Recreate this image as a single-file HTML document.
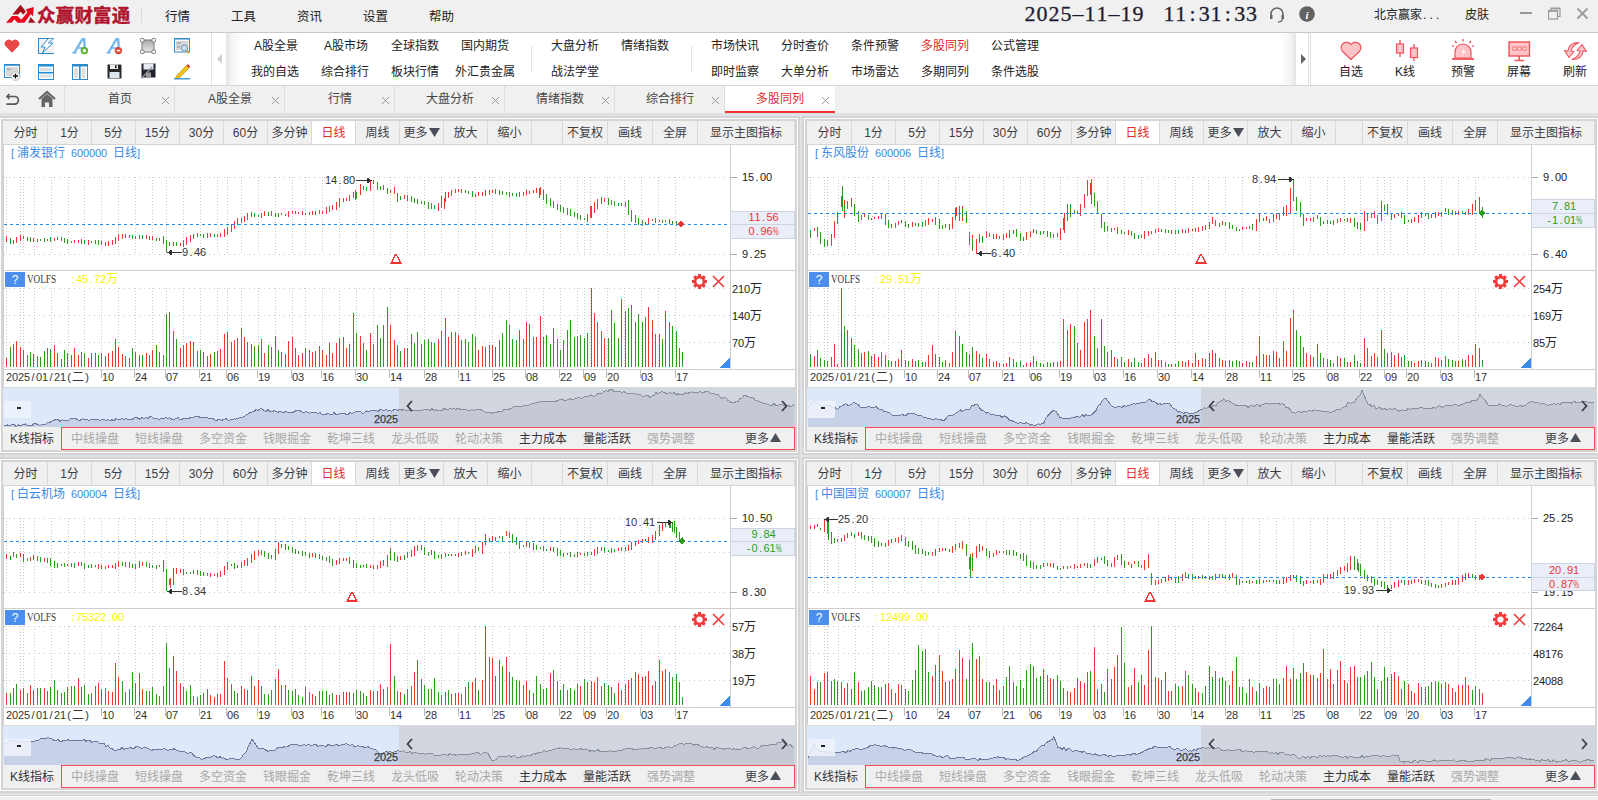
<!DOCTYPE html><html><head><meta charset="utf-8"><style>
*{margin:0;padding:0;box-sizing:border-box}
html,body{width:1598px;height:800px;overflow:hidden;background:#dfe2e7;font-family:"Liberation Sans","Noto Sans CJK SC",sans-serif;font-size:12px;color:#333}
.a{position:absolute;white-space:nowrap}
#title{position:absolute;left:0;top:0;width:1598px;height:33px;background:#f0f0f0;border-bottom:1px solid #c9c9c9}
#tool{position:absolute;left:0;top:33px;width:1598px;height:53px;background:#fff;border-bottom:1px solid #d6d6d6}
#tabs{position:absolute;left:0;top:86px;width:1598px;height:27px;background:#f0f0f0}
.menu{font-size:12.5px;color:#222;top:6px}
.tl{font-size:12px;color:#222}
.tab{position:absolute;top:0;height:27px;width:110px;border-right:1px solid #dcdcdc;font-size:12px;color:#444}
.tab .t{position:absolute;top:3px;left:0;width:110px;text-align:center}
.tab svg{position:absolute;top:10px;left:96px}
.panel{position:absolute;background:#f0f0f0;border:2px solid #d4d4d4;overflow:hidden;box-shadow:0 0 0 1px #fdfdfd,0 0 0 3px #d4d4d4}
.pb{position:absolute;top:0;height:24px;border-right:1px solid #d9d9d9;background:#f0f0f0;text-align:center;line-height:25px;font-size:12px;color:#3a3d45}
</style></head><body>
<div id="title">
<svg class="a" style="left:0;top:0" width="37" height="28" viewBox="0 0 37 28">
<polygon points="12.4,14.6 20.5,4.7 26,11.4 23.4,14.6 20.5,11.8 18,14.6" fill="#a50f1c"/>
<polygon points="6,22.8 12,16 17.5,16 21.3,19.7 27.3,12.6 26,9.2 33.8,7 33,16.3 30.8,13.9 24.4,22.8 17.6,22.8 14.3,19.3 11.6,22.8" fill="#e8071f"/>
<polygon points="30.5,17 35.5,22.8 28.3,22.8" fill="#a50f1c"/>
</svg>
<div class="a" style="left:37px;top:1px;font-size:18.5px;font-weight:700;color:#b0132b;letter-spacing:0.2px;-webkit-text-stroke:0.4px #b0132b;font-family:'Liberation Sans','Noto Sans CJK SC',sans-serif">众赢财富通</div>
<div class="a" style="left:141px;top:8px;width:1px;height:15px;background:#dadada"></div>
<div class="a menu" style="left:165px">行情</div>
<div class="a menu" style="left:231px">工具</div>
<div class="a menu" style="left:297px">资讯</div>
<div class="a menu" style="left:363px">设置</div>
<div class="a menu" style="left:429px">帮助</div>
<div class="a" style="left:1024px;top:1px;font-size:22px;color:#1d1d33;font-family:'Liberation Serif',serif;-webkit-text-stroke:0.3px #1d1d33"><span style="display:inline-block;width:12.0px;text-align:center">2</span><span style="display:inline-block;width:12.0px;text-align:center">0</span><span style="display:inline-block;width:12.0px;text-align:center">2</span><span style="display:inline-block;width:12.0px;text-align:center">5</span><span style="display:inline-block;width:12.0px;text-align:center">–</span><span style="display:inline-block;width:12.0px;text-align:center">1</span><span style="display:inline-block;width:12.0px;text-align:center">1</span><span style="display:inline-block;width:12.0px;text-align:center">–</span><span style="display:inline-block;width:12.0px;text-align:center">1</span><span style="display:inline-block;width:12.0px;text-align:center">9</span></div>
<div class="a" style="left:1163px;top:1px;font-size:22px;color:#1d1d33;font-family:'Liberation Serif',serif;-webkit-text-stroke:0.3px #1d1d33"><span style="display:inline-block;width:11.8px;text-align:center">1</span><span style="display:inline-block;width:11.8px;text-align:center">1</span><span style="display:inline-block;width:11.8px;text-align:center">:</span><span style="display:inline-block;width:11.8px;text-align:center">3</span><span style="display:inline-block;width:11.8px;text-align:center">1</span><span style="display:inline-block;width:11.8px;text-align:center">:</span><span style="display:inline-block;width:11.8px;text-align:center">3</span><span style="display:inline-block;width:11.8px;text-align:center">3</span></div>
<svg class="a" style="left:1268px;top:6px" width="18" height="18" viewBox="0 0 18 18">
<path d="M3,11 V8 A6,6 0 0 1 15,8 V11" fill="none" stroke="#666" stroke-width="1.6"/>
<rect x="2" y="9" width="2.5" height="4" fill="#666"/><rect x="13.5" y="9" width="2.5" height="4" fill="#666"/>
<path d="M14.5,13 Q14,16 10,16" fill="none" stroke="#666" stroke-width="1.3"/></svg>
<svg class="a" style="left:1299px;top:6px" width="17" height="17" viewBox="0 0 17 17">
<circle cx="8" cy="8" r="7.8" fill="#626262"/><text x="8" y="12.5" font-size="11" font-weight="bold" font-style="italic" fill="#fff" text-anchor="middle" font-family="Liberation Serif">i</text></svg>
<div class="a" style="left:1374px;top:5px;font-size:12px;color:#222">北京赢家<span style="letter-spacing:3.2px;margin-left:1px">...</span></div>
<div class="a" style="left:1465px;top:5px;font-size:12px;color:#222">皮肤</div>
<div class="a" style="left:1520px;top:12px;width:12px;height:2px;background:#999"></div>
<svg class="a" style="left:1548px;top:7px" width="14" height="14" viewBox="0 0 14 14"><rect x="0.5" y="3.5" width="9" height="8.5" fill="none" stroke="#999" stroke-width="1.2"/><path d="M0.5,4 H9.5" stroke="#999" stroke-width="1.5"/><path d="M3,3.5 V1 H12 V9.5 H9.5 M3,1.6 H12" fill="none" stroke="#999" stroke-width="1.2"/></svg>
<svg class="a" style="left:1576px;top:7px" width="14" height="14" viewBox="0 0 14 14"><path d="M1.5,1.5 L11.5,11.5 M11.5,1.5 L1.5,11.5" stroke="#999" stroke-width="1.8"/></svg>
</div>
<div id="tool">
<svg class="a" style="left:4px;top:5px" width="16" height="16" viewBox="0 0 16 16"><path d="M8,14.8 L1.6,8.2 A3.9,3.9 0 0 1 8,3.3 A3.9,3.9 0 0 1 14.4,8.2 Z" fill="#e84848"/></svg>
<svg class="a" style="left:38px;top:5px" width="16" height="16" viewBox="0 0 16 16"><rect x="1" y="1" width="15" height="14" fill="#f2f2f2"/><path d="M0.5,0 V15.5 H16 M0.5,0.5 H16" fill="none" stroke="#2d8bcc"/><path d="M10,1 L3,9 H7 L4.5,15 L15,5 H10.5 L15,0.5" fill="#fff" stroke="#2d8bcc" stroke-width="1"/></svg>
<svg class="a" style="left:72px;top:5px" width="17" height="17" viewBox="0 0 17 17"><path d="M0.5,14.8 H4.5" stroke="#5fa6e6" stroke-width="1.4"/><path d="M2.5,14.5 L10.5,1 H12.2 L12.8,14" fill="none" stroke="#74b6f0" stroke-width="2.4" stroke-linejoin="round"/><path d="M5.5,10 H12" stroke="#74b6f0" stroke-width="1.6"/><circle cx="12.4" cy="12.6" r="3.7" fill="#4cae2c"/><path d="M10.6,12.6 H14.2 M12.4,10.8 V14.4" stroke="#fff" stroke-width="1.6"/></svg>
<svg class="a" style="left:106px;top:5px" width="17" height="17" viewBox="0 0 17 17"><path d="M0.5,14.8 H4.5" stroke="#5fa6e6" stroke-width="1.4"/><path d="M2.5,14.5 L10.5,1 H12.2 L12.8,14" fill="none" stroke="#74b6f0" stroke-width="2.4" stroke-linejoin="round"/><path d="M5.5,10 H12" stroke="#74b6f0" stroke-width="1.6"/><circle cx="12.4" cy="12.6" r="3.7" fill="#e2483a"/><path d="M10.6,12.6 H14.2" stroke="#fff" stroke-width="1.6"/></svg>
<svg class="a" style="left:140px;top:5px" width="16" height="16" viewBox="0 0 16 16"><defs><linearGradient id="gg" x1="0" y1="0" x2="0" y2="1"><stop offset="0" stop-color="#a8a8a8"/><stop offset="1" stop-color="#e8e8e8"/></linearGradient></defs><rect x="2" y="2" width="12" height="12" fill="url(#gg)" stroke="#7a7a7a"/><rect x="0.5" y="0.5" width="3.5" height="3.5" rx="0.8" fill="#fff" stroke="#7a7a7a"/><rect x="12" y="0.5" width="3.5" height="3.5" rx="0.8" fill="#fff" stroke="#7a7a7a"/><rect x="0.5" y="12" width="3.5" height="3.5" rx="0.8" fill="#fff" stroke="#7a7a7a"/><rect x="12" y="12" width="3.5" height="3.5" rx="0.8" fill="#fff" stroke="#7a7a7a"/></svg>
<svg class="a" style="left:174px;top:5px" width="16" height="16" viewBox="0 0 16 16"><rect x="0.5" y="0.5" width="15" height="13.5" fill="#fff" stroke="#2d8bcc"/><rect x="0.5" y="0" width="15" height="1.5" fill="#2d8bcc"/><rect x="2" y="3" width="12" height="9" fill="#d6d6d6"/><rect x="3" y="4.5" width="4" height="1.5" fill="#aaa"/><rect x="3" y="8" width="3" height="1.5" fill="#aaa"/><circle cx="10.5" cy="10" r="3.2" fill="#bfe3fa" stroke="#8a8a8a" stroke-width="1"/><path d="M12.8,12.5 L15,15" stroke="#d8a030" stroke-width="2"/></svg>
<svg class="a" style="left:4px;top:31px" width="17" height="17" viewBox="0 0 17 17"><rect x="0.5" y="0.5" width="15" height="13" fill="#fff" stroke="#2d8bcc"/><rect x="0.5" y="0" width="15" height="1.8" fill="#2d8bcc"/><rect x="2" y="3" width="12" height="9" fill="#d8d8d8"/><rect x="3" y="4.5" width="4" height="1.5" fill="#aaa"/><circle cx="11.5" cy="12" r="4.4" fill="#f4f4f4" stroke="#bbb"/><path d="M9,12 H14 M11.5,9.5 V14.5" stroke="#111" stroke-width="1.3"/></svg>
<svg class="a" style="left:38px;top:31px" width="16" height="16" viewBox="0 0 16 16"><rect x="0.5" y="0.5" width="15" height="15" fill="#fff" stroke="#2d8bcc"/><rect x="0.5" y="0" width="15" height="2.5" fill="#2d8bcc"/><rect x="2" y="4" width="12" height="3" fill="#e0e0e0"/><rect x="2" y="10.5" width="12" height="3" fill="#e0e0e0"/><path d="M0.5,8.7 H15.5" stroke="#2d8bcc" stroke-width="1.6"/></svg>
<svg class="a" style="left:72px;top:31px" width="16" height="16" viewBox="0 0 16 16"><rect x="0.5" y="0.5" width="15" height="15" fill="#fff" stroke="#2d8bcc"/><rect x="0.5" y="0" width="15" height="2.5" fill="#2d8bcc"/><rect x="2" y="4" width="4" height="10" fill="#e0e0e0"/><rect x="9.5" y="4" width="4" height="10" fill="#e0e0e0"/><path d="M7.8,1 V15.5" stroke="#2d8bcc" stroke-width="1.6"/></svg>
<svg class="a" style="left:107px;top:31px" width="15" height="15" viewBox="0 0 15 15"><path d="M0.5,1 Q0.5,0.5 1,0.5 H13.5 Q14.5,0.5 14.5,1.5 V14 Q14.5,14.5 14,14.5 H1 Q0.5,14.5 0.5,14 Z" fill="#2a2a2a"/><rect x="3" y="0.5" width="8" height="4.5" fill="#eee"/><rect x="8" y="1.2" width="1.6" height="3" fill="#2a2a2a"/><rect x="2.5" y="8" width="10" height="6" fill="#dde5f0"/></svg>
<svg class="a" style="left:141px;top:30px" width="15" height="16" viewBox="0 0 15 16"><rect x="0.5" y="0.5" width="14" height="14" fill="#1f2430"/><rect x="2.5" y="0.5" width="10" height="6" fill="#e8eaf0"/><rect x="5" y="9.5" width="5" height="5" fill="#999"/><path d="M0.5,15.5 L11,4" stroke="#999" stroke-width="1.3"/></svg>
<svg class="a" style="left:174px;top:30px" width="17" height="17" viewBox="0 0 17 17"><path d="M2.5,13 L12.5,2.5 L15,5 L5,15 L1.5,15.5 Z" fill="#f5c518" stroke="#c09000" stroke-width="0.8"/><path d="M12.5,2.5 L14,1 L16.3,3.4 L15,5 Z" fill="#e04040"/><path d="M0,15.8 H16" stroke="#2d8bcc" stroke-width="1.3"/></svg>
<div class="a" style="left:211px;top:0;width:1px;height:52px;background:#e2e2e2"></div>
<div class="a" style="left:226px;top:0;width:16px;height:52px;background:linear-gradient(90deg,#e4e4e4 0,#f4f4f4 35%,#fff 100%)"></div>
<div class="a" style="left:217px;top:21px;width:0;height:0;border-top:5px solid transparent;border-bottom:5px solid transparent;border-right:5px solid #d0d0d0"></div>
<div class="a" style="left:1280px;top:0;width:16px;height:52px;background:linear-gradient(90deg,#fff 0,#f4f4f4 65%,#e4e4e4 100%)"></div>
<div class="a" style="left:1296px;top:0;width:12px;height:52px;background:#fff"></div>
<div class="a" style="left:1301px;top:21px;width:0;height:0;border-top:5px solid transparent;border-bottom:5px solid transparent;border-left:5px solid #666"></div>
<div class="a" style="left:1308px;top:0;width:1px;height:52px;background:#e0e0e0"></div>
<div class="a" style="left:1310px;top:0;width:1px;height:52px;background:#e0e0e0"></div>
<div class="a tl" style="left:254px;top:3px;color:#222">A股全景</div>
<div class="a tl" style="left:251px;top:29px">我的自选</div>
<div class="a tl" style="left:324px;top:3px;color:#222">A股市场</div>
<div class="a tl" style="left:321px;top:29px">综合排行</div>
<div class="a tl" style="left:391px;top:3px;color:#222">全球指数</div>
<div class="a tl" style="left:391px;top:29px">板块行情</div>
<div class="a tl" style="left:461px;top:3px;color:#222">国内期货</div>
<div class="a tl" style="left:455px;top:29px">外汇贵金属</div>
<div class="a tl" style="left:551px;top:3px;color:#222">大盘分析</div>
<div class="a tl" style="left:551px;top:29px">战法学堂</div>
<div class="a tl" style="left:621px;top:3px;color:#222">情绪指数</div>
<div class="a tl" style="left:711px;top:3px;color:#222">市场快讯</div>
<div class="a tl" style="left:711px;top:29px">即时监察</div>
<div class="a tl" style="left:781px;top:3px;color:#222">分时查价</div>
<div class="a tl" style="left:781px;top:29px">大单分析</div>
<div class="a tl" style="left:851px;top:3px;color:#222">条件预警</div>
<div class="a tl" style="left:851px;top:29px">市场雷达</div>
<div class="a tl" style="left:921px;top:3px;color:#e02b2b">多股同列</div>
<div class="a tl" style="left:921px;top:29px">多期同列</div>
<div class="a tl" style="left:991px;top:3px;color:#222">公式管理</div>
<div class="a tl" style="left:991px;top:29px">条件选股</div>
<div class="a" style="left:531px;top:13px;width:1px;height:27px;background:#e2e2e2"></div>
<div class="a" style="left:691px;top:13px;width:1px;height:27px;background:#e2e2e2"></div>
<svg class="a" style="left:1340px;top:8px" width="22" height="20" viewBox="0 0 22 20"><path d="M11,18.5 L2.2,10 A5,5 0 0 1 11,3.5 A5,5 0 0 1 19.8,10 Z" fill="#ffc4c8" stroke="#f0505a" stroke-width="1.2"/></svg>
<svg class="a" style="left:1395px;top:6px" width="24" height="23" viewBox="0 0 24 23"><path d="M5,1 V18 M19,5 V22" stroke="#f0505a" stroke-width="1.3"/><rect x="1.5" y="5" width="7" height="9" fill="#ffc4c8" stroke="#f0505a" stroke-width="1.2"/><rect x="15.5" y="9" width="7" height="9.5" fill="#ffc4c8" stroke="#f0505a" stroke-width="1.2"/></svg>
<svg class="a" style="left:1451px;top:5px" width="24" height="23" viewBox="0 0 24 23"><path d="M12,1 V3.5 M4,3 L5.5,5 M20,3 L18.5,5 M1,7.5 L3,8.5 M23,7.5 L21,8.5" stroke="#f0505a" stroke-width="1.3"/><path d="M4,20 V14 A8,8 0 0 1 20,14 V20 Z" fill="#ffc4c8" stroke="#f0505a" stroke-width="1.2"/><path d="M1,21 H23" stroke="#f0505a" stroke-width="1.8"/><path d="M13,10 L10.5,14.5 H12.8 L11.5,18 L14.5,13.2 H12.3 Z" fill="#fff"/></svg>
<svg class="a" style="left:1508px;top:8px" width="23" height="21" viewBox="0 0 23 21"><rect x="1" y="1" width="20.5" height="14" fill="#ffc4c8" stroke="#f0505a" stroke-width="1.4"/><rect x="5" y="6" width="3" height="3" fill="#fff" stroke="#f0505a" stroke-width="0.8"/><rect x="10" y="6" width="3" height="3" fill="#fff" stroke="#f0505a" stroke-width="0.8"/><rect x="15" y="6" width="3" height="3" fill="#fff" stroke="#f0505a" stroke-width="0.8"/><path d="M11.2,15 V19 M6.5,19.5 H16" stroke="#f0505a" stroke-width="1.5"/></svg>
<svg class="a" style="left:1563px;top:8px" width="25" height="20" viewBox="0 0 25 20"><path d="M16,1.5 C9.5,1.5 5.5,4.5 5,10 L1.5,9.5 L6,16.5 L11,10.5 L8,10.3 C8.5,6.5 11.5,3.5 16,1.5 Z" fill="#ffc4c8" stroke="#f0505a" stroke-width="1.1" stroke-linejoin="round"/><path d="M9,18.5 C15.5,18.5 19.5,15.5 20,10 L23.5,10.5 L19,3.5 L14,9.5 L17,9.7 C16.5,13.5 13.5,16.5 9,18.5 Z" fill="#ffc4c8" stroke="#f0505a" stroke-width="1.1" stroke-linejoin="round"/></svg>
<div class="a tl" style="left:1339px;top:29px">自选</div>
<div class="a tl" style="left:1395px;top:29px">K线</div>
<div class="a tl" style="left:1451px;top:29px">预警</div>
<div class="a tl" style="left:1507px;top:29px">屏幕</div>
<div class="a tl" style="left:1563px;top:29px">刷新</div>
</div>
<div id="tabs">
<svg class="a" style="left:5px;top:5px" width="16" height="16" viewBox="0 0 16 16"><path d="M4.5,3 L2,5.5 L4.5,8" fill="none" stroke="#555" stroke-width="1.6"/><path d="M2,5.5 H9.5 A3.8,3.8 0 0 1 9.5,13.2 H1.5" fill="none" stroke="#555" stroke-width="1.7"/></svg>
<svg class="a" style="left:38px;top:4px" width="18" height="18" viewBox="0 0 18 18"><path d="M1,9 L9,2 L17,9" fill="none" stroke="#666" stroke-width="2.2"/><path d="M3.5,8.5 L9,4 L14.5,8.5 V17 H11 V12.5 H7 V17 H3.5 Z" fill="#666"/></svg>
<div class="a" style="left:64px;top:0;width:1px;height:27px;background:#dcdcdc"></div>
<div class="tab" style="left:65px"><div class="t">首页</div><svg width="9" height="9" viewBox="0 0 9 9"><path d="M1,1 L8,8 M8,1 L1,8" stroke="#9a9a9a" stroke-width="1"/></svg></div>
<div class="tab" style="left:175px"><div class="t">A股全景</div><svg width="9" height="9" viewBox="0 0 9 9"><path d="M1,1 L8,8 M8,1 L1,8" stroke="#9a9a9a" stroke-width="1"/></svg></div>
<div class="tab" style="left:285px"><div class="t">行情</div><svg width="9" height="9" viewBox="0 0 9 9"><path d="M1,1 L8,8 M8,1 L1,8" stroke="#9a9a9a" stroke-width="1"/></svg></div>
<div class="tab" style="left:395px"><div class="t">大盘分析</div><svg width="9" height="9" viewBox="0 0 9 9"><path d="M1,1 L8,8 M8,1 L1,8" stroke="#9a9a9a" stroke-width="1"/></svg></div>
<div class="tab" style="left:505px"><div class="t">情绪指数</div><svg width="9" height="9" viewBox="0 0 9 9"><path d="M1,1 L8,8 M8,1 L1,8" stroke="#9a9a9a" stroke-width="1"/></svg></div>
<div class="tab" style="left:615px"><div class="t">综合排行</div><svg width="9" height="9" viewBox="0 0 9 9"><path d="M1,1 L8,8 M8,1 L1,8" stroke="#9a9a9a" stroke-width="1"/></svg></div>
<div class="tab" style="left:725px;background:#fff;border-right:none"><div class="t" style="color:#e02b2b;left:0px">多股同列</div><svg width="9" height="9" viewBox="0 0 9 9"><path d="M1,1 L8,8 M8,1 L1,8" stroke="#9a9a9a" stroke-width="1"/></svg><div class="a" style="left:0;top:25px;width:110px;height:2px;background:#fa3039"></div></div>
</div>
<div class="a" style="left:0;top:113px;width:1598px;height:1px;background:#d9e1e2"></div>
<div class="a" style="left:0;top:795px;width:1598px;height:1px;background:#d2d2d2"></div>
<div class="a" style="left:0;top:796px;width:1598px;height:1px;background:#fafafa"></div>
<div class="a" style="left:0;top:797px;width:1598px;height:3px;background:#f0f0f0"></div>
<div class="a" style="left:1271px;top:799px;width:220px;height:1px;background:#b8b8b8"></div>
<div class="panel" style="left:1px;top:119px;width:796px;height:333px"></div>
<div class="pb" style="left:4px;top:121px;width:44px;">分时</div>
<div class="pb" style="left:48px;top:121px;width:44px;">1分</div>
<div class="pb" style="left:92px;top:121px;width:44px;">5分</div>
<div class="pb" style="left:136px;top:121px;width:44px;">15分</div>
<div class="pb" style="left:180px;top:121px;width:44px;">30分</div>
<div class="pb" style="left:224px;top:121px;width:44px;">60分</div>
<div class="pb" style="left:268px;top:121px;width:44px;">多分钟</div>
<div class="pb" style="left:312px;top:121px;width:44px;background:#fff;color:#e02b2b;">日线</div>
<div class="pb" style="left:356px;top:121px;width:44px;">周线</div>
<div class="pb" style="left:400px;top:121px;width:44px;">更多<svg width="11" height="9" style="margin-left:1px;vertical-align:-0px"><path d="M0,0 H11 L5.5,9 Z" fill="#4a4e58"/></svg></div>
<div class="pb" style="left:444px;top:121px;width:44px;">放大</div>
<div class="pb" style="left:488px;top:121px;width:44px;">缩小</div>
<div class="pb" style="left:532px;top:121px;width:31px;"></div>
<div class="pb" style="left:563px;top:121px;width:45px;">不复权</div>
<div class="pb" style="left:608px;top:121px;width:45px;">画线</div>
<div class="pb" style="left:653px;top:121px;width:45px;">全屏</div>
<div class="pb" style="left:698px;top:121px;width:97px;">显示主图指标</div>
<div class="a" style="left:10px;top:429px;font-size:12px;color:#333">K线指标</div>
<div class="a" style="left:61px;top:427px;width:734px;height:23px;border:1px solid #f84a50"></div>
<div class="a" style="left:71px;top:429px;font-size:12px;color:#a8a8a8">中线操盘</div>
<div class="a" style="left:135px;top:429px;font-size:12px;color:#a8a8a8">短线操盘</div>
<div class="a" style="left:199px;top:429px;font-size:12px;color:#a8a8a8">多空资金</div>
<div class="a" style="left:263px;top:429px;font-size:12px;color:#a8a8a8">钱眼掘金</div>
<div class="a" style="left:327px;top:429px;font-size:12px;color:#a8a8a8">乾坤三线</div>
<div class="a" style="left:391px;top:429px;font-size:12px;color:#a8a8a8">龙头低吸</div>
<div class="a" style="left:455px;top:429px;font-size:12px;color:#a8a8a8">轮动决策</div>
<div class="a" style="left:519px;top:429px;font-size:12px;color:#333">主力成本</div>
<div class="a" style="left:583px;top:429px;font-size:12px;color:#333">量能活跃</div>
<div class="a" style="left:647px;top:429px;font-size:12px;color:#a8a8a8">强势调整</div>
<div class="a" style="left:745px;top:429px;font-size:12px;color:#3a3d45">更多<svg width="11" height="9" style="margin-left:1px;vertical-align:1px"><path d="M0,9 H11 L5.5,0 Z" fill="#4a4e58"/></svg></div>
<div class="panel" style="left:805px;top:119px;width:792px;height:333px"></div>
<div class="pb" style="left:808px;top:121px;width:44px;">分时</div>
<div class="pb" style="left:852px;top:121px;width:44px;">1分</div>
<div class="pb" style="left:896px;top:121px;width:44px;">5分</div>
<div class="pb" style="left:940px;top:121px;width:44px;">15分</div>
<div class="pb" style="left:984px;top:121px;width:44px;">30分</div>
<div class="pb" style="left:1028px;top:121px;width:44px;">60分</div>
<div class="pb" style="left:1072px;top:121px;width:44px;">多分钟</div>
<div class="pb" style="left:1116px;top:121px;width:44px;background:#fff;color:#e02b2b;">日线</div>
<div class="pb" style="left:1160px;top:121px;width:44px;">周线</div>
<div class="pb" style="left:1204px;top:121px;width:44px;">更多<svg width="11" height="9" style="margin-left:1px;vertical-align:-0px"><path d="M0,0 H11 L5.5,9 Z" fill="#4a4e58"/></svg></div>
<div class="pb" style="left:1248px;top:121px;width:44px;">放大</div>
<div class="pb" style="left:1292px;top:121px;width:44px;">缩小</div>
<div class="pb" style="left:1336px;top:121px;width:27px;"></div>
<div class="pb" style="left:1363px;top:121px;width:45px;">不复权</div>
<div class="pb" style="left:1408px;top:121px;width:45px;">画线</div>
<div class="pb" style="left:1453px;top:121px;width:45px;">全屏</div>
<div class="pb" style="left:1498px;top:121px;width:97px;">显示主图指标</div>
<div class="a" style="left:814px;top:429px;font-size:12px;color:#333">K线指标</div>
<div class="a" style="left:865px;top:427px;width:730px;height:23px;border:1px solid #f84a50"></div>
<div class="a" style="left:875px;top:429px;font-size:12px;color:#a8a8a8">中线操盘</div>
<div class="a" style="left:939px;top:429px;font-size:12px;color:#a8a8a8">短线操盘</div>
<div class="a" style="left:1003px;top:429px;font-size:12px;color:#a8a8a8">多空资金</div>
<div class="a" style="left:1067px;top:429px;font-size:12px;color:#a8a8a8">钱眼掘金</div>
<div class="a" style="left:1131px;top:429px;font-size:12px;color:#a8a8a8">乾坤三线</div>
<div class="a" style="left:1195px;top:429px;font-size:12px;color:#a8a8a8">龙头低吸</div>
<div class="a" style="left:1259px;top:429px;font-size:12px;color:#a8a8a8">轮动决策</div>
<div class="a" style="left:1323px;top:429px;font-size:12px;color:#333">主力成本</div>
<div class="a" style="left:1387px;top:429px;font-size:12px;color:#333">量能活跃</div>
<div class="a" style="left:1451px;top:429px;font-size:12px;color:#a8a8a8">强势调整</div>
<div class="a" style="left:1545px;top:429px;font-size:12px;color:#3a3d45">更多<svg width="11" height="9" style="margin-left:1px;vertical-align:1px"><path d="M0,9 H11 L5.5,0 Z" fill="#4a4e58"/></svg></div>
<div class="panel" style="left:1px;top:460px;width:796px;height:330px"></div>
<div class="pb" style="left:4px;top:462px;width:44px;">分时</div>
<div class="pb" style="left:48px;top:462px;width:44px;">1分</div>
<div class="pb" style="left:92px;top:462px;width:44px;">5分</div>
<div class="pb" style="left:136px;top:462px;width:44px;">15分</div>
<div class="pb" style="left:180px;top:462px;width:44px;">30分</div>
<div class="pb" style="left:224px;top:462px;width:44px;">60分</div>
<div class="pb" style="left:268px;top:462px;width:44px;">多分钟</div>
<div class="pb" style="left:312px;top:462px;width:44px;background:#fff;color:#e02b2b;">日线</div>
<div class="pb" style="left:356px;top:462px;width:44px;">周线</div>
<div class="pb" style="left:400px;top:462px;width:44px;">更多<svg width="11" height="9" style="margin-left:1px;vertical-align:-0px"><path d="M0,0 H11 L5.5,9 Z" fill="#4a4e58"/></svg></div>
<div class="pb" style="left:444px;top:462px;width:44px;">放大</div>
<div class="pb" style="left:488px;top:462px;width:44px;">缩小</div>
<div class="pb" style="left:532px;top:462px;width:31px;"></div>
<div class="pb" style="left:563px;top:462px;width:45px;">不复权</div>
<div class="pb" style="left:608px;top:462px;width:45px;">画线</div>
<div class="pb" style="left:653px;top:462px;width:45px;">全屏</div>
<div class="pb" style="left:698px;top:462px;width:97px;">显示主图指标</div>
<div class="a" style="left:10px;top:767px;font-size:12px;color:#333">K线指标</div>
<div class="a" style="left:61px;top:765px;width:734px;height:23px;border:1px solid #f84a50"></div>
<div class="a" style="left:71px;top:767px;font-size:12px;color:#a8a8a8">中线操盘</div>
<div class="a" style="left:135px;top:767px;font-size:12px;color:#a8a8a8">短线操盘</div>
<div class="a" style="left:199px;top:767px;font-size:12px;color:#a8a8a8">多空资金</div>
<div class="a" style="left:263px;top:767px;font-size:12px;color:#a8a8a8">钱眼掘金</div>
<div class="a" style="left:327px;top:767px;font-size:12px;color:#a8a8a8">乾坤三线</div>
<div class="a" style="left:391px;top:767px;font-size:12px;color:#a8a8a8">龙头低吸</div>
<div class="a" style="left:455px;top:767px;font-size:12px;color:#a8a8a8">轮动决策</div>
<div class="a" style="left:519px;top:767px;font-size:12px;color:#333">主力成本</div>
<div class="a" style="left:583px;top:767px;font-size:12px;color:#333">量能活跃</div>
<div class="a" style="left:647px;top:767px;font-size:12px;color:#a8a8a8">强势调整</div>
<div class="a" style="left:745px;top:767px;font-size:12px;color:#3a3d45">更多<svg width="11" height="9" style="margin-left:1px;vertical-align:1px"><path d="M0,9 H11 L5.5,0 Z" fill="#4a4e58"/></svg></div>
<div class="panel" style="left:805px;top:460px;width:792px;height:330px"></div>
<div class="pb" style="left:808px;top:462px;width:44px;">分时</div>
<div class="pb" style="left:852px;top:462px;width:44px;">1分</div>
<div class="pb" style="left:896px;top:462px;width:44px;">5分</div>
<div class="pb" style="left:940px;top:462px;width:44px;">15分</div>
<div class="pb" style="left:984px;top:462px;width:44px;">30分</div>
<div class="pb" style="left:1028px;top:462px;width:44px;">60分</div>
<div class="pb" style="left:1072px;top:462px;width:44px;">多分钟</div>
<div class="pb" style="left:1116px;top:462px;width:44px;background:#fff;color:#e02b2b;">日线</div>
<div class="pb" style="left:1160px;top:462px;width:44px;">周线</div>
<div class="pb" style="left:1204px;top:462px;width:44px;">更多<svg width="11" height="9" style="margin-left:1px;vertical-align:-0px"><path d="M0,0 H11 L5.5,9 Z" fill="#4a4e58"/></svg></div>
<div class="pb" style="left:1248px;top:462px;width:44px;">放大</div>
<div class="pb" style="left:1292px;top:462px;width:44px;">缩小</div>
<div class="pb" style="left:1336px;top:462px;width:27px;"></div>
<div class="pb" style="left:1363px;top:462px;width:45px;">不复权</div>
<div class="pb" style="left:1408px;top:462px;width:45px;">画线</div>
<div class="pb" style="left:1453px;top:462px;width:45px;">全屏</div>
<div class="pb" style="left:1498px;top:462px;width:97px;">显示主图指标</div>
<div class="a" style="left:814px;top:767px;font-size:12px;color:#333">K线指标</div>
<div class="a" style="left:865px;top:765px;width:730px;height:23px;border:1px solid #f84a50"></div>
<div class="a" style="left:875px;top:767px;font-size:12px;color:#a8a8a8">中线操盘</div>
<div class="a" style="left:939px;top:767px;font-size:12px;color:#a8a8a8">短线操盘</div>
<div class="a" style="left:1003px;top:767px;font-size:12px;color:#a8a8a8">多空资金</div>
<div class="a" style="left:1067px;top:767px;font-size:12px;color:#a8a8a8">钱眼掘金</div>
<div class="a" style="left:1131px;top:767px;font-size:12px;color:#a8a8a8">乾坤三线</div>
<div class="a" style="left:1195px;top:767px;font-size:12px;color:#a8a8a8">龙头低吸</div>
<div class="a" style="left:1259px;top:767px;font-size:12px;color:#a8a8a8">轮动决策</div>
<div class="a" style="left:1323px;top:767px;font-size:12px;color:#333">主力成本</div>
<div class="a" style="left:1387px;top:767px;font-size:12px;color:#333">量能活跃</div>
<div class="a" style="left:1451px;top:767px;font-size:12px;color:#a8a8a8">强势调整</div>
<div class="a" style="left:1545px;top:767px;font-size:12px;color:#3a3d45">更多<svg width="11" height="9" style="margin-left:1px;vertical-align:1px"><path d="M0,9 H11 L5.5,0 Z" fill="#4a4e58"/></svg></div>
<svg class="a" style="left:0;top:0" width="1598" height="800" viewBox="0 0 1598 800" shape-rendering="crispEdges"><rect x="3" y="145" width="792" height="125" fill="#fff"/>
<rect x="3" y="270" width="792" height="118" fill="#fff"/>
<rect x="3" y="144" width="792" height="1" fill="#d4d4d4"/>
<rect x="3" y="145" width="1" height="242" fill="#cfcfcf"/>
<rect x="730" y="145" width="1" height="225" fill="#cfcfcf"/>
<rect x="4" y="270" width="791" height="1" fill="#cfcfcf"/>
<rect x="4" y="369" width="791" height="1" fill="#cfcfcf"/>
<rect x="3" y="387" width="792" height="1" fill="#d8d8d8"/>
<text x="10.94 70.94 76.94 82.94 88.94 94.94 100.94 136.94" y="157" font-family="Liberation Sans,sans-serif" font-size="11" fill="#3a8ae6" >[600000]</text><text x="17.00 29.00 41.00 53.00 113.00 125.00" y="157" font-family="Liberation Sans,Noto Sans CJK SC,sans-serif" font-size="12" fill="#3a8ae6" >浦发银行日线</text>
<path d="M6.5,177V254M6.5,288V367M20.5,177V254M20.5,288V367M23.5,177V254M23.5,288V367M34.5,177V254M34.5,288V367M51.5,177V254M51.5,288V367M68.5,177V254M68.5,288V367M84.5,177V254M84.5,288V367M101.5,177V254M101.5,288V367M118.5,177V254M118.5,288V367M135.5,177V254M135.5,288V367M152.5,177V254M152.5,288V367M166.5,177V254M166.5,288V367M183.5,177V254M183.5,288V367M200.5,177V254M200.5,288V367M217.5,177V254M217.5,288V367M227.5,177V254M227.5,288V367M241.5,177V254M241.5,288V367M258.5,177V254M258.5,288V367M275.5,177V254M275.5,288V367M292.5,177V254M292.5,288V367M305.5,177V254M305.5,288V367M322.5,177V254M322.5,288V367M339.5,177V254M339.5,288V367M356.5,177V254M356.5,288V367M373.5,177V254M373.5,288V367M390.5,177V254M390.5,288V367M407.5,177V254M407.5,288V367M424.5,177V254M424.5,288V367M441.5,177V254M441.5,288V367M458.5,177V254M458.5,288V367M475.5,177V254M475.5,288V367M492.5,177V254M492.5,288V367M509.5,177V254M509.5,288V367M526.5,177V254M526.5,288V367M543.5,177V254M543.5,288V367M560.5,177V254M560.5,288V367M577.5,177V254M577.5,288V367M584.5,177V254M584.5,288V367M590.5,177V254M590.5,288V367M607.5,177V254M607.5,288V367M624.5,177V254M624.5,288V367M641.5,177V254M641.5,288V367M658.5,177V254M658.5,288V367M675.5,177V254M675.5,288V367" stroke="#c8c8c8" stroke-width="1" stroke-dasharray="1,2" fill="none"/>
<path d="M4,177.5H730M4,254.5H730M4,288.5H730M4,315.5H730M4,342.5H730" stroke="#c8c8c8" stroke-width="1" stroke-dasharray="1,4" fill="none"/>
<path d="M6.5,236.3V242.3M13.5,239.6V243.8M16.5,236.9V243.4M20.5,234.6V240.6M33.5,238.1V242.4M37.5,238.6V241.8M47.5,238.8V240.8M54.5,237.8V240.8M57.5,236.8V240.1M61.5,236.8V240.7M74.5,240.3V242.7M78.5,240.4V242.9M81.5,239.3V243.6M88.5,240.1V244.9M95.5,240.4V244.2M108.5,240.5V245.5M112.5,239.8V244.6M115.5,236.7V244.0M118.5,234.0V241.4M122.5,234.0V239.3M129.5,234.9V237.5M135.5,235.6V238.9M139.5,234.7V238.6M146.5,235.3V239.1M152.5,235.7V240.1M159.5,237.5V241.3M169.5,242.4V246.2M180.5,242.8V246.3M183.5,239.6V247.4M186.5,236.7V244.6M190.5,234.9V241.8M193.5,233.5V238.9M197.5,232.7V237.1M210.5,232.9V236.8M220.5,233.0V236.8M224.5,229.4V237.1M227.5,226.9V234.9M231.5,224.1V231.6M234.5,220.5V229.4M237.5,217.6V224.9M241.5,217.7V222.5M244.5,216.1V221.6M247.5,213.4V220.4M251.5,212.0V217.3M261.5,213.3V217.5M264.5,211.0V216.0M281.5,213.4V215.4M285.5,213.7V215.7M288.5,211.0V216.7M292.5,210.8V214.3M295.5,210.6V214.3M298.5,211.7V214.1M302.5,211.4V215.2M305.5,212.5V215.0M312.5,211.4V214.9M315.5,211.0V214.7M319.5,210.4V213.7M322.5,210.6V213.8M326.5,207.0V214.2M329.5,205.9V211.9M332.5,204.9V209.5M336.5,202.4V210.0M339.5,197.7V207.2M343.5,197.8V202.2M346.5,197.6V201.1M349.5,194.8V200.8M353.5,192.0V197.7M360.5,184.1V194.5M363.5,185.9V190.1M370.5,181.0V191.1M373.5,180.3V184.2M390.5,189.7V193.3M394.5,187.1V194.3M404.5,195.3V199.4M407.5,194.6V200.8M438.5,203.0V211.4M441.5,196.2V208.2M445.5,192.0V202.1M448.5,191.7V198.4M451.5,189.8V196.1M455.5,188.5V193.4M458.5,188.6V192.2M478.5,192.2V196.4M482.5,191.8V195.5M485.5,190.3V195.6M489.5,189.7V194.9M492.5,190.3V193.2M495.5,188.9V193.8M519.5,191.8V197.3M523.5,191.8V195.6M526.5,190.3V195.4M529.5,190.5V193.6M533.5,189.6V193.0M536.5,188.3V192.8M540.5,187.1V195.0M587.5,214.0V222.2M591.5,205.8V217.8M594.5,202.4V213.4M597.5,198.6V209.2M601.5,197.3V203.7M604.5,197.5V201.6M621.5,203.1V205.9M648.5,217.9V224.6M652.5,219.1V221.4M655.5,218.2V223.1M659.5,219.7V222.4M665.5,220.1V222.4M669.5,219.1V224.2M679.5,221.5V226.0M370.5,180V190M355.5,190V200M444.5,197.5V209M590.5,206V218" stroke="#f03535" stroke-width="1.3" fill="none"/>
<path d="M10.5,238.4V244.4M23.5,236.0V238.6M27.5,236.7V240.5M30.5,236.9V242.4M40.5,238.6V241.1M44.5,237.7V241.9M50.5,237.1V241.8M64.5,237.8V242.8M67.5,239.0V243.5M71.5,240.7V243.1M84.5,239.7V244.1M91.5,241.3V243.4M98.5,240.0V245.1M101.5,241.2V245.1M105.5,241.8V245.9M125.5,234.4V238.1M132.5,234.9V238.6M142.5,235.3V238.5M149.5,235.9V239.6M156.5,238.0V240.9M163.5,235.6V243.8M166.5,241.4V248.3M173.5,241.9V246.1M176.5,241.7V246.3M200.5,233.7V236.1M203.5,233.6V238.1M207.5,233.1V238.2M214.5,233.5V237.3M217.5,234.1V237.3M254.5,212.7V216.8M258.5,214.9V217.0M268.5,211.5V215.5M271.5,210.7V216.3M275.5,213.4V217.1M278.5,212.9V217.2M309.5,211.9V215.2M356.5,192.0V199.1M366.5,186.5V190.5M377.5,181.9V190.3M380.5,186.4V190.1M383.5,185.3V190.4M387.5,187.7V194.2M397.5,193.3V202.0M400.5,195.5V200.0M411.5,196.4V202.4M414.5,198.0V202.6M417.5,199.4V203.7M421.5,201.1V204.1M424.5,201.0V205.2M428.5,202.1V208.8M431.5,203.3V209.1M434.5,204.9V209.1M461.5,189.0V193.1M465.5,190.1V193.4M468.5,190.6V194.2M472.5,190.8V196.6M475.5,193.5V196.5M499.5,189.5V194.9M502.5,191.1V195.0M506.5,192.3V195.4M509.5,191.8V196.5M512.5,192.9V196.1M516.5,193.0V196.6M543.5,190.0V200.2M546.5,193.8V203.7M550.5,197.7V205.7M553.5,201.1V208.3M557.5,204.1V209.8M560.5,205.0V211.7M563.5,206.8V212.7M567.5,207.7V214.6M570.5,209.1V216.1M574.5,211.8V216.8M577.5,212.9V219.1M580.5,215.4V219.9M584.5,218.0V220.0M608.5,198.0V204.6M611.5,200.4V204.9M614.5,201.2V205.6M618.5,202.5V205.6M625.5,202.1V206.9M628.5,200.4V212.4M631.5,210.1V222.1M635.5,215.4V222.5M638.5,217.9V225.0M642.5,219.6V225.6M645.5,222.4V225.1M662.5,219.8V222.7M672.5,220.9V224.6M676.5,221.2V226.3M682.5,222.6V224.9M166.5,240V252M539.5,188V197.5M628.5,202.5V215" stroke="#2c9c1c" stroke-width="1.3" fill="none"/>
<path d="M4,224.5H730" stroke="#1f8cf5" stroke-width="1" stroke-dasharray="3,3" fill="none"/>
<circle cx="681" cy="224" r="2.6" fill="#f03535"/>
<text x="324.94 330.94 338.47 342.94 348.94" y="184" font-family="Liberation Sans,sans-serif" font-size="11" fill="#333" >14.80</text>
<path d="M356,180.5H372" stroke="#333" stroke-width="1"/>
<path d="M372,180.5 l-5,-3 v6 z" fill="#333"/>
<text x="181.94 189.47 193.94 199.94" y="256" font-family="Liberation Sans,sans-serif" font-size="11" fill="#333" >9.46</text>
<path d="M167,252.5H182" stroke="#333" stroke-width="1"/>
<path d="M167,252.5 l5,-3 v6 z" fill="#333"/>
<path d="M396,254 L401,263 H391 Z" fill="none" stroke="#f03535" stroke-width="1.2"/>
<path d="M731,177.5H737" stroke="#aaa" stroke-width="1"/>
<text x="741.94 747.94 755.47 759.94 765.94" y="181" font-family="Liberation Sans,sans-serif" font-size="11" fill="#222" >15.00</text>
<path d="M731,254.5H737" stroke="#aaa" stroke-width="1"/>
<text x="741.94 749.47 753.94 759.94" y="258" font-family="Liberation Sans,sans-serif" font-size="11" fill="#222" >9.25</text>
<rect x="730.5" y="211.5" width="64" height="27" fill="#e9eef8" stroke="#cdd5e3"/>
<path d="M730,224.5H795" stroke="#cdd5e3"/>
<text x="748.44 754.44 761.97 766.44 772.44" y="221" font-family="Liberation Sans,sans-serif" font-size="11" fill="#f03535" >11.56</text>
<text x="748.44 755.97 760.44 766.44" y="235" font-family="Liberation Sans,sans-serif" font-size="11" fill="#f03535" >0.96</text><text transform="translate(772.80,235) scale(0.6,1)" font-family="Liberation Sans,sans-serif" font-size="11" fill="#f03535" >%</text>
<path d="M6.5,357.9V367M13.5,344.0V367M16.5,341.0V367M20.5,346.9V367M33.5,354.0V367M37.5,356.0V367M47.5,348.0V367M54.5,345.0V367M57.5,353.0V367M61.5,359.0V367M74.5,348.0V367M78.5,355.0V367M81.5,352.0V367M88.5,358.0V367M95.5,353.0V367M108.5,353.0V367M112.5,351.0V367M115.5,339.0V367M118.5,347.0V367M122.5,354.0V367M129.5,358.0V367M135.5,352.0V367M139.5,355.0V367M146.5,353.0V367M152.5,350.0V367M159.5,352.0V367M169.5,312.0V367M180.5,348.0V367M183.5,345.0V367M186.5,343.0V367M190.5,341.0V367M193.5,342.0V367M197.5,351.0V367M210.5,354.0V367M220.5,349.0V367M224.5,334.0V367M227.5,332.0V367M231.5,342.0V367M234.5,340.0V367M237.5,338.0V367M241.5,328.0V367M244.5,337.0V367M247.5,342.0V367M251.5,344.0V367M261.5,339.0V367M264.5,353.0V367M281.5,352.0V367M285.5,354.0V367M288.5,341.0V367M292.5,337.0V367M295.5,348.0V367M298.5,355.0V367M302.5,353.0V367M305.5,348.0V367M312.5,352.0V367M315.5,351.0V367M319.5,346.0V367M322.5,350.0V367M326.5,355.0V367M329.5,343.0V367M332.5,353.0V367M336.5,343.0V367M339.5,338.0V367M343.5,337.0V367M346.5,348.0V367M349.5,344.0V367M353.5,313.0V367M360.5,336.0V367M363.5,343.0V367M370.5,333.0V367M373.5,344.0V367M390.5,325.0V367M394.5,340.0V367M404.5,347.9V367M407.5,347.9V367M438.5,339.0V367M441.5,331.0V367M445.5,318.1V367M448.5,337.0V367M451.5,332.0V367M455.5,332.0V367M458.5,335.0V367M478.5,350.0V367M482.5,346.0V367M485.5,346.9V367M489.5,345.0V367M492.5,345.0V367M495.5,346.9V367M519.5,330.0V367M523.5,339.0V367M526.5,322.0V367M529.5,324.0V367M533.5,337.0V367M536.5,337.0V367M540.5,316.0V367M587.5,333.0V367M591.5,288.2V367M594.5,313.2V367M597.5,322.0V367M601.5,331.0V367M604.5,337.9V367M621.5,299.0V367M648.5,307.1V367M652.5,320.1V367M655.5,334.0V367M659.5,334.0V367M665.5,311.0V367M669.5,322.0V367M679.5,348.0V367" stroke="#f03535" stroke-width="1.2" fill="none"/>
<path d="M10.5,346.9V367M23.5,350.0V367M27.5,355.0V367M30.5,352.0V367M40.5,357.0V367M44.5,351.0V367M50.5,349.0V367M64.5,350.0V367M67.5,353.0V367M71.5,355.0V367M84.5,353.0V367M91.5,353.0V367M98.5,355.0V367M101.5,353.0V367M105.5,356.0V367M125.5,356.0V367M132.5,348.0V367M142.5,355.0V367M149.5,355.0V367M156.5,345.0V367M163.5,355.0V367M166.5,314.0V367M173.5,331.0V367M176.5,339.0V367M200.5,350.0V367M203.5,352.0V367M207.5,356.0V367M214.5,352.0V367M217.5,351.0V367M254.5,346.0V367M258.5,345.0V367M268.5,345.0V367M271.5,347.0V367M275.5,336.0V367M278.5,350.0V367M309.5,350.0V367M356.5,333.0V367M366.5,350.0V367M377.5,325.0V367M380.5,338.0V367M383.5,325.0V367M387.5,307.0V367M397.5,345.3V367M400.5,350.6V367M411.5,334.0V367M414.5,342.8V367M417.5,332.0V367M421.5,343.8V367M424.5,339.8V367M428.5,339.0V367M431.5,342.0V367M434.5,342.9V367M461.5,340.0V367M465.5,339.0V367M468.5,342.0V367M472.5,334.0V367M475.5,337.0V367M499.5,340.0V367M502.5,333.0V367M506.5,320.0V367M509.5,324.8V367M512.5,339.0V367M516.5,340.0V367M543.5,337.0V367M546.5,335.0V367M550.5,343.8V367M553.5,328.0V367M557.5,339.0V367M560.5,350.0V367M563.5,340.0V367M567.5,330.0V367M570.5,320.0V367M574.5,337.0V367M577.5,336.0V367M580.5,335.0V367M584.5,338.0V367M608.5,337.9V367M611.5,310.1V367M614.5,322.9V367M618.5,337.9V367M625.5,311.0V367M628.5,308.1V367M631.5,305.1V367M635.5,322.0V367M638.5,314.0V367M642.5,322.0V367M645.5,317.0V367M662.5,339.0V367M672.5,326.0V367M676.5,331.0V367M682.5,352.0V367" stroke="#2c9c1c" stroke-width="1.2" fill="none"/>
<rect x="5" y="272" width="20" height="15" fill="#4a8fec"/>
<text x="15" y="284" text-anchor="middle" font-family="Liberation Sans" font-size="12" fill="#fff">?</text>
<text x="27" y="282.5" font-family="Liberation Serif" font-size="12.5" fill="#333" textLength="29" lengthAdjust="spacingAndGlyphs">VOLFS</text>
<text x="71.47 75.94 81.94 89.47 93.94 99.94" y="283" font-family="Liberation Sans,sans-serif" font-size="11" fill="#f5f500" >:45.72</text><text x="106.00" y="283" font-family="Liberation Sans,Noto Sans CJK SC,sans-serif" font-size="12" fill="#f5f500" >万</text>
<path d="M704.85,279.85 L706.95,279.99 L706.95,283.01 L704.85,283.15 L704.45,284.11 L705.83,285.70 L703.70,287.83 L702.11,286.45 L701.15,286.85 L701.01,288.95 L697.99,288.95 L697.85,286.85 L696.89,286.45 L695.30,287.83 L693.17,285.70 L694.55,284.11 L694.15,283.15 L692.05,283.01 L692.05,279.99 L694.15,279.85 L694.55,278.89 L693.17,277.30 L695.30,275.17 L696.89,276.55 L697.85,276.15 L697.99,274.05 L701.01,274.05 L701.15,276.15 L702.11,276.55 L703.70,275.17 L705.83,277.30 L704.45,278.89 Z" fill="#f23a3a" shape-rendering="auto"/><circle cx="699.5" cy="281.5" r="3.1" fill="#fff" shape-rendering="auto"/>
<path d="M713,276l11,11M724,276l-11,11" stroke="#f23a3a" stroke-width="1.6" shape-rendering="auto"/>
<text x="731.94 737.94 743.94" y="293" font-family="Liberation Sans,sans-serif" font-size="11" fill="#222" >210</text><text x="750.00" y="293" font-family="Liberation Sans,Noto Sans CJK SC,sans-serif" font-size="12" fill="#222" >万</text>
<text x="731.94 737.94 743.94" y="320" font-family="Liberation Sans,sans-serif" font-size="11" fill="#222" >140</text><text x="750.00" y="320" font-family="Liberation Sans,Noto Sans CJK SC,sans-serif" font-size="12" fill="#222" >万</text>
<text x="731.94 737.94" y="347" font-family="Liberation Sans,sans-serif" font-size="11" fill="#222" >70</text><text x="744.00" y="347" font-family="Liberation Sans,Noto Sans CJK SC,sans-serif" font-size="12" fill="#222" >万</text>
<path d="M730,358V368H719Z" fill="#3d8af0"/>
<text x="5.94 11.94 17.94 23.94 31.47 35.94 41.94 49.47 53.94 59.94 67.17 85.17" y="381" font-family="Liberation Sans,sans-serif" font-size="11" fill="#333" >2025/01/21()</text><text x="72.00" y="381" font-family="Liberation Sans,Noto Sans CJK SC,sans-serif" font-size="12" fill="#333" >二</text>
<rect x="101" y="370" width="1" height="8" fill="#bbb"/>
<text x="101.94 107.94" y="381" font-family="Liberation Sans,sans-serif" font-size="11" fill="#333" >10</text>
<rect x="134" y="370" width="1" height="8" fill="#bbb"/>
<text x="134.94 140.94" y="381" font-family="Liberation Sans,sans-serif" font-size="11" fill="#333" >24</text>
<rect x="165" y="370" width="1" height="8" fill="#bbb"/>
<text x="165.94 171.94" y="381" font-family="Liberation Sans,sans-serif" font-size="11" fill="#333" >07</text>
<rect x="199" y="370" width="1" height="8" fill="#bbb"/>
<text x="199.94 205.94" y="381" font-family="Liberation Sans,sans-serif" font-size="11" fill="#333" >21</text>
<rect x="226" y="370" width="1" height="8" fill="#bbb"/>
<text x="226.94 232.94" y="381" font-family="Liberation Sans,sans-serif" font-size="11" fill="#333" >06</text>
<rect x="257" y="370" width="1" height="8" fill="#bbb"/>
<text x="257.94 263.94" y="381" font-family="Liberation Sans,sans-serif" font-size="11" fill="#333" >19</text>
<rect x="291" y="370" width="1" height="8" fill="#bbb"/>
<text x="291.94 297.94" y="381" font-family="Liberation Sans,sans-serif" font-size="11" fill="#333" >03</text>
<rect x="321" y="370" width="1" height="8" fill="#bbb"/>
<text x="321.94 327.94" y="381" font-family="Liberation Sans,sans-serif" font-size="11" fill="#333" >16</text>
<rect x="355" y="370" width="1" height="8" fill="#bbb"/>
<text x="355.94 361.94" y="381" font-family="Liberation Sans,sans-serif" font-size="11" fill="#333" >30</text>
<rect x="389" y="370" width="1" height="8" fill="#bbb"/>
<text x="389.94 395.94" y="381" font-family="Liberation Sans,sans-serif" font-size="11" fill="#333" >14</text>
<rect x="424" y="370" width="1" height="8" fill="#bbb"/>
<text x="424.94 430.94" y="381" font-family="Liberation Sans,sans-serif" font-size="11" fill="#333" >28</text>
<rect x="458" y="370" width="1" height="8" fill="#bbb"/>
<text x="458.94 464.94" y="381" font-family="Liberation Sans,sans-serif" font-size="11" fill="#333" >11</text>
<rect x="492" y="370" width="1" height="8" fill="#bbb"/>
<text x="492.94 498.94" y="381" font-family="Liberation Sans,sans-serif" font-size="11" fill="#333" >25</text>
<rect x="525" y="370" width="1" height="8" fill="#bbb"/>
<text x="525.94 531.94" y="381" font-family="Liberation Sans,sans-serif" font-size="11" fill="#333" >08</text>
<rect x="559" y="370" width="1" height="8" fill="#bbb"/>
<text x="559.94 565.94" y="381" font-family="Liberation Sans,sans-serif" font-size="11" fill="#333" >22</text>
<rect x="583" y="370" width="1" height="8" fill="#bbb"/>
<text x="583.94 589.94" y="381" font-family="Liberation Sans,sans-serif" font-size="11" fill="#333" >09</text>
<rect x="606" y="370" width="1" height="8" fill="#bbb"/>
<text x="606.94 612.94" y="381" font-family="Liberation Sans,sans-serif" font-size="11" fill="#333" >20</text>
<rect x="640" y="370" width="1" height="8" fill="#bbb"/>
<text x="640.94 646.94" y="381" font-family="Liberation Sans,sans-serif" font-size="11" fill="#333" >03</text>
<rect x="675" y="370" width="1" height="8" fill="#bbb"/>
<text x="675.94 681.94" y="381" font-family="Liberation Sans,sans-serif" font-size="11" fill="#333" >17</text>
<rect x="3" y="388" width="396" height="39" fill="#dde9fa"/>
<rect x="399" y="388" width="396" height="39" fill="#d2d7df"/>
<clipPath id="cl1"><rect x="3" y="388" width="396" height="39"/></clipPath>
<clipPath id="cr1"><rect x="399" y="388" width="396" height="39"/></clipPath>
<path d="M4.0,425.4 L6.0,425.8 L8.0,424.8 L10.0,426.1 L12.0,424.4 L14.0,424.3 L16.0,426.7 L18.0,424.8 L20.0,425.5 L22.0,425.0 L24.0,424.6 L26.0,423.8 L28.0,425.9 L30.0,426.0 L32.0,425.9 L34.0,423.5 L36.0,423.7 L38.0,424.7 L40.0,425.5 L42.0,424.3 L44.0,424.5 L46.0,424.1 L48.0,422.3 L50.0,422.4 L52.0,421.0 L54.0,420.2 L56.0,419.3 L58.0,419.7 L60.0,421.4 L62.0,419.8 L64.0,420.2 L66.0,420.0 L68.0,420.7 L70.0,419.1 L72.0,418.7 L74.0,418.6 L76.0,418.6 L78.0,420.1 L80.0,420.3 L82.0,418.9 L84.0,419.1 L86.0,419.8 L88.0,420.0 L90.0,420.1 L92.0,419.4 L94.0,418.9 L96.0,419.6 L98.0,419.3 L100.0,420.6 L102.0,419.3 L104.0,419.2 L106.0,420.5 L108.0,419.5 L110.0,420.7 L112.0,419.8 L114.0,420.6 L116.0,418.6 L118.0,419.4 L120.0,420.1 L122.0,418.1 L124.0,420.2 L126.0,418.1 L128.0,419.5 L130.0,420.0 L132.0,419.4 L134.0,418.0 L136.0,417.3 L138.0,418.3 L140.0,419.2 L142.0,417.4 L144.0,418.9 L146.0,416.8 L148.0,418.7 L150.0,416.3 L152.0,417.1 L154.0,418.8 L156.0,418.7 L158.0,419.0 L160.0,419.0 L162.0,418.9 L164.0,418.8 L166.0,417.6 L168.0,418.4 L170.0,417.8 L172.0,419.4 L174.0,419.4 L176.0,418.3 L178.0,417.6 L180.0,419.8 L182.0,419.2 L184.0,418.4 L186.0,418.2 L188.0,418.9 L190.0,417.7 L192.0,417.4 L194.0,417.1 L196.0,416.7 L198.0,415.9 L200.0,417.4 L202.0,417.2 L204.0,418.0 L206.0,417.1 L208.0,418.2 L210.0,418.1 L212.0,418.4 L214.0,419.2 L216.0,420.9 L218.0,419.7 L220.0,419.7 L222.0,420.3 L224.0,419.3 L226.0,418.7 L228.0,420.1 L230.0,420.0 L232.0,419.9 L234.0,418.9 L236.0,419.1 L238.0,418.7 L240.0,417.0 L242.0,417.2 L244.0,416.7 L246.0,415.0 L248.0,413.9 L250.0,412.7 L252.0,412.0 L254.0,411.5 L256.0,409.7 L258.0,410.5 L260.0,408.8 L262.0,409.0 L264.0,410.3 L266.0,411.4 L268.0,409.7 L270.0,411.4 L272.0,411.9 L274.0,410.6 L276.0,411.7 L278.0,412.3 L280.0,411.2 L282.0,412.0 L284.0,412.1 L286.0,411.7 L288.0,412.4 L290.0,412.5 L292.0,412.7 L294.0,411.7 L296.0,410.7 L298.0,410.9 L300.0,410.8 L302.0,411.9 L304.0,412.6 L306.0,410.9 L308.0,412.8 L310.0,413.1 L312.0,412.3 L314.0,412.9 L316.0,412.2 L318.0,413.9 L320.0,412.3 L322.0,415.0 L324.0,414.7 L326.0,414.3 L328.0,413.3 L330.0,414.9 L332.0,414.9 L334.0,412.7 L336.0,414.3 L338.0,414.4 L340.0,413.8 L342.0,413.8 L344.0,413.1 L346.0,414.3 L348.0,414.3 L350.0,412.7 L352.0,413.6 L354.0,412.5 L356.0,411.6 L358.0,411.9 L360.0,411.2 L362.0,413.1 L364.0,413.1 L366.0,410.7 L368.0,411.8 L370.0,411.2 L372.0,410.2 L374.0,410.5 L376.0,410.3 L378.0,411.5 L380.0,409.5 L382.0,409.9 L384.0,410.5 L386.0,409.3 L388.0,410.8 L390.0,410.7 L392.0,411.2 L394.0,409.5 L396.0,409.6 L398.0,410.2 L400.0,409.4 L402.0,410.2 L404.0,409.4 L406.0,410.5 L408.0,410.8 L410.0,410.8 L412.0,411.2 L414.0,410.1 L416.0,410.0 L418.0,410.9 L420.0,410.7 L422.0,410.2 L424.0,409.7 L426.0,409.4 L428.0,408.9 L430.0,410.6 L432.0,408.7 L434.0,410.3 L436.0,409.7 L438.0,410.7 L440.0,410.1 L442.0,410.6 L444.0,408.3 L446.0,409.2 L448.0,409.3 L450.0,408.5 L452.0,409.1 L454.0,408.8 L456.0,409.3 L458.0,408.0 L460.0,409.3 L462.0,409.3 L464.0,409.1 L466.0,409.4 L468.0,410.5 L470.0,410.3 L472.0,409.9 L474.0,410.3 L476.0,409.8 L478.0,409.6 L480.0,409.3 L482.0,410.3 L484.0,411.4 L486.0,412.4 L488.0,412.5 L490.0,411.9 L492.0,413.4 L494.0,412.3 L496.0,413.1 L498.0,411.5 L500.0,411.9 L502.0,412.0 L504.0,409.7 L506.0,408.9 L508.0,409.6 L510.0,408.8 L512.0,407.9 L514.0,406.5 L516.0,407.0 L518.0,406.6 L520.0,406.0 L522.0,406.7 L524.0,405.5 L526.0,405.4 L528.0,405.3 L530.0,404.5 L532.0,403.3 L534.0,403.5 L536.0,402.8 L538.0,402.4 L540.0,401.8 L542.0,401.1 L544.0,401.6 L546.0,401.4 L548.0,402.1 L550.0,401.5 L552.0,401.5 L554.0,401.2 L556.0,401.2 L558.0,400.5 L560.0,399.7 L562.0,399.3 L564.0,400.3 L566.0,400.6 L568.0,399.6 L570.0,398.5 L572.0,400.1 L574.0,399.0 L576.0,398.7 L578.0,397.2 L580.0,398.0 L582.0,398.2 L584.0,397.0 L586.0,396.4 L588.0,396.8 L590.0,394.8 L592.0,395.6 L594.0,396.4 L596.0,395.2 L598.0,393.7 L600.0,393.8 L602.0,392.9 L604.0,391.2 L606.0,390.6 L608.0,391.7 L610.0,389.4 L612.0,389.2 L614.0,391.5 L616.0,391.1 L618.0,391.0 L620.0,391.7 L622.0,392.6 L624.0,391.5 L626.0,393.1 L628.0,393.5 L630.0,394.1 L632.0,393.0 L634.0,394.2 L636.0,393.6 L638.0,394.7 L640.0,394.0 L642.0,396.0 L644.0,396.5 L646.0,395.4 L648.0,395.5 L650.0,397.7 L652.0,396.1 L654.0,395.6 L656.0,392.6 L658.0,393.9 L660.0,392.3 L662.0,391.7 L664.0,392.2 L666.0,393.3 L668.0,393.5 L670.0,392.2 L672.0,393.5 L674.0,392.5 L676.0,394.8 L678.0,393.7 L680.0,395.1 L682.0,394.4 L684.0,393.9 L686.0,392.8 L688.0,393.3 L690.0,392.1 L692.0,391.9 L694.0,393.2 L696.0,392.0 L698.0,392.9 L700.0,391.3 L702.0,392.4 L704.0,392.2 L706.0,391.3 L708.0,391.5 L710.0,392.9 L712.0,393.8 L714.0,393.5 L716.0,394.4 L718.0,394.7 L720.0,396.8 L722.0,398.4 L724.0,397.5 L726.0,397.9 L728.0,400.5 L730.0,401.7 L732.0,402.9 L734.0,402.9 L736.0,401.8 L738.0,401.6 L740.0,398.3 L742.0,398.3 L744.0,395.2 L746.0,395.7 L748.0,396.8 L750.0,397.3 L752.0,397.6 L754.0,398.6 L756.0,401.0 L758.0,400.9 L760.0,402.1 L762.0,402.0 L764.0,404.1 L766.0,403.6 L768.0,404.4 L770.0,405.4 L772.0,405.8 L774.0,403.4 L776.0,405.5 L778.0,405.8 L780.0,404.5 L782.0,404.8 L784.0,405.4 L786.0,406.3 L788.0,405.0 L790.0,406.3 L792.0,406.1 L794.0,404.6 L794.0,427 L4.0,427 Z" fill="#c7d2e8" clip-path="url(#cl1)"/>
<path d="M4.0,425.4 L6.0,425.8 L8.0,424.8 L10.0,426.1 L12.0,424.4 L14.0,424.3 L16.0,426.7 L18.0,424.8 L20.0,425.5 L22.0,425.0 L24.0,424.6 L26.0,423.8 L28.0,425.9 L30.0,426.0 L32.0,425.9 L34.0,423.5 L36.0,423.7 L38.0,424.7 L40.0,425.5 L42.0,424.3 L44.0,424.5 L46.0,424.1 L48.0,422.3 L50.0,422.4 L52.0,421.0 L54.0,420.2 L56.0,419.3 L58.0,419.7 L60.0,421.4 L62.0,419.8 L64.0,420.2 L66.0,420.0 L68.0,420.7 L70.0,419.1 L72.0,418.7 L74.0,418.6 L76.0,418.6 L78.0,420.1 L80.0,420.3 L82.0,418.9 L84.0,419.1 L86.0,419.8 L88.0,420.0 L90.0,420.1 L92.0,419.4 L94.0,418.9 L96.0,419.6 L98.0,419.3 L100.0,420.6 L102.0,419.3 L104.0,419.2 L106.0,420.5 L108.0,419.5 L110.0,420.7 L112.0,419.8 L114.0,420.6 L116.0,418.6 L118.0,419.4 L120.0,420.1 L122.0,418.1 L124.0,420.2 L126.0,418.1 L128.0,419.5 L130.0,420.0 L132.0,419.4 L134.0,418.0 L136.0,417.3 L138.0,418.3 L140.0,419.2 L142.0,417.4 L144.0,418.9 L146.0,416.8 L148.0,418.7 L150.0,416.3 L152.0,417.1 L154.0,418.8 L156.0,418.7 L158.0,419.0 L160.0,419.0 L162.0,418.9 L164.0,418.8 L166.0,417.6 L168.0,418.4 L170.0,417.8 L172.0,419.4 L174.0,419.4 L176.0,418.3 L178.0,417.6 L180.0,419.8 L182.0,419.2 L184.0,418.4 L186.0,418.2 L188.0,418.9 L190.0,417.7 L192.0,417.4 L194.0,417.1 L196.0,416.7 L198.0,415.9 L200.0,417.4 L202.0,417.2 L204.0,418.0 L206.0,417.1 L208.0,418.2 L210.0,418.1 L212.0,418.4 L214.0,419.2 L216.0,420.9 L218.0,419.7 L220.0,419.7 L222.0,420.3 L224.0,419.3 L226.0,418.7 L228.0,420.1 L230.0,420.0 L232.0,419.9 L234.0,418.9 L236.0,419.1 L238.0,418.7 L240.0,417.0 L242.0,417.2 L244.0,416.7 L246.0,415.0 L248.0,413.9 L250.0,412.7 L252.0,412.0 L254.0,411.5 L256.0,409.7 L258.0,410.5 L260.0,408.8 L262.0,409.0 L264.0,410.3 L266.0,411.4 L268.0,409.7 L270.0,411.4 L272.0,411.9 L274.0,410.6 L276.0,411.7 L278.0,412.3 L280.0,411.2 L282.0,412.0 L284.0,412.1 L286.0,411.7 L288.0,412.4 L290.0,412.5 L292.0,412.7 L294.0,411.7 L296.0,410.7 L298.0,410.9 L300.0,410.8 L302.0,411.9 L304.0,412.6 L306.0,410.9 L308.0,412.8 L310.0,413.1 L312.0,412.3 L314.0,412.9 L316.0,412.2 L318.0,413.9 L320.0,412.3 L322.0,415.0 L324.0,414.7 L326.0,414.3 L328.0,413.3 L330.0,414.9 L332.0,414.9 L334.0,412.7 L336.0,414.3 L338.0,414.4 L340.0,413.8 L342.0,413.8 L344.0,413.1 L346.0,414.3 L348.0,414.3 L350.0,412.7 L352.0,413.6 L354.0,412.5 L356.0,411.6 L358.0,411.9 L360.0,411.2 L362.0,413.1 L364.0,413.1 L366.0,410.7 L368.0,411.8 L370.0,411.2 L372.0,410.2 L374.0,410.5 L376.0,410.3 L378.0,411.5 L380.0,409.5 L382.0,409.9 L384.0,410.5 L386.0,409.3 L388.0,410.8 L390.0,410.7 L392.0,411.2 L394.0,409.5 L396.0,409.6 L398.0,410.2 L400.0,409.4 L402.0,410.2 L404.0,409.4 L406.0,410.5 L408.0,410.8 L410.0,410.8 L412.0,411.2 L414.0,410.1 L416.0,410.0 L418.0,410.9 L420.0,410.7 L422.0,410.2 L424.0,409.7 L426.0,409.4 L428.0,408.9 L430.0,410.6 L432.0,408.7 L434.0,410.3 L436.0,409.7 L438.0,410.7 L440.0,410.1 L442.0,410.6 L444.0,408.3 L446.0,409.2 L448.0,409.3 L450.0,408.5 L452.0,409.1 L454.0,408.8 L456.0,409.3 L458.0,408.0 L460.0,409.3 L462.0,409.3 L464.0,409.1 L466.0,409.4 L468.0,410.5 L470.0,410.3 L472.0,409.9 L474.0,410.3 L476.0,409.8 L478.0,409.6 L480.0,409.3 L482.0,410.3 L484.0,411.4 L486.0,412.4 L488.0,412.5 L490.0,411.9 L492.0,413.4 L494.0,412.3 L496.0,413.1 L498.0,411.5 L500.0,411.9 L502.0,412.0 L504.0,409.7 L506.0,408.9 L508.0,409.6 L510.0,408.8 L512.0,407.9 L514.0,406.5 L516.0,407.0 L518.0,406.6 L520.0,406.0 L522.0,406.7 L524.0,405.5 L526.0,405.4 L528.0,405.3 L530.0,404.5 L532.0,403.3 L534.0,403.5 L536.0,402.8 L538.0,402.4 L540.0,401.8 L542.0,401.1 L544.0,401.6 L546.0,401.4 L548.0,402.1 L550.0,401.5 L552.0,401.5 L554.0,401.2 L556.0,401.2 L558.0,400.5 L560.0,399.7 L562.0,399.3 L564.0,400.3 L566.0,400.6 L568.0,399.6 L570.0,398.5 L572.0,400.1 L574.0,399.0 L576.0,398.7 L578.0,397.2 L580.0,398.0 L582.0,398.2 L584.0,397.0 L586.0,396.4 L588.0,396.8 L590.0,394.8 L592.0,395.6 L594.0,396.4 L596.0,395.2 L598.0,393.7 L600.0,393.8 L602.0,392.9 L604.0,391.2 L606.0,390.6 L608.0,391.7 L610.0,389.4 L612.0,389.2 L614.0,391.5 L616.0,391.1 L618.0,391.0 L620.0,391.7 L622.0,392.6 L624.0,391.5 L626.0,393.1 L628.0,393.5 L630.0,394.1 L632.0,393.0 L634.0,394.2 L636.0,393.6 L638.0,394.7 L640.0,394.0 L642.0,396.0 L644.0,396.5 L646.0,395.4 L648.0,395.5 L650.0,397.7 L652.0,396.1 L654.0,395.6 L656.0,392.6 L658.0,393.9 L660.0,392.3 L662.0,391.7 L664.0,392.2 L666.0,393.3 L668.0,393.5 L670.0,392.2 L672.0,393.5 L674.0,392.5 L676.0,394.8 L678.0,393.7 L680.0,395.1 L682.0,394.4 L684.0,393.9 L686.0,392.8 L688.0,393.3 L690.0,392.1 L692.0,391.9 L694.0,393.2 L696.0,392.0 L698.0,392.9 L700.0,391.3 L702.0,392.4 L704.0,392.2 L706.0,391.3 L708.0,391.5 L710.0,392.9 L712.0,393.8 L714.0,393.5 L716.0,394.4 L718.0,394.7 L720.0,396.8 L722.0,398.4 L724.0,397.5 L726.0,397.9 L728.0,400.5 L730.0,401.7 L732.0,402.9 L734.0,402.9 L736.0,401.8 L738.0,401.6 L740.0,398.3 L742.0,398.3 L744.0,395.2 L746.0,395.7 L748.0,396.8 L750.0,397.3 L752.0,397.6 L754.0,398.6 L756.0,401.0 L758.0,400.9 L760.0,402.1 L762.0,402.0 L764.0,404.1 L766.0,403.6 L768.0,404.4 L770.0,405.4 L772.0,405.8 L774.0,403.4 L776.0,405.5 L778.0,405.8 L780.0,404.5 L782.0,404.8 L784.0,405.4 L786.0,406.3 L788.0,405.0 L790.0,406.3 L792.0,406.1 L794.0,404.6 L794.0,427 L4.0,427 Z" fill="#c4c9d4" clip-path="url(#cr1)"/>
<path d="M4.0,425.4 L6.0,425.8 L8.0,424.8 L10.0,426.1 L12.0,424.4 L14.0,424.3 L16.0,426.7 L18.0,424.8 L20.0,425.5 L22.0,425.0 L24.0,424.6 L26.0,423.8 L28.0,425.9 L30.0,426.0 L32.0,425.9 L34.0,423.5 L36.0,423.7 L38.0,424.7 L40.0,425.5 L42.0,424.3 L44.0,424.5 L46.0,424.1 L48.0,422.3 L50.0,422.4 L52.0,421.0 L54.0,420.2 L56.0,419.3 L58.0,419.7 L60.0,421.4 L62.0,419.8 L64.0,420.2 L66.0,420.0 L68.0,420.7 L70.0,419.1 L72.0,418.7 L74.0,418.6 L76.0,418.6 L78.0,420.1 L80.0,420.3 L82.0,418.9 L84.0,419.1 L86.0,419.8 L88.0,420.0 L90.0,420.1 L92.0,419.4 L94.0,418.9 L96.0,419.6 L98.0,419.3 L100.0,420.6 L102.0,419.3 L104.0,419.2 L106.0,420.5 L108.0,419.5 L110.0,420.7 L112.0,419.8 L114.0,420.6 L116.0,418.6 L118.0,419.4 L120.0,420.1 L122.0,418.1 L124.0,420.2 L126.0,418.1 L128.0,419.5 L130.0,420.0 L132.0,419.4 L134.0,418.0 L136.0,417.3 L138.0,418.3 L140.0,419.2 L142.0,417.4 L144.0,418.9 L146.0,416.8 L148.0,418.7 L150.0,416.3 L152.0,417.1 L154.0,418.8 L156.0,418.7 L158.0,419.0 L160.0,419.0 L162.0,418.9 L164.0,418.8 L166.0,417.6 L168.0,418.4 L170.0,417.8 L172.0,419.4 L174.0,419.4 L176.0,418.3 L178.0,417.6 L180.0,419.8 L182.0,419.2 L184.0,418.4 L186.0,418.2 L188.0,418.9 L190.0,417.7 L192.0,417.4 L194.0,417.1 L196.0,416.7 L198.0,415.9 L200.0,417.4 L202.0,417.2 L204.0,418.0 L206.0,417.1 L208.0,418.2 L210.0,418.1 L212.0,418.4 L214.0,419.2 L216.0,420.9 L218.0,419.7 L220.0,419.7 L222.0,420.3 L224.0,419.3 L226.0,418.7 L228.0,420.1 L230.0,420.0 L232.0,419.9 L234.0,418.9 L236.0,419.1 L238.0,418.7 L240.0,417.0 L242.0,417.2 L244.0,416.7 L246.0,415.0 L248.0,413.9 L250.0,412.7 L252.0,412.0 L254.0,411.5 L256.0,409.7 L258.0,410.5 L260.0,408.8 L262.0,409.0 L264.0,410.3 L266.0,411.4 L268.0,409.7 L270.0,411.4 L272.0,411.9 L274.0,410.6 L276.0,411.7 L278.0,412.3 L280.0,411.2 L282.0,412.0 L284.0,412.1 L286.0,411.7 L288.0,412.4 L290.0,412.5 L292.0,412.7 L294.0,411.7 L296.0,410.7 L298.0,410.9 L300.0,410.8 L302.0,411.9 L304.0,412.6 L306.0,410.9 L308.0,412.8 L310.0,413.1 L312.0,412.3 L314.0,412.9 L316.0,412.2 L318.0,413.9 L320.0,412.3 L322.0,415.0 L324.0,414.7 L326.0,414.3 L328.0,413.3 L330.0,414.9 L332.0,414.9 L334.0,412.7 L336.0,414.3 L338.0,414.4 L340.0,413.8 L342.0,413.8 L344.0,413.1 L346.0,414.3 L348.0,414.3 L350.0,412.7 L352.0,413.6 L354.0,412.5 L356.0,411.6 L358.0,411.9 L360.0,411.2 L362.0,413.1 L364.0,413.1 L366.0,410.7 L368.0,411.8 L370.0,411.2 L372.0,410.2 L374.0,410.5 L376.0,410.3 L378.0,411.5 L380.0,409.5 L382.0,409.9 L384.0,410.5 L386.0,409.3 L388.0,410.8 L390.0,410.7 L392.0,411.2 L394.0,409.5 L396.0,409.6 L398.0,410.2 L400.0,409.4 L402.0,410.2 L404.0,409.4 L406.0,410.5 L408.0,410.8 L410.0,410.8 L412.0,411.2 L414.0,410.1 L416.0,410.0 L418.0,410.9 L420.0,410.7 L422.0,410.2 L424.0,409.7 L426.0,409.4 L428.0,408.9 L430.0,410.6 L432.0,408.7 L434.0,410.3 L436.0,409.7 L438.0,410.7 L440.0,410.1 L442.0,410.6 L444.0,408.3 L446.0,409.2 L448.0,409.3 L450.0,408.5 L452.0,409.1 L454.0,408.8 L456.0,409.3 L458.0,408.0 L460.0,409.3 L462.0,409.3 L464.0,409.1 L466.0,409.4 L468.0,410.5 L470.0,410.3 L472.0,409.9 L474.0,410.3 L476.0,409.8 L478.0,409.6 L480.0,409.3 L482.0,410.3 L484.0,411.4 L486.0,412.4 L488.0,412.5 L490.0,411.9 L492.0,413.4 L494.0,412.3 L496.0,413.1 L498.0,411.5 L500.0,411.9 L502.0,412.0 L504.0,409.7 L506.0,408.9 L508.0,409.6 L510.0,408.8 L512.0,407.9 L514.0,406.5 L516.0,407.0 L518.0,406.6 L520.0,406.0 L522.0,406.7 L524.0,405.5 L526.0,405.4 L528.0,405.3 L530.0,404.5 L532.0,403.3 L534.0,403.5 L536.0,402.8 L538.0,402.4 L540.0,401.8 L542.0,401.1 L544.0,401.6 L546.0,401.4 L548.0,402.1 L550.0,401.5 L552.0,401.5 L554.0,401.2 L556.0,401.2 L558.0,400.5 L560.0,399.7 L562.0,399.3 L564.0,400.3 L566.0,400.6 L568.0,399.6 L570.0,398.5 L572.0,400.1 L574.0,399.0 L576.0,398.7 L578.0,397.2 L580.0,398.0 L582.0,398.2 L584.0,397.0 L586.0,396.4 L588.0,396.8 L590.0,394.8 L592.0,395.6 L594.0,396.4 L596.0,395.2 L598.0,393.7 L600.0,393.8 L602.0,392.9 L604.0,391.2 L606.0,390.6 L608.0,391.7 L610.0,389.4 L612.0,389.2 L614.0,391.5 L616.0,391.1 L618.0,391.0 L620.0,391.7 L622.0,392.6 L624.0,391.5 L626.0,393.1 L628.0,393.5 L630.0,394.1 L632.0,393.0 L634.0,394.2 L636.0,393.6 L638.0,394.7 L640.0,394.0 L642.0,396.0 L644.0,396.5 L646.0,395.4 L648.0,395.5 L650.0,397.7 L652.0,396.1 L654.0,395.6 L656.0,392.6 L658.0,393.9 L660.0,392.3 L662.0,391.7 L664.0,392.2 L666.0,393.3 L668.0,393.5 L670.0,392.2 L672.0,393.5 L674.0,392.5 L676.0,394.8 L678.0,393.7 L680.0,395.1 L682.0,394.4 L684.0,393.9 L686.0,392.8 L688.0,393.3 L690.0,392.1 L692.0,391.9 L694.0,393.2 L696.0,392.0 L698.0,392.9 L700.0,391.3 L702.0,392.4 L704.0,392.2 L706.0,391.3 L708.0,391.5 L710.0,392.9 L712.0,393.8 L714.0,393.5 L716.0,394.4 L718.0,394.7 L720.0,396.8 L722.0,398.4 L724.0,397.5 L726.0,397.9 L728.0,400.5 L730.0,401.7 L732.0,402.9 L734.0,402.9 L736.0,401.8 L738.0,401.6 L740.0,398.3 L742.0,398.3 L744.0,395.2 L746.0,395.7 L748.0,396.8 L750.0,397.3 L752.0,397.6 L754.0,398.6 L756.0,401.0 L758.0,400.9 L760.0,402.1 L762.0,402.0 L764.0,404.1 L766.0,403.6 L768.0,404.4 L770.0,405.4 L772.0,405.8 L774.0,403.4 L776.0,405.5 L778.0,405.8 L780.0,404.5 L782.0,404.8 L784.0,405.4 L786.0,406.3 L788.0,405.0 L790.0,406.3 L792.0,406.1 L794.0,404.6" fill="none" stroke="#6d7b9a" stroke-width="1" clip-path="url(#cl1)"/>
<path d="M4.0,425.4 L6.0,425.8 L8.0,424.8 L10.0,426.1 L12.0,424.4 L14.0,424.3 L16.0,426.7 L18.0,424.8 L20.0,425.5 L22.0,425.0 L24.0,424.6 L26.0,423.8 L28.0,425.9 L30.0,426.0 L32.0,425.9 L34.0,423.5 L36.0,423.7 L38.0,424.7 L40.0,425.5 L42.0,424.3 L44.0,424.5 L46.0,424.1 L48.0,422.3 L50.0,422.4 L52.0,421.0 L54.0,420.2 L56.0,419.3 L58.0,419.7 L60.0,421.4 L62.0,419.8 L64.0,420.2 L66.0,420.0 L68.0,420.7 L70.0,419.1 L72.0,418.7 L74.0,418.6 L76.0,418.6 L78.0,420.1 L80.0,420.3 L82.0,418.9 L84.0,419.1 L86.0,419.8 L88.0,420.0 L90.0,420.1 L92.0,419.4 L94.0,418.9 L96.0,419.6 L98.0,419.3 L100.0,420.6 L102.0,419.3 L104.0,419.2 L106.0,420.5 L108.0,419.5 L110.0,420.7 L112.0,419.8 L114.0,420.6 L116.0,418.6 L118.0,419.4 L120.0,420.1 L122.0,418.1 L124.0,420.2 L126.0,418.1 L128.0,419.5 L130.0,420.0 L132.0,419.4 L134.0,418.0 L136.0,417.3 L138.0,418.3 L140.0,419.2 L142.0,417.4 L144.0,418.9 L146.0,416.8 L148.0,418.7 L150.0,416.3 L152.0,417.1 L154.0,418.8 L156.0,418.7 L158.0,419.0 L160.0,419.0 L162.0,418.9 L164.0,418.8 L166.0,417.6 L168.0,418.4 L170.0,417.8 L172.0,419.4 L174.0,419.4 L176.0,418.3 L178.0,417.6 L180.0,419.8 L182.0,419.2 L184.0,418.4 L186.0,418.2 L188.0,418.9 L190.0,417.7 L192.0,417.4 L194.0,417.1 L196.0,416.7 L198.0,415.9 L200.0,417.4 L202.0,417.2 L204.0,418.0 L206.0,417.1 L208.0,418.2 L210.0,418.1 L212.0,418.4 L214.0,419.2 L216.0,420.9 L218.0,419.7 L220.0,419.7 L222.0,420.3 L224.0,419.3 L226.0,418.7 L228.0,420.1 L230.0,420.0 L232.0,419.9 L234.0,418.9 L236.0,419.1 L238.0,418.7 L240.0,417.0 L242.0,417.2 L244.0,416.7 L246.0,415.0 L248.0,413.9 L250.0,412.7 L252.0,412.0 L254.0,411.5 L256.0,409.7 L258.0,410.5 L260.0,408.8 L262.0,409.0 L264.0,410.3 L266.0,411.4 L268.0,409.7 L270.0,411.4 L272.0,411.9 L274.0,410.6 L276.0,411.7 L278.0,412.3 L280.0,411.2 L282.0,412.0 L284.0,412.1 L286.0,411.7 L288.0,412.4 L290.0,412.5 L292.0,412.7 L294.0,411.7 L296.0,410.7 L298.0,410.9 L300.0,410.8 L302.0,411.9 L304.0,412.6 L306.0,410.9 L308.0,412.8 L310.0,413.1 L312.0,412.3 L314.0,412.9 L316.0,412.2 L318.0,413.9 L320.0,412.3 L322.0,415.0 L324.0,414.7 L326.0,414.3 L328.0,413.3 L330.0,414.9 L332.0,414.9 L334.0,412.7 L336.0,414.3 L338.0,414.4 L340.0,413.8 L342.0,413.8 L344.0,413.1 L346.0,414.3 L348.0,414.3 L350.0,412.7 L352.0,413.6 L354.0,412.5 L356.0,411.6 L358.0,411.9 L360.0,411.2 L362.0,413.1 L364.0,413.1 L366.0,410.7 L368.0,411.8 L370.0,411.2 L372.0,410.2 L374.0,410.5 L376.0,410.3 L378.0,411.5 L380.0,409.5 L382.0,409.9 L384.0,410.5 L386.0,409.3 L388.0,410.8 L390.0,410.7 L392.0,411.2 L394.0,409.5 L396.0,409.6 L398.0,410.2 L400.0,409.4 L402.0,410.2 L404.0,409.4 L406.0,410.5 L408.0,410.8 L410.0,410.8 L412.0,411.2 L414.0,410.1 L416.0,410.0 L418.0,410.9 L420.0,410.7 L422.0,410.2 L424.0,409.7 L426.0,409.4 L428.0,408.9 L430.0,410.6 L432.0,408.7 L434.0,410.3 L436.0,409.7 L438.0,410.7 L440.0,410.1 L442.0,410.6 L444.0,408.3 L446.0,409.2 L448.0,409.3 L450.0,408.5 L452.0,409.1 L454.0,408.8 L456.0,409.3 L458.0,408.0 L460.0,409.3 L462.0,409.3 L464.0,409.1 L466.0,409.4 L468.0,410.5 L470.0,410.3 L472.0,409.9 L474.0,410.3 L476.0,409.8 L478.0,409.6 L480.0,409.3 L482.0,410.3 L484.0,411.4 L486.0,412.4 L488.0,412.5 L490.0,411.9 L492.0,413.4 L494.0,412.3 L496.0,413.1 L498.0,411.5 L500.0,411.9 L502.0,412.0 L504.0,409.7 L506.0,408.9 L508.0,409.6 L510.0,408.8 L512.0,407.9 L514.0,406.5 L516.0,407.0 L518.0,406.6 L520.0,406.0 L522.0,406.7 L524.0,405.5 L526.0,405.4 L528.0,405.3 L530.0,404.5 L532.0,403.3 L534.0,403.5 L536.0,402.8 L538.0,402.4 L540.0,401.8 L542.0,401.1 L544.0,401.6 L546.0,401.4 L548.0,402.1 L550.0,401.5 L552.0,401.5 L554.0,401.2 L556.0,401.2 L558.0,400.5 L560.0,399.7 L562.0,399.3 L564.0,400.3 L566.0,400.6 L568.0,399.6 L570.0,398.5 L572.0,400.1 L574.0,399.0 L576.0,398.7 L578.0,397.2 L580.0,398.0 L582.0,398.2 L584.0,397.0 L586.0,396.4 L588.0,396.8 L590.0,394.8 L592.0,395.6 L594.0,396.4 L596.0,395.2 L598.0,393.7 L600.0,393.8 L602.0,392.9 L604.0,391.2 L606.0,390.6 L608.0,391.7 L610.0,389.4 L612.0,389.2 L614.0,391.5 L616.0,391.1 L618.0,391.0 L620.0,391.7 L622.0,392.6 L624.0,391.5 L626.0,393.1 L628.0,393.5 L630.0,394.1 L632.0,393.0 L634.0,394.2 L636.0,393.6 L638.0,394.7 L640.0,394.0 L642.0,396.0 L644.0,396.5 L646.0,395.4 L648.0,395.5 L650.0,397.7 L652.0,396.1 L654.0,395.6 L656.0,392.6 L658.0,393.9 L660.0,392.3 L662.0,391.7 L664.0,392.2 L666.0,393.3 L668.0,393.5 L670.0,392.2 L672.0,393.5 L674.0,392.5 L676.0,394.8 L678.0,393.7 L680.0,395.1 L682.0,394.4 L684.0,393.9 L686.0,392.8 L688.0,393.3 L690.0,392.1 L692.0,391.9 L694.0,393.2 L696.0,392.0 L698.0,392.9 L700.0,391.3 L702.0,392.4 L704.0,392.2 L706.0,391.3 L708.0,391.5 L710.0,392.9 L712.0,393.8 L714.0,393.5 L716.0,394.4 L718.0,394.7 L720.0,396.8 L722.0,398.4 L724.0,397.5 L726.0,397.9 L728.0,400.5 L730.0,401.7 L732.0,402.9 L734.0,402.9 L736.0,401.8 L738.0,401.6 L740.0,398.3 L742.0,398.3 L744.0,395.2 L746.0,395.7 L748.0,396.8 L750.0,397.3 L752.0,397.6 L754.0,398.6 L756.0,401.0 L758.0,400.9 L760.0,402.1 L762.0,402.0 L764.0,404.1 L766.0,403.6 L768.0,404.4 L770.0,405.4 L772.0,405.8 L774.0,403.4 L776.0,405.5 L778.0,405.8 L780.0,404.5 L782.0,404.8 L784.0,405.4 L786.0,406.3 L788.0,405.0 L790.0,406.3 L792.0,406.1 L794.0,404.6" fill="none" stroke="#8890a0" stroke-width="1" clip-path="url(#cr1)"/>
<rect x="4" y="401" width="27" height="17" fill="#eef3fb" opacity="0.85"/>
<rect x="17" y="407" width="4" height="2" fill="#222"/>
<text x="373.94 379.94 385.94 391.94" y="423" font-family="Liberation Sans,sans-serif" font-size="11" fill="#3a3a3a" stroke="#3a3a3a" stroke-width="0.25">2025</text>
<path d="M412,401 l-4.5,5 l4.5,5" stroke="#3a3f4a" stroke-width="1.8" fill="none" shape-rendering="auto"/>
<path d="M782,401 l4.5,5 l-4.5,5" stroke="#3a3f4a" stroke-width="1.8" fill="none" shape-rendering="auto"/>
<rect x="807" y="145" width="788" height="125" fill="#fff"/>
<rect x="807" y="270" width="788" height="118" fill="#fff"/>
<rect x="807" y="144" width="788" height="1" fill="#d4d4d4"/>
<rect x="807" y="145" width="1" height="242" fill="#cfcfcf"/>
<rect x="1531" y="145" width="1" height="225" fill="#cfcfcf"/>
<rect x="808" y="270" width="787" height="1" fill="#cfcfcf"/>
<rect x="808" y="369" width="787" height="1" fill="#cfcfcf"/>
<rect x="807" y="387" width="788" height="1" fill="#d8d8d8"/>
<text x="814.94 874.94 880.94 886.94 892.94 898.94 904.94 940.94" y="157" font-family="Liberation Sans,sans-serif" font-size="11" fill="#3a8ae6" >[600006]</text><text x="821.00 833.00 845.00 857.00 917.00 929.00" y="157" font-family="Liberation Sans,Noto Sans CJK SC,sans-serif" font-size="12" fill="#3a8ae6" >东风股份日线</text>
<path d="M810.5,177V254M810.5,288V367M824.5,177V254M824.5,288V367M827.5,177V254M827.5,288V367M838.5,177V254M838.5,288V367M855.5,177V254M855.5,288V367M872.5,177V254M872.5,288V367M888.5,177V254M888.5,288V367M904.5,177V254M904.5,288V367M921.5,177V254M921.5,288V367M938.5,177V254M938.5,288V367M955.5,177V254M955.5,288V367M969.5,177V254M969.5,288V367M986.5,177V254M986.5,288V367M1003.5,177V254M1003.5,288V367M1020.5,177V254M1020.5,288V367M1030.5,177V254M1030.5,288V367M1044.5,177V254M1044.5,288V367M1060.5,177V254M1060.5,288V367M1077.5,177V254M1077.5,288V367M1094.5,177V254M1094.5,288V367M1107.5,177V254M1107.5,288V367M1124.5,177V254M1124.5,288V367M1141.5,177V254M1141.5,288V367M1158.5,177V254M1158.5,288V367M1175.5,177V254M1175.5,288V367M1192.5,177V254M1192.5,288V367M1208.5,177V254M1208.5,288V367M1225.5,177V254M1225.5,288V367M1242.5,177V254M1242.5,288V367M1259.5,177V254M1259.5,288V367M1276.5,177V254M1276.5,288V367M1293.5,177V254M1293.5,288V367M1310.5,177V254M1310.5,288V367M1327.5,177V254M1327.5,288V367M1344.5,177V254M1344.5,288V367M1360.5,177V254M1360.5,288V367M1377.5,177V254M1377.5,288V367M1384.5,177V254M1384.5,288V367M1390.5,177V254M1390.5,288V367M1407.5,177V254M1407.5,288V367M1424.5,177V254M1424.5,288V367M1441.5,177V254M1441.5,288V367M1458.5,177V254M1458.5,288V367M1475.5,177V254M1475.5,288V367" stroke="#c8c8c8" stroke-width="1" stroke-dasharray="1,2" fill="none"/>
<path d="M808,177.5H1531M808,254.5H1531M808,288.5H1531M808,315.5H1531M808,342.5H1531" stroke="#c8c8c8" stroke-width="1" stroke-dasharray="1,4" fill="none"/>
<path d="M814.5,228.1V231.4M831.5,233.6V245.6M834.5,223.5V235.5M837.5,211.5V223.5M841.5,196.4V206.8M847.5,201.0V208.6M851.5,198.3V207.0M864.5,214.0V217.0M874.5,216.5V219.2M878.5,215.7V219.3M881.5,214.2V219.0M895.5,222.7V227.6M898.5,220.6V225.3M901.5,219.8V223.4M912.5,221.5V227.3M925.5,220.0V226.3M928.5,218.4V224.9M932.5,218.8V221.8M945.5,224.4V228.3M952.5,217.2V229.2M955.5,207.7V219.7M959.5,209.6V214.9M976.5,240.6V249.4M979.5,233.9V243.1M986.5,230.9V238.2M989.5,232.8V236.6M996.5,233.6V238.9M1003.5,233.6V239.6M1006.5,233.0V237.8M1009.5,230.2V237.7M1013.5,229.7V234.1M1026.5,232.4V240.0M1030.5,230.5V237.4M1033.5,229.4V233.2M1057.5,232.8V236.9M1060.5,227.9V239.9M1063.5,217.5V229.5M1067.5,209.4V221.4M1070.5,207.9V212.9M1080.5,204.1V216.1M1084.5,194.1V206.1M1087.5,182.8V194.8M1090.5,182.8V194.8M1114.5,227.9V230.2M1128.5,229.9V234.5M1141.5,234.8V238.4M1144.5,231.4V238.7M1148.5,231.2V235.6M1151.5,230.5V234.2M1155.5,229.0V233.4M1158.5,228.2V232.3M1171.5,229.9V234.1M1182.5,229.1V233.4M1185.5,229.7V232.6M1188.5,228.2V232.7M1192.5,228.9V231.2M1195.5,227.5V232.3M1198.5,227.0V231.7M1202.5,226.1V230.5M1205.5,224.6V230.2M1209.5,221.6V229.4M1212.5,217.4V224.3M1222.5,220.7V224.8M1242.5,226.8V230.2M1246.5,226.5V229.3M1256.5,219.2V231.2M1259.5,214.4V221.9M1266.5,216.3V221.3M1273.5,213.7V221.9M1276.5,213.8V218.8M1279.5,212.7V219.8M1283.5,207.4V215.6M1286.5,205.3V216.0M1290.5,195.4V207.4M1293.5,186.6V190.5M1306.5,218.3V220.8M1310.5,218.4V220.6M1317.5,214.9V219.1M1337.5,219.0V222.7M1340.5,218.2V222.0M1347.5,217.6V222.0M1350.5,217.5V223.0M1364.5,213.9V225.9M1367.5,214.2V220.8M1371.5,213.3V217.5M1374.5,211.1V218.1M1381.5,201.0V213.0M1394.5,213.6V218.2M1398.5,212.8V216.4M1401.5,211.6V218.3M1411.5,218.6V222.5M1414.5,217.4V221.6M1418.5,214.6V223.0M1421.5,212.2V217.8M1431.5,214.2V218.2M1435.5,212.1V218.1M1438.5,212.0V215.5M1441.5,211.6V216.8M1445.5,208.4V211.9M1458.5,211.1V214.9M1465.5,211.5V214.5M1468.5,209.0V215.2M1472.5,203.8V214.8M1475.5,200.1V208.3M1479.5,197.4V208.0M976.5,239V254M972.5,235V251M834.5,220.5V237.5M844.5,200V217.5M956.5,207V216M959.5,206V221M962.5,206V221M1064.5,212.5V232.5M1067.5,204V220M1084.5,196V207.5M1087.5,180V196M1290.5,187.5V212.5M1364.5,211V231M1381.5,202.5V221M1475.5,200V211" stroke="#f03535" stroke-width="1.3" fill="none"/>
<path d="M810.5,229.8V237.7M817.5,227.2V236.7M820.5,232.4V244.4M824.5,239.1V246.8M827.5,240.1V245.5M844.5,205.3V211.0M854.5,204.4V216.4M858.5,211.3V222.1M861.5,215.4V219.6M868.5,215.0V220.3M871.5,217.8V219.8M885.5,214.4V225.4M888.5,219.8V228.3M891.5,223.9V228.1M905.5,221.2V227.1M908.5,224.4V227.7M915.5,223.3V225.9M918.5,223.0V227.0M922.5,221.5V227.4M935.5,217.2V225.1M939.5,219.3V229.0M942.5,225.0V229.0M949.5,224.0V229.7M962.5,208.5V216.5M966.5,210.6V222.6M969.5,231.7V243.7M972.5,239.3V250.1M982.5,236.0V243.2M993.5,233.6V238.6M999.5,236.0V238.6M1016.5,229.3V236.9M1020.5,232.9V241.0M1023.5,236.7V240.8M1036.5,229.8V234.3M1040.5,230.6V235.3M1043.5,231.4V233.7M1047.5,230.5V236.7M1050.5,232.0V238.0M1053.5,233.9V238.3M1074.5,210.3V214.4M1077.5,210.6V214.4M1094.5,193.4V205.4M1097.5,201.0V213.0M1101.5,213.9V225.9M1104.5,221.5V231.8M1107.5,226.1V230.9M1111.5,227.8V231.8M1117.5,226.9V233.9M1121.5,230.3V233.8M1124.5,231.5V233.5M1131.5,230.6V235.8M1134.5,232.9V238.5M1138.5,235.0V239.3M1161.5,229.0V231.5M1165.5,229.0V232.8M1168.5,230.3V232.9M1175.5,229.8V234.2M1178.5,229.5V234.2M1215.5,219.7V225.7M1219.5,223.3V226.7M1225.5,221.5V225.5M1229.5,222.3V228.6M1232.5,224.6V229.4M1236.5,226.8V230.7M1239.5,228.5V230.5M1249.5,225.5V229.4M1252.5,223.8V230.2M1263.5,217.5V221.0M1269.5,219.0V223.3M1296.5,196.7V208.7M1300.5,202.3V214.3M1303.5,214.0V226.0M1313.5,216.9V222.1M1320.5,217.2V225.6M1323.5,221.2V223.8M1327.5,219.8V224.2M1330.5,220.9V224.1M1333.5,220.1V224.9M1344.5,218.5V220.9M1354.5,218.0V226.7M1357.5,221.6V228.7M1360.5,223.1V230.2M1377.5,214.9V223.6M1384.5,204.6V211.1M1387.5,204.0V215.4M1391.5,213.0V220.1M1404.5,215.4V224.2M1408.5,220.0V222.3M1425.5,213.0V216.2M1428.5,213.9V218.6M1448.5,209.3V215.0M1452.5,209.5V214.6M1455.5,210.8V215.2M1462.5,210.7V214.4M1482.5,206.6V218.4M969.5,235V245M842.5,186V211M1070.5,204V217M1091.5,179V204M1094.5,194V206M1097.5,204V212M1101.5,216V227.5M1293.5,179V201M1296.5,198V211M1300.5,205V217M1479.5,200V212" stroke="#2c9c1c" stroke-width="1.3" fill="none"/>
<path d="M808,213.5H1531" stroke="#1f8cf5" stroke-width="1" stroke-dasharray="3,3" fill="none"/>
<circle cx="1482" cy="213" r="2.6" fill="#2c9c1c"/>
<text x="1251.94 1259.47 1263.94 1269.94" y="183" font-family="Liberation Sans,sans-serif" font-size="11" fill="#333" >8.94</text>
<path d="M1278,179.5H1294" stroke="#333" stroke-width="1"/>
<path d="M1294,179.5 l-5,-3 v6 z" fill="#333"/>
<text x="990.94 998.47 1002.94 1008.94" y="257" font-family="Liberation Sans,sans-serif" font-size="11" fill="#333" >6.40</text>
<path d="M977,253.5H991" stroke="#333" stroke-width="1"/>
<path d="M977,253.5 l5,-3 v6 z" fill="#333"/>
<path d="M1201,254 L1206,263 H1196 Z" fill="none" stroke="#f03535" stroke-width="1.2"/>
<path d="M1532,177.5H1538" stroke="#aaa" stroke-width="1"/>
<text x="1542.94 1550.47 1554.94 1560.94" y="181" font-family="Liberation Sans,sans-serif" font-size="11" fill="#222" >9.00</text>
<path d="M1532,254.5H1538" stroke="#aaa" stroke-width="1"/>
<text x="1542.94 1550.47 1554.94 1560.94" y="258" font-family="Liberation Sans,sans-serif" font-size="11" fill="#222" >6.40</text>
<rect x="1531.5" y="199.5" width="63" height="28" fill="#e9eef8" stroke="#cdd5e3"/>
<path d="M1531,213.5H1595" stroke="#cdd5e3"/>
<text x="1551.94 1559.47 1563.94 1569.94" y="210" font-family="Liberation Sans,sans-serif" font-size="11" fill="#2c9c1c" >7.81</text>
<text x="1547.17 1551.94 1559.47 1563.94 1569.94" y="224" font-family="Liberation Sans,sans-serif" font-size="11" fill="#2c9c1c" >-1.01</text><text transform="translate(1576.30,224) scale(0.6,1)" font-family="Liberation Sans,sans-serif" font-size="11" fill="#2c9c1c" >%</text>
<path d="M814.5,356.2V367M831.5,357.0V367M834.5,343.8V367M837.5,363.8V367M841.5,288.0V367M847.5,330.0V367M851.5,338.0V367M864.5,352.0V367M874.5,353.8V367M878.5,357.0V367M881.5,352.0V367M895.5,361.2V367M898.5,358.8V367M901.5,350.0V367M912.5,358.8V367M925.5,362.0V367M928.5,355.0V367M932.5,345.0V367M945.5,360.0V367M952.5,352.0V367M955.5,330.8V367M959.5,336.2V367M976.5,351.2V367M979.5,353.8V367M986.5,353.8V367M989.5,358.8V367M996.5,361.2V367M1003.5,363.8V367M1006.5,363.0V367M1009.5,357.0V367M1013.5,358.8V367M1026.5,363.0V367M1030.5,362.0V367M1033.5,356.2V367M1057.5,362.0V367M1060.5,360.5V367M1063.5,319.2V367M1067.5,330.0V367M1070.5,323.8V367M1080.5,350.0V367M1084.5,322.0V367M1087.5,319.2V367M1090.5,310.0V367M1114.5,357.0V367M1128.5,358.8V367M1141.5,363.0V367M1144.5,358.0V367M1148.5,353.8V367M1151.5,358.0V367M1155.5,352.0V367M1158.5,359.5V367M1171.5,363.8V367M1182.5,361.2V367M1185.5,362.0V367M1188.5,360.0V367M1192.5,363.0V367M1195.5,352.5V367M1198.5,359.5V367M1202.5,357.5V367M1205.5,358.8V367M1209.5,352.5V367M1212.5,350.0V367M1222.5,360.0V367M1242.5,363.0V367M1246.5,360.5V367M1256.5,356.2V367M1259.5,335.8V367M1266.5,355.0V367M1273.5,351.2V367M1276.5,352.0V367M1279.5,357.5V367M1283.5,340.8V367M1286.5,351.2V367M1290.5,317.5V367M1293.5,309.5V367M1306.5,352.5V367M1310.5,354.5V367M1317.5,343.8V367M1337.5,356.2V367M1340.5,358.0V367M1347.5,362.0V367M1350.5,362.0V367M1364.5,337.5V367M1367.5,348.0V367M1371.5,356.2V367M1374.5,353.0V367M1381.5,329.5V367M1394.5,355.0V367M1398.5,353.0V367M1401.5,357.0V367M1411.5,360.5V367M1414.5,363.0V367M1418.5,360.5V367M1421.5,360.0V367M1431.5,363.0V367M1435.5,357.0V367M1438.5,358.0V367M1441.5,360.0V367M1445.5,356.2V367M1458.5,360.5V367M1465.5,360.0V367M1468.5,355.0V367M1472.5,355.0V367M1475.5,343.8V367M1479.5,348.0V367" stroke="#f03535" stroke-width="1.2" fill="none"/>
<path d="M810.5,353.8V367M817.5,350.0V367M820.5,357.5V367M824.5,359.5V367M827.5,360.5V367M844.5,326.2V367M854.5,345.0V367M858.5,348.8V367M861.5,352.5V367M868.5,351.0V367M871.5,356.2V367M885.5,355.0V367M888.5,360.0V367M891.5,361.2V367M905.5,360.0V367M908.5,361.2V367M915.5,361.2V367M918.5,360.0V367M922.5,362.0V367M935.5,353.8V367M939.5,357.0V367M942.5,362.0V367M949.5,362.5V367M962.5,343.8V367M966.5,352.0V367M969.5,353.8V367M972.5,347.0V367M982.5,357.5V367M993.5,362.0V367M999.5,363.0V367M1016.5,362.0V367M1020.5,361.2V367M1023.5,364.5V367M1036.5,361.2V367M1040.5,363.0V367M1043.5,363.8V367M1047.5,362.0V367M1050.5,363.0V367M1053.5,362.0V367M1074.5,326.2V367M1077.5,342.5V367M1094.5,336.2V367M1097.5,348.0V367M1101.5,319.2V367M1104.5,346.2V367M1107.5,352.0V367M1111.5,350.0V367M1117.5,358.8V367M1121.5,357.0V367M1124.5,362.0V367M1131.5,362.0V367M1134.5,358.0V367M1138.5,362.0V367M1161.5,360.0V367M1165.5,362.0V367M1168.5,363.8V367M1175.5,363.8V367M1178.5,361.2V367M1215.5,353.0V367M1219.5,358.0V367M1225.5,360.5V367M1229.5,360.0V367M1232.5,360.5V367M1236.5,360.0V367M1239.5,361.2V367M1249.5,362.0V367M1252.5,362.0V367M1263.5,353.8V367M1269.5,355.0V367M1296.5,330.0V367M1300.5,335.8V367M1303.5,347.0V367M1313.5,357.0V367M1320.5,353.0V367M1323.5,357.5V367M1327.5,358.8V367M1330.5,360.0V367M1333.5,363.0V367M1344.5,357.5V367M1354.5,355.0V367M1357.5,361.2V367M1360.5,363.0V367M1377.5,357.0V367M1384.5,348.8V367M1387.5,353.0V367M1391.5,352.0V367M1404.5,355.0V367M1408.5,361.2V367M1425.5,360.5V367M1428.5,362.0V367M1448.5,358.8V367M1452.5,360.0V367M1455.5,360.5V367M1462.5,358.8V367M1482.5,360.0V367" stroke="#2c9c1c" stroke-width="1.2" fill="none"/>
<rect x="809" y="272" width="20" height="15" fill="#4a8fec"/>
<text x="819" y="284" text-anchor="middle" font-family="Liberation Sans" font-size="12" fill="#fff">?</text>
<text x="831" y="282.5" font-family="Liberation Serif" font-size="12.5" fill="#333" textLength="29" lengthAdjust="spacingAndGlyphs">VOLFS</text>
<text x="875.47 879.94 885.94 893.47 897.94 903.94" y="283" font-family="Liberation Sans,sans-serif" font-size="11" fill="#f5f500" >:29.51</text><text x="910.00" y="283" font-family="Liberation Sans,Noto Sans CJK SC,sans-serif" font-size="12" fill="#f5f500" >万</text>
<path d="M1505.85,279.85 L1507.95,279.99 L1507.95,283.01 L1505.85,283.15 L1505.45,284.11 L1506.83,285.70 L1504.70,287.83 L1503.11,286.45 L1502.15,286.85 L1502.01,288.95 L1498.99,288.95 L1498.85,286.85 L1497.89,286.45 L1496.30,287.83 L1494.17,285.70 L1495.55,284.11 L1495.15,283.15 L1493.05,283.01 L1493.05,279.99 L1495.15,279.85 L1495.55,278.89 L1494.17,277.30 L1496.30,275.17 L1497.89,276.55 L1498.85,276.15 L1498.99,274.05 L1502.01,274.05 L1502.15,276.15 L1503.11,276.55 L1504.70,275.17 L1506.83,277.30 L1505.45,278.89 Z" fill="#f23a3a" shape-rendering="auto"/><circle cx="1500.5" cy="281.5" r="3.1" fill="#fff" shape-rendering="auto"/>
<path d="M1514,276l11,11M1525,276l-11,11" stroke="#f23a3a" stroke-width="1.6" shape-rendering="auto"/>
<text x="1532.94 1538.94 1544.94" y="293" font-family="Liberation Sans,sans-serif" font-size="11" fill="#222" >254</text><text x="1551.00" y="293" font-family="Liberation Sans,Noto Sans CJK SC,sans-serif" font-size="12" fill="#222" >万</text>
<text x="1532.94 1538.94 1544.94" y="320" font-family="Liberation Sans,sans-serif" font-size="11" fill="#222" >169</text><text x="1551.00" y="320" font-family="Liberation Sans,Noto Sans CJK SC,sans-serif" font-size="12" fill="#222" >万</text>
<text x="1532.94 1538.94" y="347" font-family="Liberation Sans,sans-serif" font-size="11" fill="#222" >85</text><text x="1545.00" y="347" font-family="Liberation Sans,Noto Sans CJK SC,sans-serif" font-size="12" fill="#222" >万</text>
<path d="M1531,358V368H1520Z" fill="#3d8af0"/>
<text x="809.94 815.94 821.94 827.94 835.47 839.94 845.94 853.47 857.94 863.94 871.17 889.17" y="381" font-family="Liberation Sans,sans-serif" font-size="11" fill="#333" >2025/01/21()</text><text x="876.00" y="381" font-family="Liberation Sans,Noto Sans CJK SC,sans-serif" font-size="12" fill="#333" >二</text>
<rect x="904" y="370" width="1" height="8" fill="#bbb"/>
<text x="904.94 910.94" y="381" font-family="Liberation Sans,sans-serif" font-size="11" fill="#333" >10</text>
<rect x="937" y="370" width="1" height="8" fill="#bbb"/>
<text x="937.94 943.94" y="381" font-family="Liberation Sans,sans-serif" font-size="11" fill="#333" >24</text>
<rect x="968" y="370" width="1" height="8" fill="#bbb"/>
<text x="968.94 974.94" y="381" font-family="Liberation Sans,sans-serif" font-size="11" fill="#333" >07</text>
<rect x="1002" y="370" width="1" height="8" fill="#bbb"/>
<text x="1002.94 1008.94" y="381" font-family="Liberation Sans,sans-serif" font-size="11" fill="#333" >21</text>
<rect x="1029" y="370" width="1" height="8" fill="#bbb"/>
<text x="1029.94 1035.94" y="381" font-family="Liberation Sans,sans-serif" font-size="11" fill="#333" >06</text>
<rect x="1059" y="370" width="1" height="8" fill="#bbb"/>
<text x="1059.94 1065.94" y="381" font-family="Liberation Sans,sans-serif" font-size="11" fill="#333" >19</text>
<rect x="1093" y="370" width="1" height="8" fill="#bbb"/>
<text x="1093.94 1099.94" y="381" font-family="Liberation Sans,sans-serif" font-size="11" fill="#333" >03</text>
<rect x="1123" y="370" width="1" height="8" fill="#bbb"/>
<text x="1123.94 1129.94" y="381" font-family="Liberation Sans,sans-serif" font-size="11" fill="#333" >16</text>
<rect x="1157" y="370" width="1" height="8" fill="#bbb"/>
<text x="1157.94 1163.94" y="381" font-family="Liberation Sans,sans-serif" font-size="11" fill="#333" >30</text>
<rect x="1191" y="370" width="1" height="8" fill="#bbb"/>
<text x="1191.94 1197.94" y="381" font-family="Liberation Sans,sans-serif" font-size="11" fill="#333" >14</text>
<rect x="1225" y="370" width="1" height="8" fill="#bbb"/>
<text x="1225.94 1231.94" y="381" font-family="Liberation Sans,sans-serif" font-size="11" fill="#333" >28</text>
<rect x="1259" y="370" width="1" height="8" fill="#bbb"/>
<text x="1259.94 1265.94" y="381" font-family="Liberation Sans,sans-serif" font-size="11" fill="#333" >11</text>
<rect x="1292" y="370" width="1" height="8" fill="#bbb"/>
<text x="1292.94 1298.94" y="381" font-family="Liberation Sans,sans-serif" font-size="11" fill="#333" >25</text>
<rect x="1326" y="370" width="1" height="8" fill="#bbb"/>
<text x="1326.94 1332.94" y="381" font-family="Liberation Sans,sans-serif" font-size="11" fill="#333" >08</text>
<rect x="1359" y="370" width="1" height="8" fill="#bbb"/>
<text x="1359.94 1365.94" y="381" font-family="Liberation Sans,sans-serif" font-size="11" fill="#333" >22</text>
<rect x="1384" y="370" width="1" height="8" fill="#bbb"/>
<text x="1384.94 1390.94" y="381" font-family="Liberation Sans,sans-serif" font-size="11" fill="#333" >09</text>
<rect x="1406" y="370" width="1" height="8" fill="#bbb"/>
<text x="1406.94 1412.94" y="381" font-family="Liberation Sans,sans-serif" font-size="11" fill="#333" >20</text>
<rect x="1440" y="370" width="1" height="8" fill="#bbb"/>
<text x="1440.94 1446.94" y="381" font-family="Liberation Sans,sans-serif" font-size="11" fill="#333" >03</text>
<rect x="1474" y="370" width="1" height="8" fill="#bbb"/>
<text x="1474.94 1480.94" y="381" font-family="Liberation Sans,sans-serif" font-size="11" fill="#333" >17</text>
<rect x="807" y="388" width="394" height="39" fill="#dde9fa"/>
<rect x="1201" y="388" width="394" height="39" fill="#d2d7df"/>
<clipPath id="cl2"><rect x="807" y="388" width="394" height="39"/></clipPath>
<clipPath id="cr2"><rect x="1201" y="388" width="394" height="39"/></clipPath>
<path d="M808.0,407.7 L810.0,404.7 L812.0,402.4 L814.0,401.7 L816.0,402.1 L818.0,403.6 L820.0,406.0 L822.0,405.4 L824.0,405.1 L826.0,405.1 L828.0,405.1 L830.0,405.6 L832.0,407.5 L834.0,406.9 L836.0,408.4 L838.0,409.3 L840.0,406.3 L842.0,406.2 L844.0,404.5 L846.0,403.8 L848.0,405.4 L850.0,405.2 L852.0,403.9 L854.0,402.0 L856.0,403.6 L858.0,404.5 L860.0,406.8 L862.0,407.9 L864.0,407.7 L866.0,407.6 L868.0,406.2 L870.0,407.1 L872.0,407.8 L874.0,407.5 L876.0,406.5 L878.0,408.3 L880.0,409.5 L882.0,409.0 L884.0,411.5 L886.0,411.2 L888.0,412.7 L890.0,412.8 L892.0,415.2 L894.0,415.5 L896.0,415.8 L898.0,415.6 L900.0,415.9 L902.0,414.3 L904.0,415.3 L906.0,415.6 L908.0,413.3 L910.0,413.7 L912.0,413.2 L914.0,413.1 L916.0,414.5 L918.0,415.8 L920.0,415.9 L922.0,415.9 L924.0,417.9 L926.0,416.9 L928.0,418.6 L930.0,418.7 L932.0,419.2 L934.0,419.7 L936.0,418.4 L938.0,419.6 L940.0,419.3 L942.0,420.3 L944.0,420.7 L946.0,418.7 L948.0,415.9 L950.0,415.9 L952.0,415.5 L954.0,414.8 L956.0,413.0 L958.0,412.3 L960.0,409.7 L962.0,411.5 L964.0,410.4 L966.0,409.5 L968.0,409.8 L970.0,409.1 L972.0,405.5 L974.0,405.3 L976.0,404.3 L978.0,405.1 L980.0,408.7 L982.0,410.6 L984.0,411.0 L986.0,413.3 L988.0,412.3 L990.0,414.2 L992.0,414.5 L994.0,414.5 L996.0,415.6 L998.0,415.7 L1000.0,415.3 L1002.0,417.6 L1004.0,415.8 L1006.0,416.5 L1008.0,418.6 L1010.0,420.4 L1012.0,420.8 L1014.0,421.9 L1016.0,422.1 L1018.0,423.5 L1020.0,422.8 L1022.0,422.9 L1024.0,423.8 L1026.0,422.8 L1028.0,423.2 L1030.0,425.3 L1032.0,424.0 L1034.0,425.5 L1036.0,425.1 L1038.0,423.8 L1040.0,424.1 L1042.0,423.9 L1044.0,422.6 L1046.0,418.2 L1048.0,415.6 L1050.0,413.6 L1052.0,411.2 L1054.0,410.4 L1056.0,411.4 L1058.0,414.6 L1060.0,417.5 L1062.0,417.8 L1064.0,418.9 L1066.0,418.2 L1068.0,418.0 L1070.0,418.8 L1072.0,417.0 L1074.0,417.6 L1076.0,416.8 L1078.0,416.6 L1080.0,417.2 L1082.0,414.7 L1084.0,416.3 L1086.0,414.7 L1088.0,415.2 L1090.0,415.3 L1092.0,414.6 L1094.0,412.3 L1096.0,410.7 L1098.0,405.9 L1100.0,404.5 L1102.0,401.1 L1104.0,398.7 L1106.0,398.2 L1108.0,401.1 L1110.0,403.7 L1112.0,406.0 L1114.0,407.2 L1116.0,407.4 L1118.0,406.6 L1120.0,406.4 L1122.0,407.8 L1124.0,405.3 L1126.0,406.8 L1128.0,405.4 L1130.0,405.0 L1132.0,404.5 L1134.0,403.6 L1136.0,404.2 L1138.0,403.1 L1140.0,403.0 L1142.0,401.9 L1144.0,402.6 L1146.0,401.9 L1148.0,399.8 L1150.0,399.6 L1152.0,401.3 L1154.0,401.3 L1156.0,402.4 L1158.0,404.3 L1160.0,403.8 L1162.0,404.7 L1164.0,403.5 L1166.0,403.0 L1168.0,403.8 L1170.0,404.0 L1172.0,407.2 L1174.0,408.4 L1176.0,409.5 L1178.0,412.3 L1180.0,411.3 L1182.0,412.9 L1184.0,413.2 L1186.0,412.3 L1188.0,413.0 L1190.0,413.9 L1192.0,413.5 L1194.0,413.1 L1196.0,412.4 L1198.0,411.5 L1200.0,409.9 L1202.0,409.9 L1204.0,407.8 L1206.0,408.2 L1208.0,407.9 L1210.0,406.8 L1212.0,406.4 L1214.0,404.9 L1216.0,405.4 L1218.0,402.4 L1220.0,401.2 L1222.0,400.8 L1224.0,398.7 L1226.0,401.7 L1228.0,400.5 L1230.0,401.3 L1232.0,403.1 L1234.0,403.8 L1236.0,405.6 L1238.0,405.8 L1240.0,405.8 L1242.0,405.3 L1244.0,405.9 L1246.0,405.5 L1248.0,407.4 L1250.0,406.0 L1252.0,405.5 L1254.0,406.3 L1256.0,404.8 L1258.0,405.0 L1260.0,406.4 L1262.0,404.0 L1264.0,404.0 L1266.0,403.9 L1268.0,403.9 L1270.0,404.1 L1272.0,403.5 L1274.0,403.6 L1276.0,403.3 L1278.0,403.3 L1280.0,404.3 L1282.0,403.6 L1284.0,404.6 L1286.0,407.4 L1288.0,407.4 L1290.0,409.4 L1292.0,413.0 L1294.0,412.7 L1296.0,413.3 L1298.0,411.3 L1300.0,412.0 L1302.0,412.5 L1304.0,410.9 L1306.0,411.7 L1308.0,411.0 L1310.0,410.2 L1312.0,411.4 L1314.0,409.8 L1316.0,410.2 L1318.0,410.8 L1320.0,410.2 L1322.0,411.8 L1324.0,411.4 L1326.0,411.5 L1328.0,411.6 L1330.0,412.4 L1332.0,412.1 L1334.0,411.4 L1336.0,410.0 L1338.0,409.6 L1340.0,409.6 L1342.0,408.0 L1344.0,406.8 L1346.0,406.7 L1348.0,402.0 L1350.0,403.7 L1352.0,402.7 L1354.0,402.9 L1356.0,399.6 L1358.0,397.1 L1360.0,395.4 L1362.0,390.2 L1364.0,395.0 L1366.0,400.1 L1368.0,404.2 L1370.0,404.6 L1372.0,406.5 L1374.0,405.5 L1376.0,408.4 L1378.0,408.1 L1380.0,407.0 L1382.0,409.8 L1384.0,408.4 L1386.0,409.2 L1388.0,409.5 L1390.0,408.5 L1392.0,409.6 L1394.0,408.6 L1396.0,409.1 L1398.0,411.1 L1400.0,410.7 L1402.0,409.9 L1404.0,410.2 L1406.0,410.6 L1408.0,408.6 L1410.0,409.4 L1412.0,408.3 L1414.0,408.2 L1416.0,408.1 L1418.0,408.3 L1420.0,407.6 L1422.0,407.9 L1424.0,408.1 L1426.0,408.5 L1428.0,408.9 L1430.0,408.9 L1432.0,408.2 L1434.0,407.4 L1436.0,408.3 L1438.0,406.1 L1440.0,405.8 L1442.0,407.4 L1444.0,406.7 L1446.0,405.4 L1448.0,405.6 L1450.0,405.1 L1452.0,405.2 L1454.0,404.9 L1456.0,404.6 L1458.0,405.4 L1460.0,405.2 L1462.0,404.3 L1464.0,403.6 L1466.0,402.4 L1468.0,403.0 L1470.0,402.9 L1472.0,400.3 L1474.0,400.9 L1476.0,400.2 L1478.0,399.4 L1480.0,394.6 L1482.0,397.1 L1484.0,398.9 L1486.0,401.5 L1488.0,405.2 L1490.0,405.4 L1492.0,405.3 L1494.0,405.6 L1496.0,405.5 L1498.0,404.9 L1500.0,403.8 L1502.0,405.7 L1504.0,405.9 L1506.0,406.2 L1508.0,405.8 L1510.0,404.5 L1512.0,405.1 L1514.0,405.1 L1516.0,406.7 L1518.0,406.6 L1520.0,405.0 L1522.0,406.4 L1524.0,405.7 L1526.0,404.9 L1528.0,403.1 L1530.0,402.0 L1532.0,401.1 L1534.0,402.6 L1536.0,402.7 L1538.0,402.1 L1540.0,404.2 L1542.0,403.8 L1544.0,403.8 L1546.0,404.3 L1548.0,405.6 L1550.0,404.6 L1552.0,404.9 L1554.0,403.2 L1556.0,404.5 L1558.0,403.1 L1560.0,404.5 L1562.0,402.4 L1564.0,402.5 L1566.0,402.8 L1568.0,402.2 L1570.0,402.4 L1572.0,403.2 L1574.0,401.1 L1576.0,402.4 L1578.0,402.0 L1580.0,402.4 L1582.0,401.7 L1584.0,401.9 L1586.0,401.8 L1588.0,402.4 L1590.0,402.0 L1592.0,402.0 L1594.0,402.9 L1594.0,427 L808.0,427 Z" fill="#c7d2e8" clip-path="url(#cl2)"/>
<path d="M808.0,407.7 L810.0,404.7 L812.0,402.4 L814.0,401.7 L816.0,402.1 L818.0,403.6 L820.0,406.0 L822.0,405.4 L824.0,405.1 L826.0,405.1 L828.0,405.1 L830.0,405.6 L832.0,407.5 L834.0,406.9 L836.0,408.4 L838.0,409.3 L840.0,406.3 L842.0,406.2 L844.0,404.5 L846.0,403.8 L848.0,405.4 L850.0,405.2 L852.0,403.9 L854.0,402.0 L856.0,403.6 L858.0,404.5 L860.0,406.8 L862.0,407.9 L864.0,407.7 L866.0,407.6 L868.0,406.2 L870.0,407.1 L872.0,407.8 L874.0,407.5 L876.0,406.5 L878.0,408.3 L880.0,409.5 L882.0,409.0 L884.0,411.5 L886.0,411.2 L888.0,412.7 L890.0,412.8 L892.0,415.2 L894.0,415.5 L896.0,415.8 L898.0,415.6 L900.0,415.9 L902.0,414.3 L904.0,415.3 L906.0,415.6 L908.0,413.3 L910.0,413.7 L912.0,413.2 L914.0,413.1 L916.0,414.5 L918.0,415.8 L920.0,415.9 L922.0,415.9 L924.0,417.9 L926.0,416.9 L928.0,418.6 L930.0,418.7 L932.0,419.2 L934.0,419.7 L936.0,418.4 L938.0,419.6 L940.0,419.3 L942.0,420.3 L944.0,420.7 L946.0,418.7 L948.0,415.9 L950.0,415.9 L952.0,415.5 L954.0,414.8 L956.0,413.0 L958.0,412.3 L960.0,409.7 L962.0,411.5 L964.0,410.4 L966.0,409.5 L968.0,409.8 L970.0,409.1 L972.0,405.5 L974.0,405.3 L976.0,404.3 L978.0,405.1 L980.0,408.7 L982.0,410.6 L984.0,411.0 L986.0,413.3 L988.0,412.3 L990.0,414.2 L992.0,414.5 L994.0,414.5 L996.0,415.6 L998.0,415.7 L1000.0,415.3 L1002.0,417.6 L1004.0,415.8 L1006.0,416.5 L1008.0,418.6 L1010.0,420.4 L1012.0,420.8 L1014.0,421.9 L1016.0,422.1 L1018.0,423.5 L1020.0,422.8 L1022.0,422.9 L1024.0,423.8 L1026.0,422.8 L1028.0,423.2 L1030.0,425.3 L1032.0,424.0 L1034.0,425.5 L1036.0,425.1 L1038.0,423.8 L1040.0,424.1 L1042.0,423.9 L1044.0,422.6 L1046.0,418.2 L1048.0,415.6 L1050.0,413.6 L1052.0,411.2 L1054.0,410.4 L1056.0,411.4 L1058.0,414.6 L1060.0,417.5 L1062.0,417.8 L1064.0,418.9 L1066.0,418.2 L1068.0,418.0 L1070.0,418.8 L1072.0,417.0 L1074.0,417.6 L1076.0,416.8 L1078.0,416.6 L1080.0,417.2 L1082.0,414.7 L1084.0,416.3 L1086.0,414.7 L1088.0,415.2 L1090.0,415.3 L1092.0,414.6 L1094.0,412.3 L1096.0,410.7 L1098.0,405.9 L1100.0,404.5 L1102.0,401.1 L1104.0,398.7 L1106.0,398.2 L1108.0,401.1 L1110.0,403.7 L1112.0,406.0 L1114.0,407.2 L1116.0,407.4 L1118.0,406.6 L1120.0,406.4 L1122.0,407.8 L1124.0,405.3 L1126.0,406.8 L1128.0,405.4 L1130.0,405.0 L1132.0,404.5 L1134.0,403.6 L1136.0,404.2 L1138.0,403.1 L1140.0,403.0 L1142.0,401.9 L1144.0,402.6 L1146.0,401.9 L1148.0,399.8 L1150.0,399.6 L1152.0,401.3 L1154.0,401.3 L1156.0,402.4 L1158.0,404.3 L1160.0,403.8 L1162.0,404.7 L1164.0,403.5 L1166.0,403.0 L1168.0,403.8 L1170.0,404.0 L1172.0,407.2 L1174.0,408.4 L1176.0,409.5 L1178.0,412.3 L1180.0,411.3 L1182.0,412.9 L1184.0,413.2 L1186.0,412.3 L1188.0,413.0 L1190.0,413.9 L1192.0,413.5 L1194.0,413.1 L1196.0,412.4 L1198.0,411.5 L1200.0,409.9 L1202.0,409.9 L1204.0,407.8 L1206.0,408.2 L1208.0,407.9 L1210.0,406.8 L1212.0,406.4 L1214.0,404.9 L1216.0,405.4 L1218.0,402.4 L1220.0,401.2 L1222.0,400.8 L1224.0,398.7 L1226.0,401.7 L1228.0,400.5 L1230.0,401.3 L1232.0,403.1 L1234.0,403.8 L1236.0,405.6 L1238.0,405.8 L1240.0,405.8 L1242.0,405.3 L1244.0,405.9 L1246.0,405.5 L1248.0,407.4 L1250.0,406.0 L1252.0,405.5 L1254.0,406.3 L1256.0,404.8 L1258.0,405.0 L1260.0,406.4 L1262.0,404.0 L1264.0,404.0 L1266.0,403.9 L1268.0,403.9 L1270.0,404.1 L1272.0,403.5 L1274.0,403.6 L1276.0,403.3 L1278.0,403.3 L1280.0,404.3 L1282.0,403.6 L1284.0,404.6 L1286.0,407.4 L1288.0,407.4 L1290.0,409.4 L1292.0,413.0 L1294.0,412.7 L1296.0,413.3 L1298.0,411.3 L1300.0,412.0 L1302.0,412.5 L1304.0,410.9 L1306.0,411.7 L1308.0,411.0 L1310.0,410.2 L1312.0,411.4 L1314.0,409.8 L1316.0,410.2 L1318.0,410.8 L1320.0,410.2 L1322.0,411.8 L1324.0,411.4 L1326.0,411.5 L1328.0,411.6 L1330.0,412.4 L1332.0,412.1 L1334.0,411.4 L1336.0,410.0 L1338.0,409.6 L1340.0,409.6 L1342.0,408.0 L1344.0,406.8 L1346.0,406.7 L1348.0,402.0 L1350.0,403.7 L1352.0,402.7 L1354.0,402.9 L1356.0,399.6 L1358.0,397.1 L1360.0,395.4 L1362.0,390.2 L1364.0,395.0 L1366.0,400.1 L1368.0,404.2 L1370.0,404.6 L1372.0,406.5 L1374.0,405.5 L1376.0,408.4 L1378.0,408.1 L1380.0,407.0 L1382.0,409.8 L1384.0,408.4 L1386.0,409.2 L1388.0,409.5 L1390.0,408.5 L1392.0,409.6 L1394.0,408.6 L1396.0,409.1 L1398.0,411.1 L1400.0,410.7 L1402.0,409.9 L1404.0,410.2 L1406.0,410.6 L1408.0,408.6 L1410.0,409.4 L1412.0,408.3 L1414.0,408.2 L1416.0,408.1 L1418.0,408.3 L1420.0,407.6 L1422.0,407.9 L1424.0,408.1 L1426.0,408.5 L1428.0,408.9 L1430.0,408.9 L1432.0,408.2 L1434.0,407.4 L1436.0,408.3 L1438.0,406.1 L1440.0,405.8 L1442.0,407.4 L1444.0,406.7 L1446.0,405.4 L1448.0,405.6 L1450.0,405.1 L1452.0,405.2 L1454.0,404.9 L1456.0,404.6 L1458.0,405.4 L1460.0,405.2 L1462.0,404.3 L1464.0,403.6 L1466.0,402.4 L1468.0,403.0 L1470.0,402.9 L1472.0,400.3 L1474.0,400.9 L1476.0,400.2 L1478.0,399.4 L1480.0,394.6 L1482.0,397.1 L1484.0,398.9 L1486.0,401.5 L1488.0,405.2 L1490.0,405.4 L1492.0,405.3 L1494.0,405.6 L1496.0,405.5 L1498.0,404.9 L1500.0,403.8 L1502.0,405.7 L1504.0,405.9 L1506.0,406.2 L1508.0,405.8 L1510.0,404.5 L1512.0,405.1 L1514.0,405.1 L1516.0,406.7 L1518.0,406.6 L1520.0,405.0 L1522.0,406.4 L1524.0,405.7 L1526.0,404.9 L1528.0,403.1 L1530.0,402.0 L1532.0,401.1 L1534.0,402.6 L1536.0,402.7 L1538.0,402.1 L1540.0,404.2 L1542.0,403.8 L1544.0,403.8 L1546.0,404.3 L1548.0,405.6 L1550.0,404.6 L1552.0,404.9 L1554.0,403.2 L1556.0,404.5 L1558.0,403.1 L1560.0,404.5 L1562.0,402.4 L1564.0,402.5 L1566.0,402.8 L1568.0,402.2 L1570.0,402.4 L1572.0,403.2 L1574.0,401.1 L1576.0,402.4 L1578.0,402.0 L1580.0,402.4 L1582.0,401.7 L1584.0,401.9 L1586.0,401.8 L1588.0,402.4 L1590.0,402.0 L1592.0,402.0 L1594.0,402.9 L1594.0,427 L808.0,427 Z" fill="#c4c9d4" clip-path="url(#cr2)"/>
<path d="M808.0,407.7 L810.0,404.7 L812.0,402.4 L814.0,401.7 L816.0,402.1 L818.0,403.6 L820.0,406.0 L822.0,405.4 L824.0,405.1 L826.0,405.1 L828.0,405.1 L830.0,405.6 L832.0,407.5 L834.0,406.9 L836.0,408.4 L838.0,409.3 L840.0,406.3 L842.0,406.2 L844.0,404.5 L846.0,403.8 L848.0,405.4 L850.0,405.2 L852.0,403.9 L854.0,402.0 L856.0,403.6 L858.0,404.5 L860.0,406.8 L862.0,407.9 L864.0,407.7 L866.0,407.6 L868.0,406.2 L870.0,407.1 L872.0,407.8 L874.0,407.5 L876.0,406.5 L878.0,408.3 L880.0,409.5 L882.0,409.0 L884.0,411.5 L886.0,411.2 L888.0,412.7 L890.0,412.8 L892.0,415.2 L894.0,415.5 L896.0,415.8 L898.0,415.6 L900.0,415.9 L902.0,414.3 L904.0,415.3 L906.0,415.6 L908.0,413.3 L910.0,413.7 L912.0,413.2 L914.0,413.1 L916.0,414.5 L918.0,415.8 L920.0,415.9 L922.0,415.9 L924.0,417.9 L926.0,416.9 L928.0,418.6 L930.0,418.7 L932.0,419.2 L934.0,419.7 L936.0,418.4 L938.0,419.6 L940.0,419.3 L942.0,420.3 L944.0,420.7 L946.0,418.7 L948.0,415.9 L950.0,415.9 L952.0,415.5 L954.0,414.8 L956.0,413.0 L958.0,412.3 L960.0,409.7 L962.0,411.5 L964.0,410.4 L966.0,409.5 L968.0,409.8 L970.0,409.1 L972.0,405.5 L974.0,405.3 L976.0,404.3 L978.0,405.1 L980.0,408.7 L982.0,410.6 L984.0,411.0 L986.0,413.3 L988.0,412.3 L990.0,414.2 L992.0,414.5 L994.0,414.5 L996.0,415.6 L998.0,415.7 L1000.0,415.3 L1002.0,417.6 L1004.0,415.8 L1006.0,416.5 L1008.0,418.6 L1010.0,420.4 L1012.0,420.8 L1014.0,421.9 L1016.0,422.1 L1018.0,423.5 L1020.0,422.8 L1022.0,422.9 L1024.0,423.8 L1026.0,422.8 L1028.0,423.2 L1030.0,425.3 L1032.0,424.0 L1034.0,425.5 L1036.0,425.1 L1038.0,423.8 L1040.0,424.1 L1042.0,423.9 L1044.0,422.6 L1046.0,418.2 L1048.0,415.6 L1050.0,413.6 L1052.0,411.2 L1054.0,410.4 L1056.0,411.4 L1058.0,414.6 L1060.0,417.5 L1062.0,417.8 L1064.0,418.9 L1066.0,418.2 L1068.0,418.0 L1070.0,418.8 L1072.0,417.0 L1074.0,417.6 L1076.0,416.8 L1078.0,416.6 L1080.0,417.2 L1082.0,414.7 L1084.0,416.3 L1086.0,414.7 L1088.0,415.2 L1090.0,415.3 L1092.0,414.6 L1094.0,412.3 L1096.0,410.7 L1098.0,405.9 L1100.0,404.5 L1102.0,401.1 L1104.0,398.7 L1106.0,398.2 L1108.0,401.1 L1110.0,403.7 L1112.0,406.0 L1114.0,407.2 L1116.0,407.4 L1118.0,406.6 L1120.0,406.4 L1122.0,407.8 L1124.0,405.3 L1126.0,406.8 L1128.0,405.4 L1130.0,405.0 L1132.0,404.5 L1134.0,403.6 L1136.0,404.2 L1138.0,403.1 L1140.0,403.0 L1142.0,401.9 L1144.0,402.6 L1146.0,401.9 L1148.0,399.8 L1150.0,399.6 L1152.0,401.3 L1154.0,401.3 L1156.0,402.4 L1158.0,404.3 L1160.0,403.8 L1162.0,404.7 L1164.0,403.5 L1166.0,403.0 L1168.0,403.8 L1170.0,404.0 L1172.0,407.2 L1174.0,408.4 L1176.0,409.5 L1178.0,412.3 L1180.0,411.3 L1182.0,412.9 L1184.0,413.2 L1186.0,412.3 L1188.0,413.0 L1190.0,413.9 L1192.0,413.5 L1194.0,413.1 L1196.0,412.4 L1198.0,411.5 L1200.0,409.9 L1202.0,409.9 L1204.0,407.8 L1206.0,408.2 L1208.0,407.9 L1210.0,406.8 L1212.0,406.4 L1214.0,404.9 L1216.0,405.4 L1218.0,402.4 L1220.0,401.2 L1222.0,400.8 L1224.0,398.7 L1226.0,401.7 L1228.0,400.5 L1230.0,401.3 L1232.0,403.1 L1234.0,403.8 L1236.0,405.6 L1238.0,405.8 L1240.0,405.8 L1242.0,405.3 L1244.0,405.9 L1246.0,405.5 L1248.0,407.4 L1250.0,406.0 L1252.0,405.5 L1254.0,406.3 L1256.0,404.8 L1258.0,405.0 L1260.0,406.4 L1262.0,404.0 L1264.0,404.0 L1266.0,403.9 L1268.0,403.9 L1270.0,404.1 L1272.0,403.5 L1274.0,403.6 L1276.0,403.3 L1278.0,403.3 L1280.0,404.3 L1282.0,403.6 L1284.0,404.6 L1286.0,407.4 L1288.0,407.4 L1290.0,409.4 L1292.0,413.0 L1294.0,412.7 L1296.0,413.3 L1298.0,411.3 L1300.0,412.0 L1302.0,412.5 L1304.0,410.9 L1306.0,411.7 L1308.0,411.0 L1310.0,410.2 L1312.0,411.4 L1314.0,409.8 L1316.0,410.2 L1318.0,410.8 L1320.0,410.2 L1322.0,411.8 L1324.0,411.4 L1326.0,411.5 L1328.0,411.6 L1330.0,412.4 L1332.0,412.1 L1334.0,411.4 L1336.0,410.0 L1338.0,409.6 L1340.0,409.6 L1342.0,408.0 L1344.0,406.8 L1346.0,406.7 L1348.0,402.0 L1350.0,403.7 L1352.0,402.7 L1354.0,402.9 L1356.0,399.6 L1358.0,397.1 L1360.0,395.4 L1362.0,390.2 L1364.0,395.0 L1366.0,400.1 L1368.0,404.2 L1370.0,404.6 L1372.0,406.5 L1374.0,405.5 L1376.0,408.4 L1378.0,408.1 L1380.0,407.0 L1382.0,409.8 L1384.0,408.4 L1386.0,409.2 L1388.0,409.5 L1390.0,408.5 L1392.0,409.6 L1394.0,408.6 L1396.0,409.1 L1398.0,411.1 L1400.0,410.7 L1402.0,409.9 L1404.0,410.2 L1406.0,410.6 L1408.0,408.6 L1410.0,409.4 L1412.0,408.3 L1414.0,408.2 L1416.0,408.1 L1418.0,408.3 L1420.0,407.6 L1422.0,407.9 L1424.0,408.1 L1426.0,408.5 L1428.0,408.9 L1430.0,408.9 L1432.0,408.2 L1434.0,407.4 L1436.0,408.3 L1438.0,406.1 L1440.0,405.8 L1442.0,407.4 L1444.0,406.7 L1446.0,405.4 L1448.0,405.6 L1450.0,405.1 L1452.0,405.2 L1454.0,404.9 L1456.0,404.6 L1458.0,405.4 L1460.0,405.2 L1462.0,404.3 L1464.0,403.6 L1466.0,402.4 L1468.0,403.0 L1470.0,402.9 L1472.0,400.3 L1474.0,400.9 L1476.0,400.2 L1478.0,399.4 L1480.0,394.6 L1482.0,397.1 L1484.0,398.9 L1486.0,401.5 L1488.0,405.2 L1490.0,405.4 L1492.0,405.3 L1494.0,405.6 L1496.0,405.5 L1498.0,404.9 L1500.0,403.8 L1502.0,405.7 L1504.0,405.9 L1506.0,406.2 L1508.0,405.8 L1510.0,404.5 L1512.0,405.1 L1514.0,405.1 L1516.0,406.7 L1518.0,406.6 L1520.0,405.0 L1522.0,406.4 L1524.0,405.7 L1526.0,404.9 L1528.0,403.1 L1530.0,402.0 L1532.0,401.1 L1534.0,402.6 L1536.0,402.7 L1538.0,402.1 L1540.0,404.2 L1542.0,403.8 L1544.0,403.8 L1546.0,404.3 L1548.0,405.6 L1550.0,404.6 L1552.0,404.9 L1554.0,403.2 L1556.0,404.5 L1558.0,403.1 L1560.0,404.5 L1562.0,402.4 L1564.0,402.5 L1566.0,402.8 L1568.0,402.2 L1570.0,402.4 L1572.0,403.2 L1574.0,401.1 L1576.0,402.4 L1578.0,402.0 L1580.0,402.4 L1582.0,401.7 L1584.0,401.9 L1586.0,401.8 L1588.0,402.4 L1590.0,402.0 L1592.0,402.0 L1594.0,402.9" fill="none" stroke="#6d7b9a" stroke-width="1" clip-path="url(#cl2)"/>
<path d="M808.0,407.7 L810.0,404.7 L812.0,402.4 L814.0,401.7 L816.0,402.1 L818.0,403.6 L820.0,406.0 L822.0,405.4 L824.0,405.1 L826.0,405.1 L828.0,405.1 L830.0,405.6 L832.0,407.5 L834.0,406.9 L836.0,408.4 L838.0,409.3 L840.0,406.3 L842.0,406.2 L844.0,404.5 L846.0,403.8 L848.0,405.4 L850.0,405.2 L852.0,403.9 L854.0,402.0 L856.0,403.6 L858.0,404.5 L860.0,406.8 L862.0,407.9 L864.0,407.7 L866.0,407.6 L868.0,406.2 L870.0,407.1 L872.0,407.8 L874.0,407.5 L876.0,406.5 L878.0,408.3 L880.0,409.5 L882.0,409.0 L884.0,411.5 L886.0,411.2 L888.0,412.7 L890.0,412.8 L892.0,415.2 L894.0,415.5 L896.0,415.8 L898.0,415.6 L900.0,415.9 L902.0,414.3 L904.0,415.3 L906.0,415.6 L908.0,413.3 L910.0,413.7 L912.0,413.2 L914.0,413.1 L916.0,414.5 L918.0,415.8 L920.0,415.9 L922.0,415.9 L924.0,417.9 L926.0,416.9 L928.0,418.6 L930.0,418.7 L932.0,419.2 L934.0,419.7 L936.0,418.4 L938.0,419.6 L940.0,419.3 L942.0,420.3 L944.0,420.7 L946.0,418.7 L948.0,415.9 L950.0,415.9 L952.0,415.5 L954.0,414.8 L956.0,413.0 L958.0,412.3 L960.0,409.7 L962.0,411.5 L964.0,410.4 L966.0,409.5 L968.0,409.8 L970.0,409.1 L972.0,405.5 L974.0,405.3 L976.0,404.3 L978.0,405.1 L980.0,408.7 L982.0,410.6 L984.0,411.0 L986.0,413.3 L988.0,412.3 L990.0,414.2 L992.0,414.5 L994.0,414.5 L996.0,415.6 L998.0,415.7 L1000.0,415.3 L1002.0,417.6 L1004.0,415.8 L1006.0,416.5 L1008.0,418.6 L1010.0,420.4 L1012.0,420.8 L1014.0,421.9 L1016.0,422.1 L1018.0,423.5 L1020.0,422.8 L1022.0,422.9 L1024.0,423.8 L1026.0,422.8 L1028.0,423.2 L1030.0,425.3 L1032.0,424.0 L1034.0,425.5 L1036.0,425.1 L1038.0,423.8 L1040.0,424.1 L1042.0,423.9 L1044.0,422.6 L1046.0,418.2 L1048.0,415.6 L1050.0,413.6 L1052.0,411.2 L1054.0,410.4 L1056.0,411.4 L1058.0,414.6 L1060.0,417.5 L1062.0,417.8 L1064.0,418.9 L1066.0,418.2 L1068.0,418.0 L1070.0,418.8 L1072.0,417.0 L1074.0,417.6 L1076.0,416.8 L1078.0,416.6 L1080.0,417.2 L1082.0,414.7 L1084.0,416.3 L1086.0,414.7 L1088.0,415.2 L1090.0,415.3 L1092.0,414.6 L1094.0,412.3 L1096.0,410.7 L1098.0,405.9 L1100.0,404.5 L1102.0,401.1 L1104.0,398.7 L1106.0,398.2 L1108.0,401.1 L1110.0,403.7 L1112.0,406.0 L1114.0,407.2 L1116.0,407.4 L1118.0,406.6 L1120.0,406.4 L1122.0,407.8 L1124.0,405.3 L1126.0,406.8 L1128.0,405.4 L1130.0,405.0 L1132.0,404.5 L1134.0,403.6 L1136.0,404.2 L1138.0,403.1 L1140.0,403.0 L1142.0,401.9 L1144.0,402.6 L1146.0,401.9 L1148.0,399.8 L1150.0,399.6 L1152.0,401.3 L1154.0,401.3 L1156.0,402.4 L1158.0,404.3 L1160.0,403.8 L1162.0,404.7 L1164.0,403.5 L1166.0,403.0 L1168.0,403.8 L1170.0,404.0 L1172.0,407.2 L1174.0,408.4 L1176.0,409.5 L1178.0,412.3 L1180.0,411.3 L1182.0,412.9 L1184.0,413.2 L1186.0,412.3 L1188.0,413.0 L1190.0,413.9 L1192.0,413.5 L1194.0,413.1 L1196.0,412.4 L1198.0,411.5 L1200.0,409.9 L1202.0,409.9 L1204.0,407.8 L1206.0,408.2 L1208.0,407.9 L1210.0,406.8 L1212.0,406.4 L1214.0,404.9 L1216.0,405.4 L1218.0,402.4 L1220.0,401.2 L1222.0,400.8 L1224.0,398.7 L1226.0,401.7 L1228.0,400.5 L1230.0,401.3 L1232.0,403.1 L1234.0,403.8 L1236.0,405.6 L1238.0,405.8 L1240.0,405.8 L1242.0,405.3 L1244.0,405.9 L1246.0,405.5 L1248.0,407.4 L1250.0,406.0 L1252.0,405.5 L1254.0,406.3 L1256.0,404.8 L1258.0,405.0 L1260.0,406.4 L1262.0,404.0 L1264.0,404.0 L1266.0,403.9 L1268.0,403.9 L1270.0,404.1 L1272.0,403.5 L1274.0,403.6 L1276.0,403.3 L1278.0,403.3 L1280.0,404.3 L1282.0,403.6 L1284.0,404.6 L1286.0,407.4 L1288.0,407.4 L1290.0,409.4 L1292.0,413.0 L1294.0,412.7 L1296.0,413.3 L1298.0,411.3 L1300.0,412.0 L1302.0,412.5 L1304.0,410.9 L1306.0,411.7 L1308.0,411.0 L1310.0,410.2 L1312.0,411.4 L1314.0,409.8 L1316.0,410.2 L1318.0,410.8 L1320.0,410.2 L1322.0,411.8 L1324.0,411.4 L1326.0,411.5 L1328.0,411.6 L1330.0,412.4 L1332.0,412.1 L1334.0,411.4 L1336.0,410.0 L1338.0,409.6 L1340.0,409.6 L1342.0,408.0 L1344.0,406.8 L1346.0,406.7 L1348.0,402.0 L1350.0,403.7 L1352.0,402.7 L1354.0,402.9 L1356.0,399.6 L1358.0,397.1 L1360.0,395.4 L1362.0,390.2 L1364.0,395.0 L1366.0,400.1 L1368.0,404.2 L1370.0,404.6 L1372.0,406.5 L1374.0,405.5 L1376.0,408.4 L1378.0,408.1 L1380.0,407.0 L1382.0,409.8 L1384.0,408.4 L1386.0,409.2 L1388.0,409.5 L1390.0,408.5 L1392.0,409.6 L1394.0,408.6 L1396.0,409.1 L1398.0,411.1 L1400.0,410.7 L1402.0,409.9 L1404.0,410.2 L1406.0,410.6 L1408.0,408.6 L1410.0,409.4 L1412.0,408.3 L1414.0,408.2 L1416.0,408.1 L1418.0,408.3 L1420.0,407.6 L1422.0,407.9 L1424.0,408.1 L1426.0,408.5 L1428.0,408.9 L1430.0,408.9 L1432.0,408.2 L1434.0,407.4 L1436.0,408.3 L1438.0,406.1 L1440.0,405.8 L1442.0,407.4 L1444.0,406.7 L1446.0,405.4 L1448.0,405.6 L1450.0,405.1 L1452.0,405.2 L1454.0,404.9 L1456.0,404.6 L1458.0,405.4 L1460.0,405.2 L1462.0,404.3 L1464.0,403.6 L1466.0,402.4 L1468.0,403.0 L1470.0,402.9 L1472.0,400.3 L1474.0,400.9 L1476.0,400.2 L1478.0,399.4 L1480.0,394.6 L1482.0,397.1 L1484.0,398.9 L1486.0,401.5 L1488.0,405.2 L1490.0,405.4 L1492.0,405.3 L1494.0,405.6 L1496.0,405.5 L1498.0,404.9 L1500.0,403.8 L1502.0,405.7 L1504.0,405.9 L1506.0,406.2 L1508.0,405.8 L1510.0,404.5 L1512.0,405.1 L1514.0,405.1 L1516.0,406.7 L1518.0,406.6 L1520.0,405.0 L1522.0,406.4 L1524.0,405.7 L1526.0,404.9 L1528.0,403.1 L1530.0,402.0 L1532.0,401.1 L1534.0,402.6 L1536.0,402.7 L1538.0,402.1 L1540.0,404.2 L1542.0,403.8 L1544.0,403.8 L1546.0,404.3 L1548.0,405.6 L1550.0,404.6 L1552.0,404.9 L1554.0,403.2 L1556.0,404.5 L1558.0,403.1 L1560.0,404.5 L1562.0,402.4 L1564.0,402.5 L1566.0,402.8 L1568.0,402.2 L1570.0,402.4 L1572.0,403.2 L1574.0,401.1 L1576.0,402.4 L1578.0,402.0 L1580.0,402.4 L1582.0,401.7 L1584.0,401.9 L1586.0,401.8 L1588.0,402.4 L1590.0,402.0 L1592.0,402.0 L1594.0,402.9" fill="none" stroke="#8890a0" stroke-width="1" clip-path="url(#cr2)"/>
<rect x="808" y="401" width="27" height="17" fill="#eef3fb" opacity="0.85"/>
<rect x="821" y="407" width="4" height="2" fill="#222"/>
<text x="1175.94 1181.94 1187.94 1193.94" y="423" font-family="Liberation Sans,sans-serif" font-size="11" fill="#3a3a3a" stroke="#3a3a3a" stroke-width="0.25">2025</text>
<path d="M1214,401 l-4.5,5 l4.5,5" stroke="#3a3f4a" stroke-width="1.8" fill="none" shape-rendering="auto"/>
<path d="M1582,401 l4.5,5 l-4.5,5" stroke="#3a3f4a" stroke-width="1.8" fill="none" shape-rendering="auto"/>
<rect x="3" y="486" width="792" height="122" fill="#fff"/>
<rect x="3" y="608" width="792" height="118" fill="#fff"/>
<rect x="3" y="485" width="792" height="1" fill="#d4d4d4"/>
<rect x="3" y="486" width="1" height="239" fill="#cfcfcf"/>
<rect x="730" y="486" width="1" height="222" fill="#cfcfcf"/>
<rect x="4" y="608" width="791" height="1" fill="#cfcfcf"/>
<rect x="4" y="707" width="791" height="1" fill="#cfcfcf"/>
<rect x="3" y="725" width="792" height="1" fill="#d8d8d8"/>
<text x="10.94 70.94 76.94 82.94 88.94 94.94 100.94 136.94" y="498" font-family="Liberation Sans,sans-serif" font-size="11" fill="#3a8ae6" >[600004]</text><text x="17.00 29.00 41.00 53.00 113.00 125.00" y="498" font-family="Liberation Sans,Noto Sans CJK SC,sans-serif" font-size="12" fill="#3a8ae6" >白云机场日线</text>
<path d="M6.5,518V592M6.5,626V705M20.5,518V592M20.5,626V705M23.5,518V592M23.5,626V705M34.5,518V592M34.5,626V705M51.5,518V592M51.5,626V705M68.5,518V592M68.5,626V705M84.5,518V592M84.5,626V705M101.5,518V592M101.5,626V705M118.5,518V592M118.5,626V705M135.5,518V592M135.5,626V705M152.5,518V592M152.5,626V705M166.5,518V592M166.5,626V705M183.5,518V592M183.5,626V705M200.5,518V592M200.5,626V705M217.5,518V592M217.5,626V705M227.5,518V592M227.5,626V705M241.5,518V592M241.5,626V705M258.5,518V592M258.5,626V705M275.5,518V592M275.5,626V705M292.5,518V592M292.5,626V705M305.5,518V592M305.5,626V705M322.5,518V592M322.5,626V705M339.5,518V592M339.5,626V705M356.5,518V592M356.5,626V705M373.5,518V592M373.5,626V705M390.5,518V592M390.5,626V705M407.5,518V592M407.5,626V705M424.5,518V592M424.5,626V705M441.5,518V592M441.5,626V705M458.5,518V592M458.5,626V705M475.5,518V592M475.5,626V705M492.5,518V592M492.5,626V705M509.5,518V592M509.5,626V705M526.5,518V592M526.5,626V705M543.5,518V592M543.5,626V705M560.5,518V592M560.5,626V705M577.5,518V592M577.5,626V705M584.5,518V592M584.5,626V705M590.5,518V592M590.5,626V705M607.5,518V592M607.5,626V705M624.5,518V592M624.5,626V705M641.5,518V592M641.5,626V705M658.5,518V592M658.5,626V705M675.5,518V592M675.5,626V705" stroke="#c8c8c8" stroke-width="1" stroke-dasharray="1,2" fill="none"/>
<path d="M4,518.5H730M4,552.5H730M4,592.5H730M4,626.5H730M4,653.5H730M4,680.5H730" stroke="#c8c8c8" stroke-width="1" stroke-dasharray="1,4" fill="none"/>
<path d="M6.5,554.0V558.6M13.5,551.8V557.2M20.5,553.3V557.2M30.5,556.6V560.6M33.5,555.4V560.0M44.5,558.0V562.0M47.5,557.8V562.7M67.5,563.7V565.7M78.5,561.5V566.4M95.5,565.2V567.2M98.5,563.8V568.7M108.5,564.6V568.2M112.5,565.2V568.4M115.5,562.8V568.7M118.5,561.4V566.5M135.5,563.7V568.8M139.5,561.4V568.1M142.5,561.5V566.0M159.5,565.1V567.4M173.5,569.6V581.6M176.5,568.4V574.3M180.5,569.1V573.4M193.5,570.2V574.1M197.5,570.1V575.4M210.5,573.3V576.7M214.5,573.5V575.9M217.5,572.8V576.7M220.5,571.0V577.1M224.5,565.6V574.5M227.5,561.7V570.3M231.5,563.8V566.4M241.5,562.4V568.0M244.5,560.2V566.4M247.5,558.0V565.5M251.5,554.4V563.2M254.5,551.3V559.9M258.5,549.7V556.0M275.5,548.8V559.5M278.5,542.0V554.0M281.5,543.7V547.5M312.5,553.2V557.0M315.5,553.2V558.2M336.5,560.3V564.5M339.5,558.1V564.0M343.5,557.6V561.4M346.5,557.8V561.2M370.5,564.7V568.0M377.5,565.1V569.4M380.5,561.3V567.8M383.5,559.9V566.4M387.5,555.4V567.4M390.5,547.8V555.1M400.5,556.0V559.9M407.5,552.3V558.2M411.5,550.1V557.3M414.5,546.3V555.9M417.5,544.6V550.7M421.5,545.1V549.9M431.5,550.1V555.1M441.5,553.8V558.7M445.5,552.7V557.3M451.5,553.8V556.2M458.5,552.7V556.5M461.5,551.8V555.9M465.5,551.4V554.9M472.5,548.8V556.5M475.5,545.5V553.1M482.5,541.7V553.7M485.5,533.8V545.0M489.5,537.6V542.4M492.5,535.7V540.8M499.5,535.7V538.4M506.5,531.3V536.3M526.5,542.1V547.1M550.5,547.1V551.2M567.5,552.5V555.1M577.5,551.9V557.1M580.5,552.5V555.1M587.5,551.9V555.7M594.5,548.9V555.8M597.5,546.6V554.0M601.5,546.8V550.9M611.5,548.4V552.6M618.5,547.9V551.1M621.5,547.4V551.3M625.5,546.5V550.7M628.5,544.9V550.5M631.5,541.7V549.5M635.5,541.0V545.7M638.5,540.1V544.1M642.5,539.0V542.7M645.5,538.6V541.4M648.5,537.0V542.6M652.5,534.8V542.7M655.5,531.0V540.0M659.5,525.3V536.0M662.5,523.0V530.9M665.5,522.4V526.7M669.5,522.3V527.7M170.5,578V588M173.5,568V585" stroke="#f03535" stroke-width="1.3" fill="none"/>
<path d="M10.5,555.8V560.0M16.5,553.5V557.6M23.5,554.2V562.2M27.5,558.4V561.1M37.5,556.1V560.9M40.5,557.0V562.4M50.5,557.7V565.6M54.5,561.2V567.7M57.5,563.2V567.5M61.5,564.1V566.1M64.5,563.2V566.8M71.5,563.4V566.8M74.5,562.6V567.8M81.5,561.8V565.9M84.5,562.5V568.6M88.5,564.5V568.0M91.5,564.2V568.3M101.5,564.9V568.8M105.5,566.1V568.9M122.5,561.8V565.7M125.5,561.6V566.9M129.5,562.2V568.1M132.5,563.6V568.2M146.5,562.0V566.7M149.5,562.7V568.3M152.5,564.8V568.2M156.5,565.1V568.6M163.5,560.2V572.2M166.5,572.8V584.8M169.5,578.7V585.4M183.5,569.1V574.8M186.5,571.7V574.3M190.5,571.8V574.2M200.5,570.6V576.4M203.5,572.1V576.3M207.5,573.3V576.4M234.5,563.2V568.6M237.5,564.6V567.9M261.5,550.2V554.5M264.5,551.3V557.3M268.5,552.8V559.1M271.5,555.3V559.1M285.5,544.4V549.8M288.5,546.2V550.1M292.5,546.8V552.6M295.5,548.5V554.3M298.5,551.0V554.1M302.5,550.7V555.5M305.5,552.3V556.0M309.5,553.3V557.5M319.5,553.8V559.4M322.5,556.0V559.6M326.5,557.2V560.6M329.5,556.3V563.1M332.5,559.1V565.9M349.5,557.3V563.6M353.5,559.7V567.5M356.5,563.1V567.9M360.5,564.6V567.9M363.5,565.2V567.3M366.5,563.9V567.6M373.5,564.7V569.4M394.5,551.5V560.5M397.5,555.7V561.5M404.5,555.3V559.7M424.5,546.5V555.2M428.5,551.9V555.6M434.5,551.3V558.5M438.5,554.5V557.8M448.5,553.7V556.3M455.5,553.7V556.3M468.5,551.8V554.2M478.5,546.6V550.9M495.5,536.7V540.8M502.5,535.7V541.1M509.5,532.4V538.2M512.5,534.0V542.6M516.5,537.1V545.4M519.5,540.9V549.0M523.5,544.9V546.9M529.5,542.0V548.1M533.5,543.4V549.8M536.5,544.8V550.2M540.5,546.7V549.3M543.5,546.1V551.3M546.5,548.5V550.9M553.5,546.6V551.5M557.5,547.7V555.5M560.5,549.7V556.0M563.5,553.2V556.6M570.5,551.8V557.3M574.5,553.9V556.8M584.5,553.4V555.6M591.5,552.1V555.4M604.5,547.1V553.2M608.5,550.2V552.2M614.5,549.0V551.6M672.5,521.5V531.9M676.5,527.4V538.4M679.5,531.9V540.3M682.5,537.0V543.0M166.5,569V591M390.5,549V560M670.5,521V528M674.5,521V533" stroke="#2c9c1c" stroke-width="1.3" fill="none"/>
<path d="M4,541.5H730" stroke="#1f8cf5" stroke-width="1" stroke-dasharray="3,3" fill="none"/>
<circle cx="682" cy="541" r="2.6" fill="#2c9c1c"/>
<text x="624.94 630.94 638.47 642.94 648.94" y="526" font-family="Liberation Sans,sans-serif" font-size="11" fill="#333" >10.41</text>
<path d="M657,522.5H673" stroke="#333" stroke-width="1"/>
<path d="M673,522.5 l-5,-3 v6 z" fill="#333"/>
<text x="181.94 189.47 193.94 199.94" y="595" font-family="Liberation Sans,sans-serif" font-size="11" fill="#333" >8.34</text>
<path d="M167,591.5H182" stroke="#333" stroke-width="1"/>
<path d="M167,591.5 l5,-3 v6 z" fill="#333"/>
<path d="M352,592 L357,601 H347 Z" fill="none" stroke="#f03535" stroke-width="1.2"/>
<path d="M731,518.5H737" stroke="#aaa" stroke-width="1"/>
<text x="741.94 747.94 755.47 759.94 765.94" y="522" font-family="Liberation Sans,sans-serif" font-size="11" fill="#222" >10.50</text>
<path d="M731,592.5H737" stroke="#aaa" stroke-width="1"/>
<text x="741.94 749.47 753.94 759.94" y="596" font-family="Liberation Sans,sans-serif" font-size="11" fill="#222" >8.30</text>
<rect x="730.5" y="528.5" width="64" height="27" fill="#e9eef8" stroke="#cdd5e3"/>
<path d="M730,541.5H795" stroke="#cdd5e3"/>
<text x="751.44 758.97 763.44 769.44" y="538" font-family="Liberation Sans,sans-serif" font-size="11" fill="#2c9c1c" >9.84</text>
<text x="746.67 751.44 758.97 763.44 769.44" y="552" font-family="Liberation Sans,sans-serif" font-size="11" fill="#2c9c1c" >-0.61</text><text transform="translate(775.80,552) scale(0.6,1)" font-family="Liberation Sans,sans-serif" font-size="11" fill="#2c9c1c" >%</text>
<path d="M6.5,692.5V705M13.5,688.0V705M20.5,690.0V705M30.5,685.0V705M33.5,690.0V705M44.5,688.0V705M47.5,691.2V705M67.5,687.0V705M78.5,678.0V705M95.5,686.2V705M98.5,683.0V705M108.5,691.2V705M112.5,692.0V705M115.5,663.0V705M118.5,677.0V705M135.5,683.0V705M139.5,673.0V705M142.5,688.8V705M159.5,695.5V705M173.5,656.2V705M176.5,671.2V705M180.5,683.0V705M193.5,696.2V705M197.5,697.0V705M210.5,695.0V705M214.5,697.0V705M217.5,693.8V705M220.5,693.8V705M224.5,661.2V705M227.5,678.0V705M231.5,683.8V705M241.5,686.2V705M244.5,688.8V705M247.5,690.0V705M251.5,675.8V705M254.5,686.2V705M258.5,680.0V705M275.5,678.8V705M278.5,668.8V705M281.5,685.0V705M312.5,693.8V705M315.5,696.2V705M336.5,695.0V705M339.5,695.0V705M343.5,692.0V705M346.5,692.0V705M370.5,690.0V705M377.5,691.2V705M380.5,683.8V705M383.5,688.8V705M387.5,687.0V705M390.5,643.8V705M400.5,692.0V705M407.5,688.8V705M411.5,685.5V705M414.5,672.0V705M417.5,660.0V705M421.5,678.8V705M431.5,688.8V705M441.5,694.5V705M445.5,692.0V705M451.5,693.8V705M458.5,693.0V705M461.5,693.8V705M465.5,687.0V705M472.5,682.0V705M475.5,677.5V705M482.5,680.0V705M485.5,626.2V705M489.5,657.0V705M492.5,658.0V705M499.5,660.0V705M506.5,657.0V705M526.5,680.5V705M550.5,673.0V705M567.5,690.0V705M577.5,683.8V705M580.5,685.8V705M587.5,682.0V705M594.5,682.0V705M597.5,677.0V705M601.5,685.8V705M611.5,687.0V705M618.5,683.0V705M621.5,690.0V705M625.5,683.8V705M628.5,680.0V705M631.5,678.0V705M635.5,672.0V705M638.5,673.8V705M642.5,677.0V705M645.5,675.8V705M648.5,670.8V705M652.5,685.0V705M655.5,680.8V705M659.5,660.0V705M662.5,671.2V705M665.5,669.0V705M669.5,672.0V705" stroke="#f03535" stroke-width="1.2" fill="none"/>
<path d="M10.5,693.0V705M16.5,683.8V705M23.5,688.0V705M27.5,693.0V705M37.5,688.0V705M40.5,688.0V705M50.5,687.0V705M54.5,680.0V705M57.5,690.0V705M61.5,693.0V705M64.5,692.0V705M71.5,686.2V705M74.5,686.2V705M81.5,687.0V705M84.5,685.0V705M88.5,693.8V705M91.5,693.0V705M101.5,688.8V705M105.5,688.0V705M122.5,680.8V705M125.5,692.0V705M129.5,688.8V705M132.5,672.0V705M146.5,691.2V705M149.5,691.2V705M152.5,687.0V705M156.5,693.8V705M163.5,686.2V705M166.5,643.0V705M169.5,668.0V705M183.5,687.0V705M186.5,691.2V705M190.5,685.0V705M200.5,695.0V705M203.5,693.0V705M207.5,688.8V705M234.5,691.2V705M237.5,692.5V705M261.5,685.8V705M264.5,693.8V705M268.5,693.8V705M271.5,690.0V705M285.5,685.0V705M288.5,690.0V705M292.5,691.2V705M295.5,688.8V705M298.5,694.5V705M302.5,697.0V705M305.5,687.0V705M309.5,692.0V705M319.5,691.2V705M322.5,691.2V705M326.5,691.2V705M329.5,695.0V705M332.5,692.5V705M349.5,692.0V705M353.5,693.0V705M356.5,690.0V705M360.5,691.2V705M363.5,693.0V705M366.5,696.2V705M373.5,691.2V705M394.5,675.8V705M397.5,691.2V705M404.5,693.8V705M424.5,685.0V705M428.5,688.8V705M434.5,678.0V705M438.5,692.0V705M448.5,690.0V705M455.5,693.0V705M468.5,682.0V705M478.5,690.0V705M495.5,675.8V705M502.5,665.8V705M509.5,672.0V705M512.5,677.0V705M516.5,680.0V705M519.5,680.5V705M523.5,685.0V705M529.5,690.0V705M533.5,693.0V705M536.5,675.8V705M540.5,684.0V705M543.5,688.8V705M546.5,688.0V705M553.5,670.0V705M557.5,680.8V705M560.5,690.0V705M563.5,684.0V705M570.5,688.0V705M574.5,690.0V705M584.5,679.0V705M591.5,680.8V705M604.5,683.0V705M608.5,685.0V705M614.5,693.0V705M672.5,677.0V705M676.5,673.8V705M679.5,682.0V705M682.5,697.0V705" stroke="#2c9c1c" stroke-width="1.2" fill="none"/>
<rect x="5" y="610" width="20" height="15" fill="#4a8fec"/>
<text x="15" y="622" text-anchor="middle" font-family="Liberation Sans" font-size="12" fill="#fff">?</text>
<text x="27" y="620.5" font-family="Liberation Serif" font-size="12.5" fill="#333" textLength="29" lengthAdjust="spacingAndGlyphs">VOLFS</text>
<text x="71.47 75.94 81.94 87.94 93.94 99.94 107.47 111.94 117.94" y="621" font-family="Liberation Sans,sans-serif" font-size="11" fill="#f5f500" >:75322.00</text>
<path d="M704.85,617.85 L706.95,617.99 L706.95,621.01 L704.85,621.15 L704.45,622.11 L705.83,623.70 L703.70,625.83 L702.11,624.45 L701.15,624.85 L701.01,626.95 L697.99,626.95 L697.85,624.85 L696.89,624.45 L695.30,625.83 L693.17,623.70 L694.55,622.11 L694.15,621.15 L692.05,621.01 L692.05,617.99 L694.15,617.85 L694.55,616.89 L693.17,615.30 L695.30,613.17 L696.89,614.55 L697.85,614.15 L697.99,612.05 L701.01,612.05 L701.15,614.15 L702.11,614.55 L703.70,613.17 L705.83,615.30 L704.45,616.89 Z" fill="#f23a3a" shape-rendering="auto"/><circle cx="699.5" cy="619.5" r="3.1" fill="#fff" shape-rendering="auto"/>
<path d="M713,614l11,11M724,614l-11,11" stroke="#f23a3a" stroke-width="1.6" shape-rendering="auto"/>
<text x="731.94 737.94" y="631" font-family="Liberation Sans,sans-serif" font-size="11" fill="#222" >57</text><text x="744.00" y="631" font-family="Liberation Sans,Noto Sans CJK SC,sans-serif" font-size="12" fill="#222" >万</text>
<text x="731.94 737.94" y="658" font-family="Liberation Sans,sans-serif" font-size="11" fill="#222" >38</text><text x="744.00" y="658" font-family="Liberation Sans,Noto Sans CJK SC,sans-serif" font-size="12" fill="#222" >万</text>
<text x="731.94 737.94" y="685" font-family="Liberation Sans,sans-serif" font-size="11" fill="#222" >19</text><text x="744.00" y="685" font-family="Liberation Sans,Noto Sans CJK SC,sans-serif" font-size="12" fill="#222" >万</text>
<path d="M730,696V706H719Z" fill="#3d8af0"/>
<text x="5.94 11.94 17.94 23.94 31.47 35.94 41.94 49.47 53.94 59.94 67.17 85.17" y="719" font-family="Liberation Sans,sans-serif" font-size="11" fill="#333" >2025/01/21()</text><text x="72.00" y="719" font-family="Liberation Sans,Noto Sans CJK SC,sans-serif" font-size="12" fill="#333" >二</text>
<rect x="101" y="708" width="1" height="8" fill="#bbb"/>
<text x="101.94 107.94" y="719" font-family="Liberation Sans,sans-serif" font-size="11" fill="#333" >10</text>
<rect x="134" y="708" width="1" height="8" fill="#bbb"/>
<text x="134.94 140.94" y="719" font-family="Liberation Sans,sans-serif" font-size="11" fill="#333" >24</text>
<rect x="165" y="708" width="1" height="8" fill="#bbb"/>
<text x="165.94 171.94" y="719" font-family="Liberation Sans,sans-serif" font-size="11" fill="#333" >07</text>
<rect x="199" y="708" width="1" height="8" fill="#bbb"/>
<text x="199.94 205.94" y="719" font-family="Liberation Sans,sans-serif" font-size="11" fill="#333" >21</text>
<rect x="226" y="708" width="1" height="8" fill="#bbb"/>
<text x="226.94 232.94" y="719" font-family="Liberation Sans,sans-serif" font-size="11" fill="#333" >06</text>
<rect x="257" y="708" width="1" height="8" fill="#bbb"/>
<text x="257.94 263.94" y="719" font-family="Liberation Sans,sans-serif" font-size="11" fill="#333" >19</text>
<rect x="291" y="708" width="1" height="8" fill="#bbb"/>
<text x="291.94 297.94" y="719" font-family="Liberation Sans,sans-serif" font-size="11" fill="#333" >03</text>
<rect x="321" y="708" width="1" height="8" fill="#bbb"/>
<text x="321.94 327.94" y="719" font-family="Liberation Sans,sans-serif" font-size="11" fill="#333" >16</text>
<rect x="355" y="708" width="1" height="8" fill="#bbb"/>
<text x="355.94 361.94" y="719" font-family="Liberation Sans,sans-serif" font-size="11" fill="#333" >30</text>
<rect x="389" y="708" width="1" height="8" fill="#bbb"/>
<text x="389.94 395.94" y="719" font-family="Liberation Sans,sans-serif" font-size="11" fill="#333" >14</text>
<rect x="424" y="708" width="1" height="8" fill="#bbb"/>
<text x="424.94 430.94" y="719" font-family="Liberation Sans,sans-serif" font-size="11" fill="#333" >28</text>
<rect x="458" y="708" width="1" height="8" fill="#bbb"/>
<text x="458.94 464.94" y="719" font-family="Liberation Sans,sans-serif" font-size="11" fill="#333" >11</text>
<rect x="492" y="708" width="1" height="8" fill="#bbb"/>
<text x="492.94 498.94" y="719" font-family="Liberation Sans,sans-serif" font-size="11" fill="#333" >25</text>
<rect x="525" y="708" width="1" height="8" fill="#bbb"/>
<text x="525.94 531.94" y="719" font-family="Liberation Sans,sans-serif" font-size="11" fill="#333" >08</text>
<rect x="559" y="708" width="1" height="8" fill="#bbb"/>
<text x="559.94 565.94" y="719" font-family="Liberation Sans,sans-serif" font-size="11" fill="#333" >22</text>
<rect x="583" y="708" width="1" height="8" fill="#bbb"/>
<text x="583.94 589.94" y="719" font-family="Liberation Sans,sans-serif" font-size="11" fill="#333" >09</text>
<rect x="606" y="708" width="1" height="8" fill="#bbb"/>
<text x="606.94 612.94" y="719" font-family="Liberation Sans,sans-serif" font-size="11" fill="#333" >20</text>
<rect x="640" y="708" width="1" height="8" fill="#bbb"/>
<text x="640.94 646.94" y="719" font-family="Liberation Sans,sans-serif" font-size="11" fill="#333" >03</text>
<rect x="675" y="708" width="1" height="8" fill="#bbb"/>
<text x="675.94 681.94" y="719" font-family="Liberation Sans,sans-serif" font-size="11" fill="#333" >17</text>
<rect x="3" y="726" width="396" height="39" fill="#dde9fa"/>
<rect x="399" y="726" width="396" height="39" fill="#d2d7df"/>
<clipPath id="cl3"><rect x="3" y="726" width="396" height="39"/></clipPath>
<clipPath id="cr3"><rect x="399" y="726" width="396" height="39"/></clipPath>
<path d="M4.0,743.5 L6.0,743.5 L8.0,742.7 L10.0,740.7 L12.0,739.9 L14.0,740.2 L16.0,740.7 L18.0,741.3 L20.0,741.7 L22.0,740.9 L24.0,742.2 L26.0,741.9 L28.0,741.6 L30.0,741.7 L32.0,741.5 L34.0,741.5 L36.0,740.2 L38.0,740.4 L40.0,739.2 L42.0,738.1 L44.0,738.4 L46.0,738.7 L48.0,737.3 L50.0,738.6 L52.0,738.9 L54.0,740.3 L56.0,740.8 L58.0,739.6 L60.0,741.3 L62.0,741.3 L64.0,740.2 L66.0,740.8 L68.0,739.6 L70.0,741.1 L72.0,740.4 L74.0,740.7 L76.0,740.4 L78.0,740.4 L80.0,740.8 L82.0,740.6 L84.0,739.7 L86.0,741.3 L88.0,740.0 L90.0,740.7 L92.0,742.6 L94.0,741.0 L96.0,741.4 L98.0,741.7 L100.0,744.0 L102.0,743.0 L104.0,743.5 L106.0,746.5 L108.0,745.5 L110.0,748.2 L112.0,748.7 L114.0,749.9 L116.0,750.6 L118.0,749.4 L120.0,749.8 L122.0,747.6 L124.0,749.3 L126.0,748.4 L128.0,748.8 L130.0,747.0 L132.0,748.4 L134.0,748.7 L136.0,746.3 L138.0,746.7 L140.0,747.2 L142.0,748.4 L144.0,747.3 L146.0,747.7 L148.0,748.3 L150.0,749.8 L152.0,750.2 L154.0,749.2 L156.0,749.2 L158.0,749.2 L160.0,749.1 L162.0,749.3 L164.0,748.4 L166.0,749.5 L168.0,750.7 L170.0,749.3 L172.0,750.1 L174.0,748.6 L176.0,750.2 L178.0,750.9 L180.0,751.1 L182.0,751.2 L184.0,751.6 L186.0,752.4 L188.0,753.6 L190.0,752.1 L192.0,753.0 L194.0,755.7 L196.0,757.2 L198.0,757.2 L200.0,758.1 L202.0,759.8 L204.0,758.3 L206.0,757.9 L208.0,757.2 L210.0,757.6 L212.0,756.4 L214.0,755.6 L216.0,756.7 L218.0,757.9 L220.0,756.6 L222.0,758.2 L224.0,757.9 L226.0,759.5 L228.0,759.3 L230.0,758.9 L232.0,758.9 L234.0,758.5 L236.0,759.7 L238.0,759.6 L240.0,759.1 L242.0,756.8 L244.0,753.9 L246.0,752.3 L248.0,747.1 L250.0,743.6 L252.0,738.7 L254.0,742.0 L256.0,744.7 L258.0,748.0 L260.0,748.6 L262.0,748.6 L264.0,749.0 L266.0,750.3 L268.0,751.3 L270.0,750.7 L272.0,750.9 L274.0,750.9 L276.0,748.9 L278.0,747.6 L280.0,747.0 L282.0,747.6 L284.0,746.8 L286.0,747.1 L288.0,746.6 L290.0,744.8 L292.0,744.5 L294.0,744.5 L296.0,744.1 L298.0,745.2 L300.0,745.4 L302.0,745.7 L304.0,744.1 L306.0,745.8 L308.0,744.5 L310.0,744.9 L312.0,745.8 L314.0,744.3 L316.0,744.4 L318.0,746.4 L320.0,745.2 L322.0,745.4 L324.0,746.1 L326.0,746.4 L328.0,744.5 L330.0,745.2 L332.0,745.3 L334.0,745.3 L336.0,744.4 L338.0,745.2 L340.0,746.1 L342.0,744.4 L344.0,744.7 L346.0,743.6 L348.0,744.2 L350.0,745.4 L352.0,744.2 L354.0,746.4 L356.0,746.7 L358.0,744.8 L360.0,747.1 L362.0,746.0 L364.0,747.3 L366.0,747.6 L368.0,746.7 L370.0,748.1 L372.0,748.3 L374.0,749.8 L376.0,749.7 L378.0,752.3 L380.0,754.2 L382.0,753.2 L384.0,752.7 L386.0,751.4 L388.0,752.2 L390.0,751.6 L392.0,752.4 L394.0,752.1 L396.0,751.6 L398.0,750.4 L400.0,751.4 L402.0,751.6 L404.0,750.7 L406.0,752.8 L408.0,752.5 L410.0,751.4 L412.0,753.7 L414.0,751.9 L416.0,752.6 L418.0,753.8 L420.0,753.7 L422.0,753.7 L424.0,754.1 L426.0,753.8 L428.0,753.6 L430.0,753.4 L432.0,753.2 L434.0,755.1 L436.0,755.3 L438.0,755.0 L440.0,755.6 L442.0,754.6 L444.0,754.3 L446.0,754.6 L448.0,755.8 L450.0,753.6 L452.0,754.8 L454.0,754.1 L456.0,755.4 L458.0,754.3 L460.0,754.2 L462.0,754.3 L464.0,754.6 L466.0,755.1 L468.0,753.9 L470.0,755.1 L472.0,753.0 L474.0,753.3 L476.0,752.7 L478.0,752.6 L480.0,754.2 L482.0,754.0 L484.0,752.4 L486.0,752.3 L488.0,753.6 L490.0,757.6 L492.0,761.0 L494.0,760.8 L496.0,759.4 L498.0,757.1 L500.0,756.7 L502.0,756.1 L504.0,756.9 L506.0,756.9 L508.0,755.9 L510.0,756.0 L512.0,757.3 L514.0,755.2 L516.0,757.1 L518.0,757.3 L520.0,757.4 L522.0,755.8 L524.0,756.2 L526.0,756.0 L528.0,755.6 L530.0,756.0 L532.0,754.7 L534.0,753.2 L536.0,754.2 L538.0,752.7 L540.0,752.5 L542.0,752.3 L544.0,750.0 L546.0,751.6 L548.0,751.0 L550.0,750.2 L552.0,750.0 L554.0,749.5 L556.0,748.6 L558.0,749.1 L560.0,747.5 L562.0,748.5 L564.0,748.5 L566.0,748.0 L568.0,748.5 L570.0,749.7 L572.0,749.7 L574.0,748.0 L576.0,749.9 L578.0,749.6 L580.0,748.3 L582.0,749.3 L584.0,749.2 L586.0,748.9 L588.0,750.2 L590.0,751.3 L592.0,749.8 L594.0,751.3 L596.0,750.9 L598.0,749.6 L600.0,751.5 L602.0,750.9 L604.0,751.9 L606.0,751.4 L608.0,751.5 L610.0,750.6 L612.0,751.7 L614.0,751.9 L616.0,751.6 L618.0,750.4 L620.0,751.1 L622.0,750.2 L624.0,749.1 L626.0,748.9 L628.0,748.8 L630.0,749.0 L632.0,748.8 L634.0,749.6 L636.0,749.9 L638.0,749.3 L640.0,748.8 L642.0,749.2 L644.0,748.1 L646.0,748.3 L648.0,748.9 L650.0,747.7 L652.0,747.2 L654.0,749.0 L656.0,748.6 L658.0,747.7 L660.0,747.7 L662.0,748.1 L664.0,748.3 L666.0,747.3 L668.0,746.7 L670.0,747.2 L672.0,748.0 L674.0,745.7 L676.0,745.8 L678.0,744.4 L680.0,743.7 L682.0,743.6 L684.0,744.2 L686.0,743.6 L688.0,743.3 L690.0,743.5 L692.0,744.0 L694.0,745.2 L696.0,744.4 L698.0,744.7 L700.0,746.1 L702.0,746.4 L704.0,747.5 L706.0,746.1 L708.0,747.4 L710.0,747.7 L712.0,746.9 L714.0,749.5 L716.0,747.7 L718.0,747.5 L720.0,748.7 L722.0,748.0 L724.0,749.4 L726.0,748.8 L728.0,748.4 L730.0,748.3 L732.0,749.9 L734.0,748.6 L736.0,749.8 L738.0,748.8 L740.0,749.9 L742.0,748.1 L744.0,747.8 L746.0,747.7 L748.0,749.0 L750.0,748.3 L752.0,747.4 L754.0,746.5 L756.0,747.9 L758.0,748.4 L760.0,747.2 L762.0,745.5 L764.0,745.4 L766.0,745.3 L768.0,745.3 L770.0,744.8 L772.0,744.0 L774.0,744.8 L776.0,744.6 L778.0,742.0 L780.0,743.2 L782.0,741.1 L784.0,742.7 L786.0,744.2 L788.0,745.5 L790.0,744.4 L792.0,746.3 L794.0,748.3 L794.0,765 L4.0,765 Z" fill="#c7d2e8" clip-path="url(#cl3)"/>
<path d="M4.0,743.5 L6.0,743.5 L8.0,742.7 L10.0,740.7 L12.0,739.9 L14.0,740.2 L16.0,740.7 L18.0,741.3 L20.0,741.7 L22.0,740.9 L24.0,742.2 L26.0,741.9 L28.0,741.6 L30.0,741.7 L32.0,741.5 L34.0,741.5 L36.0,740.2 L38.0,740.4 L40.0,739.2 L42.0,738.1 L44.0,738.4 L46.0,738.7 L48.0,737.3 L50.0,738.6 L52.0,738.9 L54.0,740.3 L56.0,740.8 L58.0,739.6 L60.0,741.3 L62.0,741.3 L64.0,740.2 L66.0,740.8 L68.0,739.6 L70.0,741.1 L72.0,740.4 L74.0,740.7 L76.0,740.4 L78.0,740.4 L80.0,740.8 L82.0,740.6 L84.0,739.7 L86.0,741.3 L88.0,740.0 L90.0,740.7 L92.0,742.6 L94.0,741.0 L96.0,741.4 L98.0,741.7 L100.0,744.0 L102.0,743.0 L104.0,743.5 L106.0,746.5 L108.0,745.5 L110.0,748.2 L112.0,748.7 L114.0,749.9 L116.0,750.6 L118.0,749.4 L120.0,749.8 L122.0,747.6 L124.0,749.3 L126.0,748.4 L128.0,748.8 L130.0,747.0 L132.0,748.4 L134.0,748.7 L136.0,746.3 L138.0,746.7 L140.0,747.2 L142.0,748.4 L144.0,747.3 L146.0,747.7 L148.0,748.3 L150.0,749.8 L152.0,750.2 L154.0,749.2 L156.0,749.2 L158.0,749.2 L160.0,749.1 L162.0,749.3 L164.0,748.4 L166.0,749.5 L168.0,750.7 L170.0,749.3 L172.0,750.1 L174.0,748.6 L176.0,750.2 L178.0,750.9 L180.0,751.1 L182.0,751.2 L184.0,751.6 L186.0,752.4 L188.0,753.6 L190.0,752.1 L192.0,753.0 L194.0,755.7 L196.0,757.2 L198.0,757.2 L200.0,758.1 L202.0,759.8 L204.0,758.3 L206.0,757.9 L208.0,757.2 L210.0,757.6 L212.0,756.4 L214.0,755.6 L216.0,756.7 L218.0,757.9 L220.0,756.6 L222.0,758.2 L224.0,757.9 L226.0,759.5 L228.0,759.3 L230.0,758.9 L232.0,758.9 L234.0,758.5 L236.0,759.7 L238.0,759.6 L240.0,759.1 L242.0,756.8 L244.0,753.9 L246.0,752.3 L248.0,747.1 L250.0,743.6 L252.0,738.7 L254.0,742.0 L256.0,744.7 L258.0,748.0 L260.0,748.6 L262.0,748.6 L264.0,749.0 L266.0,750.3 L268.0,751.3 L270.0,750.7 L272.0,750.9 L274.0,750.9 L276.0,748.9 L278.0,747.6 L280.0,747.0 L282.0,747.6 L284.0,746.8 L286.0,747.1 L288.0,746.6 L290.0,744.8 L292.0,744.5 L294.0,744.5 L296.0,744.1 L298.0,745.2 L300.0,745.4 L302.0,745.7 L304.0,744.1 L306.0,745.8 L308.0,744.5 L310.0,744.9 L312.0,745.8 L314.0,744.3 L316.0,744.4 L318.0,746.4 L320.0,745.2 L322.0,745.4 L324.0,746.1 L326.0,746.4 L328.0,744.5 L330.0,745.2 L332.0,745.3 L334.0,745.3 L336.0,744.4 L338.0,745.2 L340.0,746.1 L342.0,744.4 L344.0,744.7 L346.0,743.6 L348.0,744.2 L350.0,745.4 L352.0,744.2 L354.0,746.4 L356.0,746.7 L358.0,744.8 L360.0,747.1 L362.0,746.0 L364.0,747.3 L366.0,747.6 L368.0,746.7 L370.0,748.1 L372.0,748.3 L374.0,749.8 L376.0,749.7 L378.0,752.3 L380.0,754.2 L382.0,753.2 L384.0,752.7 L386.0,751.4 L388.0,752.2 L390.0,751.6 L392.0,752.4 L394.0,752.1 L396.0,751.6 L398.0,750.4 L400.0,751.4 L402.0,751.6 L404.0,750.7 L406.0,752.8 L408.0,752.5 L410.0,751.4 L412.0,753.7 L414.0,751.9 L416.0,752.6 L418.0,753.8 L420.0,753.7 L422.0,753.7 L424.0,754.1 L426.0,753.8 L428.0,753.6 L430.0,753.4 L432.0,753.2 L434.0,755.1 L436.0,755.3 L438.0,755.0 L440.0,755.6 L442.0,754.6 L444.0,754.3 L446.0,754.6 L448.0,755.8 L450.0,753.6 L452.0,754.8 L454.0,754.1 L456.0,755.4 L458.0,754.3 L460.0,754.2 L462.0,754.3 L464.0,754.6 L466.0,755.1 L468.0,753.9 L470.0,755.1 L472.0,753.0 L474.0,753.3 L476.0,752.7 L478.0,752.6 L480.0,754.2 L482.0,754.0 L484.0,752.4 L486.0,752.3 L488.0,753.6 L490.0,757.6 L492.0,761.0 L494.0,760.8 L496.0,759.4 L498.0,757.1 L500.0,756.7 L502.0,756.1 L504.0,756.9 L506.0,756.9 L508.0,755.9 L510.0,756.0 L512.0,757.3 L514.0,755.2 L516.0,757.1 L518.0,757.3 L520.0,757.4 L522.0,755.8 L524.0,756.2 L526.0,756.0 L528.0,755.6 L530.0,756.0 L532.0,754.7 L534.0,753.2 L536.0,754.2 L538.0,752.7 L540.0,752.5 L542.0,752.3 L544.0,750.0 L546.0,751.6 L548.0,751.0 L550.0,750.2 L552.0,750.0 L554.0,749.5 L556.0,748.6 L558.0,749.1 L560.0,747.5 L562.0,748.5 L564.0,748.5 L566.0,748.0 L568.0,748.5 L570.0,749.7 L572.0,749.7 L574.0,748.0 L576.0,749.9 L578.0,749.6 L580.0,748.3 L582.0,749.3 L584.0,749.2 L586.0,748.9 L588.0,750.2 L590.0,751.3 L592.0,749.8 L594.0,751.3 L596.0,750.9 L598.0,749.6 L600.0,751.5 L602.0,750.9 L604.0,751.9 L606.0,751.4 L608.0,751.5 L610.0,750.6 L612.0,751.7 L614.0,751.9 L616.0,751.6 L618.0,750.4 L620.0,751.1 L622.0,750.2 L624.0,749.1 L626.0,748.9 L628.0,748.8 L630.0,749.0 L632.0,748.8 L634.0,749.6 L636.0,749.9 L638.0,749.3 L640.0,748.8 L642.0,749.2 L644.0,748.1 L646.0,748.3 L648.0,748.9 L650.0,747.7 L652.0,747.2 L654.0,749.0 L656.0,748.6 L658.0,747.7 L660.0,747.7 L662.0,748.1 L664.0,748.3 L666.0,747.3 L668.0,746.7 L670.0,747.2 L672.0,748.0 L674.0,745.7 L676.0,745.8 L678.0,744.4 L680.0,743.7 L682.0,743.6 L684.0,744.2 L686.0,743.6 L688.0,743.3 L690.0,743.5 L692.0,744.0 L694.0,745.2 L696.0,744.4 L698.0,744.7 L700.0,746.1 L702.0,746.4 L704.0,747.5 L706.0,746.1 L708.0,747.4 L710.0,747.7 L712.0,746.9 L714.0,749.5 L716.0,747.7 L718.0,747.5 L720.0,748.7 L722.0,748.0 L724.0,749.4 L726.0,748.8 L728.0,748.4 L730.0,748.3 L732.0,749.9 L734.0,748.6 L736.0,749.8 L738.0,748.8 L740.0,749.9 L742.0,748.1 L744.0,747.8 L746.0,747.7 L748.0,749.0 L750.0,748.3 L752.0,747.4 L754.0,746.5 L756.0,747.9 L758.0,748.4 L760.0,747.2 L762.0,745.5 L764.0,745.4 L766.0,745.3 L768.0,745.3 L770.0,744.8 L772.0,744.0 L774.0,744.8 L776.0,744.6 L778.0,742.0 L780.0,743.2 L782.0,741.1 L784.0,742.7 L786.0,744.2 L788.0,745.5 L790.0,744.4 L792.0,746.3 L794.0,748.3 L794.0,765 L4.0,765 Z" fill="#c4c9d4" clip-path="url(#cr3)"/>
<path d="M4.0,743.5 L6.0,743.5 L8.0,742.7 L10.0,740.7 L12.0,739.9 L14.0,740.2 L16.0,740.7 L18.0,741.3 L20.0,741.7 L22.0,740.9 L24.0,742.2 L26.0,741.9 L28.0,741.6 L30.0,741.7 L32.0,741.5 L34.0,741.5 L36.0,740.2 L38.0,740.4 L40.0,739.2 L42.0,738.1 L44.0,738.4 L46.0,738.7 L48.0,737.3 L50.0,738.6 L52.0,738.9 L54.0,740.3 L56.0,740.8 L58.0,739.6 L60.0,741.3 L62.0,741.3 L64.0,740.2 L66.0,740.8 L68.0,739.6 L70.0,741.1 L72.0,740.4 L74.0,740.7 L76.0,740.4 L78.0,740.4 L80.0,740.8 L82.0,740.6 L84.0,739.7 L86.0,741.3 L88.0,740.0 L90.0,740.7 L92.0,742.6 L94.0,741.0 L96.0,741.4 L98.0,741.7 L100.0,744.0 L102.0,743.0 L104.0,743.5 L106.0,746.5 L108.0,745.5 L110.0,748.2 L112.0,748.7 L114.0,749.9 L116.0,750.6 L118.0,749.4 L120.0,749.8 L122.0,747.6 L124.0,749.3 L126.0,748.4 L128.0,748.8 L130.0,747.0 L132.0,748.4 L134.0,748.7 L136.0,746.3 L138.0,746.7 L140.0,747.2 L142.0,748.4 L144.0,747.3 L146.0,747.7 L148.0,748.3 L150.0,749.8 L152.0,750.2 L154.0,749.2 L156.0,749.2 L158.0,749.2 L160.0,749.1 L162.0,749.3 L164.0,748.4 L166.0,749.5 L168.0,750.7 L170.0,749.3 L172.0,750.1 L174.0,748.6 L176.0,750.2 L178.0,750.9 L180.0,751.1 L182.0,751.2 L184.0,751.6 L186.0,752.4 L188.0,753.6 L190.0,752.1 L192.0,753.0 L194.0,755.7 L196.0,757.2 L198.0,757.2 L200.0,758.1 L202.0,759.8 L204.0,758.3 L206.0,757.9 L208.0,757.2 L210.0,757.6 L212.0,756.4 L214.0,755.6 L216.0,756.7 L218.0,757.9 L220.0,756.6 L222.0,758.2 L224.0,757.9 L226.0,759.5 L228.0,759.3 L230.0,758.9 L232.0,758.9 L234.0,758.5 L236.0,759.7 L238.0,759.6 L240.0,759.1 L242.0,756.8 L244.0,753.9 L246.0,752.3 L248.0,747.1 L250.0,743.6 L252.0,738.7 L254.0,742.0 L256.0,744.7 L258.0,748.0 L260.0,748.6 L262.0,748.6 L264.0,749.0 L266.0,750.3 L268.0,751.3 L270.0,750.7 L272.0,750.9 L274.0,750.9 L276.0,748.9 L278.0,747.6 L280.0,747.0 L282.0,747.6 L284.0,746.8 L286.0,747.1 L288.0,746.6 L290.0,744.8 L292.0,744.5 L294.0,744.5 L296.0,744.1 L298.0,745.2 L300.0,745.4 L302.0,745.7 L304.0,744.1 L306.0,745.8 L308.0,744.5 L310.0,744.9 L312.0,745.8 L314.0,744.3 L316.0,744.4 L318.0,746.4 L320.0,745.2 L322.0,745.4 L324.0,746.1 L326.0,746.4 L328.0,744.5 L330.0,745.2 L332.0,745.3 L334.0,745.3 L336.0,744.4 L338.0,745.2 L340.0,746.1 L342.0,744.4 L344.0,744.7 L346.0,743.6 L348.0,744.2 L350.0,745.4 L352.0,744.2 L354.0,746.4 L356.0,746.7 L358.0,744.8 L360.0,747.1 L362.0,746.0 L364.0,747.3 L366.0,747.6 L368.0,746.7 L370.0,748.1 L372.0,748.3 L374.0,749.8 L376.0,749.7 L378.0,752.3 L380.0,754.2 L382.0,753.2 L384.0,752.7 L386.0,751.4 L388.0,752.2 L390.0,751.6 L392.0,752.4 L394.0,752.1 L396.0,751.6 L398.0,750.4 L400.0,751.4 L402.0,751.6 L404.0,750.7 L406.0,752.8 L408.0,752.5 L410.0,751.4 L412.0,753.7 L414.0,751.9 L416.0,752.6 L418.0,753.8 L420.0,753.7 L422.0,753.7 L424.0,754.1 L426.0,753.8 L428.0,753.6 L430.0,753.4 L432.0,753.2 L434.0,755.1 L436.0,755.3 L438.0,755.0 L440.0,755.6 L442.0,754.6 L444.0,754.3 L446.0,754.6 L448.0,755.8 L450.0,753.6 L452.0,754.8 L454.0,754.1 L456.0,755.4 L458.0,754.3 L460.0,754.2 L462.0,754.3 L464.0,754.6 L466.0,755.1 L468.0,753.9 L470.0,755.1 L472.0,753.0 L474.0,753.3 L476.0,752.7 L478.0,752.6 L480.0,754.2 L482.0,754.0 L484.0,752.4 L486.0,752.3 L488.0,753.6 L490.0,757.6 L492.0,761.0 L494.0,760.8 L496.0,759.4 L498.0,757.1 L500.0,756.7 L502.0,756.1 L504.0,756.9 L506.0,756.9 L508.0,755.9 L510.0,756.0 L512.0,757.3 L514.0,755.2 L516.0,757.1 L518.0,757.3 L520.0,757.4 L522.0,755.8 L524.0,756.2 L526.0,756.0 L528.0,755.6 L530.0,756.0 L532.0,754.7 L534.0,753.2 L536.0,754.2 L538.0,752.7 L540.0,752.5 L542.0,752.3 L544.0,750.0 L546.0,751.6 L548.0,751.0 L550.0,750.2 L552.0,750.0 L554.0,749.5 L556.0,748.6 L558.0,749.1 L560.0,747.5 L562.0,748.5 L564.0,748.5 L566.0,748.0 L568.0,748.5 L570.0,749.7 L572.0,749.7 L574.0,748.0 L576.0,749.9 L578.0,749.6 L580.0,748.3 L582.0,749.3 L584.0,749.2 L586.0,748.9 L588.0,750.2 L590.0,751.3 L592.0,749.8 L594.0,751.3 L596.0,750.9 L598.0,749.6 L600.0,751.5 L602.0,750.9 L604.0,751.9 L606.0,751.4 L608.0,751.5 L610.0,750.6 L612.0,751.7 L614.0,751.9 L616.0,751.6 L618.0,750.4 L620.0,751.1 L622.0,750.2 L624.0,749.1 L626.0,748.9 L628.0,748.8 L630.0,749.0 L632.0,748.8 L634.0,749.6 L636.0,749.9 L638.0,749.3 L640.0,748.8 L642.0,749.2 L644.0,748.1 L646.0,748.3 L648.0,748.9 L650.0,747.7 L652.0,747.2 L654.0,749.0 L656.0,748.6 L658.0,747.7 L660.0,747.7 L662.0,748.1 L664.0,748.3 L666.0,747.3 L668.0,746.7 L670.0,747.2 L672.0,748.0 L674.0,745.7 L676.0,745.8 L678.0,744.4 L680.0,743.7 L682.0,743.6 L684.0,744.2 L686.0,743.6 L688.0,743.3 L690.0,743.5 L692.0,744.0 L694.0,745.2 L696.0,744.4 L698.0,744.7 L700.0,746.1 L702.0,746.4 L704.0,747.5 L706.0,746.1 L708.0,747.4 L710.0,747.7 L712.0,746.9 L714.0,749.5 L716.0,747.7 L718.0,747.5 L720.0,748.7 L722.0,748.0 L724.0,749.4 L726.0,748.8 L728.0,748.4 L730.0,748.3 L732.0,749.9 L734.0,748.6 L736.0,749.8 L738.0,748.8 L740.0,749.9 L742.0,748.1 L744.0,747.8 L746.0,747.7 L748.0,749.0 L750.0,748.3 L752.0,747.4 L754.0,746.5 L756.0,747.9 L758.0,748.4 L760.0,747.2 L762.0,745.5 L764.0,745.4 L766.0,745.3 L768.0,745.3 L770.0,744.8 L772.0,744.0 L774.0,744.8 L776.0,744.6 L778.0,742.0 L780.0,743.2 L782.0,741.1 L784.0,742.7 L786.0,744.2 L788.0,745.5 L790.0,744.4 L792.0,746.3 L794.0,748.3" fill="none" stroke="#6d7b9a" stroke-width="1" clip-path="url(#cl3)"/>
<path d="M4.0,743.5 L6.0,743.5 L8.0,742.7 L10.0,740.7 L12.0,739.9 L14.0,740.2 L16.0,740.7 L18.0,741.3 L20.0,741.7 L22.0,740.9 L24.0,742.2 L26.0,741.9 L28.0,741.6 L30.0,741.7 L32.0,741.5 L34.0,741.5 L36.0,740.2 L38.0,740.4 L40.0,739.2 L42.0,738.1 L44.0,738.4 L46.0,738.7 L48.0,737.3 L50.0,738.6 L52.0,738.9 L54.0,740.3 L56.0,740.8 L58.0,739.6 L60.0,741.3 L62.0,741.3 L64.0,740.2 L66.0,740.8 L68.0,739.6 L70.0,741.1 L72.0,740.4 L74.0,740.7 L76.0,740.4 L78.0,740.4 L80.0,740.8 L82.0,740.6 L84.0,739.7 L86.0,741.3 L88.0,740.0 L90.0,740.7 L92.0,742.6 L94.0,741.0 L96.0,741.4 L98.0,741.7 L100.0,744.0 L102.0,743.0 L104.0,743.5 L106.0,746.5 L108.0,745.5 L110.0,748.2 L112.0,748.7 L114.0,749.9 L116.0,750.6 L118.0,749.4 L120.0,749.8 L122.0,747.6 L124.0,749.3 L126.0,748.4 L128.0,748.8 L130.0,747.0 L132.0,748.4 L134.0,748.7 L136.0,746.3 L138.0,746.7 L140.0,747.2 L142.0,748.4 L144.0,747.3 L146.0,747.7 L148.0,748.3 L150.0,749.8 L152.0,750.2 L154.0,749.2 L156.0,749.2 L158.0,749.2 L160.0,749.1 L162.0,749.3 L164.0,748.4 L166.0,749.5 L168.0,750.7 L170.0,749.3 L172.0,750.1 L174.0,748.6 L176.0,750.2 L178.0,750.9 L180.0,751.1 L182.0,751.2 L184.0,751.6 L186.0,752.4 L188.0,753.6 L190.0,752.1 L192.0,753.0 L194.0,755.7 L196.0,757.2 L198.0,757.2 L200.0,758.1 L202.0,759.8 L204.0,758.3 L206.0,757.9 L208.0,757.2 L210.0,757.6 L212.0,756.4 L214.0,755.6 L216.0,756.7 L218.0,757.9 L220.0,756.6 L222.0,758.2 L224.0,757.9 L226.0,759.5 L228.0,759.3 L230.0,758.9 L232.0,758.9 L234.0,758.5 L236.0,759.7 L238.0,759.6 L240.0,759.1 L242.0,756.8 L244.0,753.9 L246.0,752.3 L248.0,747.1 L250.0,743.6 L252.0,738.7 L254.0,742.0 L256.0,744.7 L258.0,748.0 L260.0,748.6 L262.0,748.6 L264.0,749.0 L266.0,750.3 L268.0,751.3 L270.0,750.7 L272.0,750.9 L274.0,750.9 L276.0,748.9 L278.0,747.6 L280.0,747.0 L282.0,747.6 L284.0,746.8 L286.0,747.1 L288.0,746.6 L290.0,744.8 L292.0,744.5 L294.0,744.5 L296.0,744.1 L298.0,745.2 L300.0,745.4 L302.0,745.7 L304.0,744.1 L306.0,745.8 L308.0,744.5 L310.0,744.9 L312.0,745.8 L314.0,744.3 L316.0,744.4 L318.0,746.4 L320.0,745.2 L322.0,745.4 L324.0,746.1 L326.0,746.4 L328.0,744.5 L330.0,745.2 L332.0,745.3 L334.0,745.3 L336.0,744.4 L338.0,745.2 L340.0,746.1 L342.0,744.4 L344.0,744.7 L346.0,743.6 L348.0,744.2 L350.0,745.4 L352.0,744.2 L354.0,746.4 L356.0,746.7 L358.0,744.8 L360.0,747.1 L362.0,746.0 L364.0,747.3 L366.0,747.6 L368.0,746.7 L370.0,748.1 L372.0,748.3 L374.0,749.8 L376.0,749.7 L378.0,752.3 L380.0,754.2 L382.0,753.2 L384.0,752.7 L386.0,751.4 L388.0,752.2 L390.0,751.6 L392.0,752.4 L394.0,752.1 L396.0,751.6 L398.0,750.4 L400.0,751.4 L402.0,751.6 L404.0,750.7 L406.0,752.8 L408.0,752.5 L410.0,751.4 L412.0,753.7 L414.0,751.9 L416.0,752.6 L418.0,753.8 L420.0,753.7 L422.0,753.7 L424.0,754.1 L426.0,753.8 L428.0,753.6 L430.0,753.4 L432.0,753.2 L434.0,755.1 L436.0,755.3 L438.0,755.0 L440.0,755.6 L442.0,754.6 L444.0,754.3 L446.0,754.6 L448.0,755.8 L450.0,753.6 L452.0,754.8 L454.0,754.1 L456.0,755.4 L458.0,754.3 L460.0,754.2 L462.0,754.3 L464.0,754.6 L466.0,755.1 L468.0,753.9 L470.0,755.1 L472.0,753.0 L474.0,753.3 L476.0,752.7 L478.0,752.6 L480.0,754.2 L482.0,754.0 L484.0,752.4 L486.0,752.3 L488.0,753.6 L490.0,757.6 L492.0,761.0 L494.0,760.8 L496.0,759.4 L498.0,757.1 L500.0,756.7 L502.0,756.1 L504.0,756.9 L506.0,756.9 L508.0,755.9 L510.0,756.0 L512.0,757.3 L514.0,755.2 L516.0,757.1 L518.0,757.3 L520.0,757.4 L522.0,755.8 L524.0,756.2 L526.0,756.0 L528.0,755.6 L530.0,756.0 L532.0,754.7 L534.0,753.2 L536.0,754.2 L538.0,752.7 L540.0,752.5 L542.0,752.3 L544.0,750.0 L546.0,751.6 L548.0,751.0 L550.0,750.2 L552.0,750.0 L554.0,749.5 L556.0,748.6 L558.0,749.1 L560.0,747.5 L562.0,748.5 L564.0,748.5 L566.0,748.0 L568.0,748.5 L570.0,749.7 L572.0,749.7 L574.0,748.0 L576.0,749.9 L578.0,749.6 L580.0,748.3 L582.0,749.3 L584.0,749.2 L586.0,748.9 L588.0,750.2 L590.0,751.3 L592.0,749.8 L594.0,751.3 L596.0,750.9 L598.0,749.6 L600.0,751.5 L602.0,750.9 L604.0,751.9 L606.0,751.4 L608.0,751.5 L610.0,750.6 L612.0,751.7 L614.0,751.9 L616.0,751.6 L618.0,750.4 L620.0,751.1 L622.0,750.2 L624.0,749.1 L626.0,748.9 L628.0,748.8 L630.0,749.0 L632.0,748.8 L634.0,749.6 L636.0,749.9 L638.0,749.3 L640.0,748.8 L642.0,749.2 L644.0,748.1 L646.0,748.3 L648.0,748.9 L650.0,747.7 L652.0,747.2 L654.0,749.0 L656.0,748.6 L658.0,747.7 L660.0,747.7 L662.0,748.1 L664.0,748.3 L666.0,747.3 L668.0,746.7 L670.0,747.2 L672.0,748.0 L674.0,745.7 L676.0,745.8 L678.0,744.4 L680.0,743.7 L682.0,743.6 L684.0,744.2 L686.0,743.6 L688.0,743.3 L690.0,743.5 L692.0,744.0 L694.0,745.2 L696.0,744.4 L698.0,744.7 L700.0,746.1 L702.0,746.4 L704.0,747.5 L706.0,746.1 L708.0,747.4 L710.0,747.7 L712.0,746.9 L714.0,749.5 L716.0,747.7 L718.0,747.5 L720.0,748.7 L722.0,748.0 L724.0,749.4 L726.0,748.8 L728.0,748.4 L730.0,748.3 L732.0,749.9 L734.0,748.6 L736.0,749.8 L738.0,748.8 L740.0,749.9 L742.0,748.1 L744.0,747.8 L746.0,747.7 L748.0,749.0 L750.0,748.3 L752.0,747.4 L754.0,746.5 L756.0,747.9 L758.0,748.4 L760.0,747.2 L762.0,745.5 L764.0,745.4 L766.0,745.3 L768.0,745.3 L770.0,744.8 L772.0,744.0 L774.0,744.8 L776.0,744.6 L778.0,742.0 L780.0,743.2 L782.0,741.1 L784.0,742.7 L786.0,744.2 L788.0,745.5 L790.0,744.4 L792.0,746.3 L794.0,748.3" fill="none" stroke="#8890a0" stroke-width="1" clip-path="url(#cr3)"/>
<rect x="4" y="739" width="27" height="17" fill="#eef3fb" opacity="0.85"/>
<rect x="17" y="745" width="4" height="2" fill="#222"/>
<text x="373.94 379.94 385.94 391.94" y="761" font-family="Liberation Sans,sans-serif" font-size="11" fill="#3a3a3a" stroke="#3a3a3a" stroke-width="0.25">2025</text>
<path d="M412,739 l-4.5,5 l4.5,5" stroke="#3a3f4a" stroke-width="1.8" fill="none" shape-rendering="auto"/>
<path d="M782,739 l4.5,5 l-4.5,5" stroke="#3a3f4a" stroke-width="1.8" fill="none" shape-rendering="auto"/>
<rect x="807" y="486" width="788" height="122" fill="#fff"/>
<rect x="807" y="608" width="788" height="118" fill="#fff"/>
<rect x="807" y="485" width="788" height="1" fill="#d4d4d4"/>
<rect x="807" y="486" width="1" height="239" fill="#cfcfcf"/>
<rect x="1531" y="486" width="1" height="222" fill="#cfcfcf"/>
<rect x="808" y="608" width="787" height="1" fill="#cfcfcf"/>
<rect x="808" y="707" width="787" height="1" fill="#cfcfcf"/>
<rect x="807" y="725" width="788" height="1" fill="#d8d8d8"/>
<text x="814.94 874.94 880.94 886.94 892.94 898.94 904.94 940.94" y="498" font-family="Liberation Sans,sans-serif" font-size="11" fill="#3a8ae6" >[600007]</text><text x="821.00 833.00 845.00 857.00 917.00 929.00" y="498" font-family="Liberation Sans,Noto Sans CJK SC,sans-serif" font-size="12" fill="#3a8ae6" >中国国贸日线</text>
<path d="M810.5,518V592M810.5,626V705M824.5,518V592M824.5,626V705M827.5,518V592M827.5,626V705M838.5,518V592M838.5,626V705M855.5,518V592M855.5,626V705M872.5,518V592M872.5,626V705M888.5,518V592M888.5,626V705M904.5,518V592M904.5,626V705M921.5,518V592M921.5,626V705M938.5,518V592M938.5,626V705M955.5,518V592M955.5,626V705M969.5,518V592M969.5,626V705M986.5,518V592M986.5,626V705M1003.5,518V592M1003.5,626V705M1020.5,518V592M1020.5,626V705M1030.5,518V592M1030.5,626V705M1044.5,518V592M1044.5,626V705M1060.5,518V592M1060.5,626V705M1077.5,518V592M1077.5,626V705M1094.5,518V592M1094.5,626V705M1107.5,518V592M1107.5,626V705M1124.5,518V592M1124.5,626V705M1141.5,518V592M1141.5,626V705M1158.5,518V592M1158.5,626V705M1175.5,518V592M1175.5,626V705M1192.5,518V592M1192.5,626V705M1208.5,518V592M1208.5,626V705M1225.5,518V592M1225.5,626V705M1242.5,518V592M1242.5,626V705M1259.5,518V592M1259.5,626V705M1276.5,518V592M1276.5,626V705M1293.5,518V592M1293.5,626V705M1310.5,518V592M1310.5,626V705M1327.5,518V592M1327.5,626V705M1344.5,518V592M1344.5,626V705M1360.5,518V592M1360.5,626V705M1377.5,518V592M1377.5,626V705M1384.5,518V592M1384.5,626V705M1390.5,518V592M1390.5,626V705M1407.5,518V592M1407.5,626V705M1424.5,518V592M1424.5,626V705M1441.5,518V592M1441.5,626V705M1458.5,518V592M1458.5,626V705M1475.5,518V592M1475.5,626V705" stroke="#c8c8c8" stroke-width="1" stroke-dasharray="1,2" fill="none"/>
<path d="M808,518.5H1531M808,592.5H1531M808,626.5H1531M808,653.5H1531M808,680.5H1531" stroke="#c8c8c8" stroke-width="1" stroke-dasharray="1,4" fill="none"/>
<path d="M810.5,526.4V528.6M814.5,525.1V529.1M817.5,523.6V527.0M824.5,522.7V527.5M841.5,537.5V541.8M844.5,535.2V540.8M847.5,532.6V538.4M851.5,531.5V536.3M858.5,531.8V536.3M888.5,539.8V546.4M891.5,538.6V543.3M895.5,538.1V542.2M898.5,536.6V542.6M901.5,535.3V541.2M932.5,551.9V555.6M935.5,548.8V556.0M939.5,548.0V552.2M942.5,548.4V550.6M952.5,545.9V553.0M955.5,544.1V549.9M959.5,543.1V547.6M962.5,541.2V548.8M976.5,546.3V558.3M979.5,544.3V551.8M982.5,545.9V551.2M996.5,550.2V555.3M999.5,550.9V553.3M1003.5,551.4V553.4M1043.5,563.3V567.1M1047.5,563.0V566.1M1050.5,563.2V566.6M1063.5,565.9V569.3M1070.5,565.7V568.3M1074.5,564.0V568.6M1080.5,564.4V568.2M1084.5,563.1V565.9M1087.5,562.5V567.6M1094.5,558.8V566.1M1097.5,556.8V563.1M1101.5,557.5V560.0M1114.5,556.9V567.2M1117.5,555.0V560.1M1128.5,562.3V565.3M1134.5,561.3V564.2M1144.5,560.4V570.0M1148.5,554.2V566.2M1158.5,580.3V583.7M1161.5,579.1V583.3M1165.5,577.1V582.2M1168.5,575.4V580.6M1171.5,576.7V580.0M1182.5,574.4V581.0M1185.5,572.2V577.9M1198.5,576.3V578.7M1215.5,574.1V579.9M1219.5,574.0V578.1M1232.5,572.8V577.5M1252.5,581.0V583.0M1263.5,579.5V582.9M1266.5,579.6V581.6M1283.5,578.3V584.4M1286.5,577.1V582.5M1290.5,574.7V580.8M1293.5,575.2V578.4M1306.5,579.8V584.0M1310.5,580.8V582.8M1320.5,579.3V584.5M1323.5,574.1V582.8M1327.5,573.9V578.9M1330.5,573.7V578.8M1333.5,571.6V578.6M1337.5,569.9V576.0M1340.5,566.8V573.6M1344.5,566.3V571.3M1347.5,563.4V571.6M1350.5,560.0V567.8M1354.5,560.2V563.0M1394.5,581.8V587.8M1398.5,579.7V586.8M1401.5,579.5V583.4M1408.5,580.3V584.6M1411.5,580.2V583.5M1414.5,579.3V582.6M1418.5,578.5V582.2M1445.5,582.6V586.5M1448.5,581.6V585.4M1452.5,580.3V585.4M1455.5,579.6V585.0M1458.5,577.1V584.9M1462.5,574.7V582.4M1465.5,572.7V579.6M1468.5,573.0V576.6M1479.5,574.9V579.5M1482.5,574.8V579.2M972.5,552.5V571M824.5,519V532M1148.5,555.5V567.5M1350.5,556V569.5" stroke="#f03535" stroke-width="1.3" fill="none"/>
<path d="M820.5,527.5V530.3M827.5,522.2V534.2M831.5,531.9V543.9M834.5,538.2V542.7M837.5,539.0V542.0M854.5,533.9V538.1M861.5,532.0V538.7M864.5,534.7V539.5M868.5,536.2V540.6M871.5,535.8V542.8M874.5,538.4V546.6M878.5,541.3V547.2M881.5,543.4V545.6M885.5,542.5V547.2M905.5,537.4V545.8M908.5,541.3V547.0M912.5,540.9V549.8M915.5,545.1V553.5M918.5,548.1V554.0M922.5,548.5V554.0M925.5,551.3V556.2M928.5,552.4V555.1M945.5,548.1V550.9M949.5,548.5V551.5M966.5,544.1V556.1M969.5,556.6V568.6M972.5,556.7V568.6M986.5,548.2V555.8M989.5,551.2V557.7M993.5,553.1V556.9M1006.5,550.3V554.7M1009.5,550.2V554.8M1013.5,550.4V556.4M1016.5,552.4V556.3M1020.5,553.5V558.5M1023.5,553.0V561.4M1026.5,555.4V565.5M1030.5,560.7V567.5M1033.5,561.5V568.5M1036.5,564.7V569.4M1040.5,564.5V568.5M1053.5,562.9V568.0M1057.5,565.6V570.0M1060.5,567.7V569.7M1067.5,565.5V568.7M1077.5,565.5V568.3M1090.5,564.1V568.4M1104.5,555.7V563.7M1107.5,559.5V566.0M1111.5,563.0V566.7M1121.5,553.9V564.9M1124.5,561.4V568.3M1131.5,563.9V567.6M1138.5,561.3V567.2M1141.5,564.7V567.8M1151.5,572.5V584.5M1155.5,580.1V584.8M1175.5,577.3V582.5M1178.5,576.2V582.6M1188.5,573.5V578.7M1192.5,574.4V579.5M1195.5,575.8V579.2M1202.5,574.9V579.3M1205.5,575.6V579.1M1209.5,576.2V580.3M1212.5,575.8V580.4M1222.5,573.6V578.1M1225.5,575.3V578.7M1229.5,573.9V580.0M1236.5,575.0V585.4M1239.5,578.6V585.0M1242.5,581.3V583.3M1246.5,581.2V583.3M1249.5,580.1V583.9M1256.5,580.4V583.6M1259.5,579.4V584.4M1269.5,580.0V582.2M1273.5,580.1V582.4M1276.5,579.5V584.0M1279.5,580.3V583.7M1296.5,575.1V582.0M1300.5,575.9V583.9M1303.5,580.7V585.5M1313.5,580.3V583.7M1317.5,579.7V583.1M1357.5,559.3V569.8M1360.5,564.0V576.0M1364.5,570.3V578.9M1367.5,574.5V580.8M1371.5,575.9V583.3M1374.5,578.7V585.5M1377.5,580.3V584.7M1381.5,580.6V587.1M1384.5,581.9V588.5M1387.5,585.2V588.8M1391.5,585.2V589.2M1404.5,579.7V584.5M1421.5,579.5V584.0M1425.5,580.3V584.7M1428.5,580.3V585.9M1431.5,582.5V586.8M1435.5,584.3V588.2M1438.5,584.6V587.9M1441.5,583.6V588.1M1472.5,573.5V578.3M1475.5,574.7V580.1M970.5,554V577.5M828.5,519V540M1151.5,572.5V584.5M1354.5,555.5V569.5M1358.5,563V572" stroke="#2c9c1c" stroke-width="1.3" fill="none"/>
<path d="M808,577.5H1531" stroke="#1f8cf5" stroke-width="1" stroke-dasharray="3,3" fill="none"/>
<circle cx="1482" cy="577" r="2.6" fill="#f03535"/>
<text x="837.94 843.94 851.47 855.94 861.94" y="523" font-family="Liberation Sans,sans-serif" font-size="11" fill="#333" >25.20</text>
<path d="M824,519.5H838" stroke="#333" stroke-width="1"/>
<path d="M824,519.5 l5,-3 v6 z" fill="#333"/>
<text x="1343.94 1349.94 1357.47 1361.94 1367.94" y="594" font-family="Liberation Sans,sans-serif" font-size="11" fill="#333" >19.93</text>
<path d="M1376,590.5H1392" stroke="#333" stroke-width="1"/>
<path d="M1392,590.5 l-5,-3 v6 z" fill="#333"/>
<path d="M1150,592 L1155,601 H1145 Z" fill="none" stroke="#f03535" stroke-width="1.2"/>
<path d="M1532,518.5H1538" stroke="#aaa" stroke-width="1"/>
<text x="1542.94 1548.94 1556.47 1560.94 1566.94" y="522" font-family="Liberation Sans,sans-serif" font-size="11" fill="#222" >25.25</text>
<path d="M1532,592.5H1538" stroke="#aaa" stroke-width="1"/>
<text x="1542.94 1548.94 1556.47 1560.94 1566.94" y="596" font-family="Liberation Sans,sans-serif" font-size="11" fill="#222" >19.15</text>
<rect x="1531.5" y="563.5" width="63" height="27" fill="#e9eef8" stroke="#cdd5e3"/>
<path d="M1531,577.5H1595" stroke="#cdd5e3"/>
<text x="1548.94 1554.94 1562.47 1566.94 1572.94" y="574" font-family="Liberation Sans,sans-serif" font-size="11" fill="#f03535" >20.91</text>
<text x="1548.94 1556.47 1560.94 1566.94" y="588" font-family="Liberation Sans,sans-serif" font-size="11" fill="#f03535" >0.87</text><text transform="translate(1573.30,588) scale(0.6,1)" font-family="Liberation Sans,sans-serif" font-size="11" fill="#f03535" >%</text>
<path d="M810.5,676.2V705M814.5,688.8V705M817.5,682.0V705M824.5,673.0V705M841.5,682.0V705M844.5,688.0V705M847.5,683.0V705M851.5,689.0V705M858.5,682.0V705M888.5,683.0V705M891.5,689.0V705M895.5,693.0V705M898.5,684.0V705M901.5,685.0V705M932.5,676.2V705M935.5,665.0V705M939.5,655.0V705M942.5,671.0V705M952.5,679.0V705M955.5,669.0V705M959.5,650.0V705M962.5,658.0V705M976.5,659.0V705M979.5,656.0V705M982.5,679.0V705M996.5,679.0V705M999.5,690.0V705M1003.5,685.8V705M1043.5,669.0V705M1047.5,675.0V705M1050.5,678.0V705M1063.5,688.0V705M1070.5,692.0V705M1074.5,688.0V705M1080.5,680.8V705M1084.5,683.0V705M1087.5,672.0V705M1094.5,647.0V705M1097.5,689.0V705M1101.5,684.0V705M1114.5,667.0V705M1117.5,655.0V705M1128.5,687.0V705M1134.5,668.0V705M1144.5,685.0V705M1148.5,650.0V705M1158.5,678.0V705M1161.5,680.0V705M1165.5,672.0V705M1168.5,691.2V705M1171.5,691.2V705M1182.5,685.8V705M1185.5,671.0V705M1198.5,692.0V705M1215.5,670.8V705M1219.5,678.0V705M1232.5,670.8V705M1252.5,687.0V705M1263.5,688.0V705M1266.5,685.8V705M1283.5,678.0V705M1286.5,665.8V705M1290.5,679.0V705M1293.5,668.0V705M1306.5,672.0V705M1310.5,675.0V705M1320.5,673.0V705M1323.5,649.0V705M1327.5,679.0V705M1330.5,669.0V705M1333.5,684.0V705M1337.5,670.0V705M1340.5,661.0V705M1344.5,680.0V705M1347.5,683.0V705M1350.5,667.0V705M1354.5,665.8V705M1394.5,672.0V705M1398.5,676.0V705M1401.5,688.8V705M1408.5,684.0V705M1411.5,691.0V705M1414.5,693.0V705M1418.5,683.0V705M1445.5,682.0V705M1448.5,684.0V705M1452.5,688.0V705M1455.5,692.0V705M1458.5,685.0V705M1462.5,685.0V705M1465.5,677.0V705M1468.5,685.0V705M1479.5,689.0V705M1482.5,693.0V705" stroke="#f03535" stroke-width="1.2" fill="none"/>
<path d="M820.5,682.0V705M827.5,672.0V705M831.5,680.8V705M834.5,679.0V705M837.5,680.8V705M854.5,672.0V705M861.5,691.2V705M864.5,690.0V705M868.5,687.0V705M871.5,680.8V705M874.5,685.0V705M878.5,687.0V705M881.5,687.0V705M885.5,684.0V705M905.5,689.0V705M908.5,691.2V705M912.5,680.0V705M915.5,670.0V705M918.5,645.0V705M922.5,650.8V705M925.5,649.0V705M928.5,672.0V705M945.5,682.0V705M949.5,681.2V705M966.5,679.0V705M969.5,660.0V705M972.5,643.0V705M986.5,682.0V705M989.5,682.0V705M993.5,685.0V705M1006.5,677.0V705M1009.5,666.0V705M1013.5,682.0V705M1016.5,685.8V705M1020.5,680.0V705M1023.5,688.0V705M1026.5,670.0V705M1030.5,664.0V705M1033.5,666.0V705M1036.5,678.0V705M1040.5,676.2V705M1053.5,679.0V705M1057.5,675.0V705M1060.5,680.8V705M1067.5,691.2V705M1077.5,678.0V705M1090.5,671.2V705M1104.5,692.0V705M1107.5,669.0V705M1111.5,679.0V705M1121.5,627.0V705M1124.5,663.0V705M1131.5,685.0V705M1138.5,682.0V705M1141.5,675.0V705M1151.5,626.2V705M1155.5,677.0V705M1175.5,684.0V705M1178.5,685.8V705M1188.5,675.0V705M1192.5,684.0V705M1195.5,688.0V705M1202.5,693.0V705M1205.5,686.2V705M1209.5,665.8V705M1212.5,677.0V705M1222.5,677.0V705M1225.5,680.8V705M1229.5,685.0V705M1236.5,657.0V705M1239.5,687.0V705M1242.5,687.0V705M1246.5,693.0V705M1249.5,679.0V705M1256.5,690.8V705M1259.5,683.0V705M1269.5,687.0V705M1273.5,679.0V705M1276.5,679.0V705M1279.5,684.0V705M1296.5,679.0V705M1300.5,673.0V705M1303.5,663.0V705M1313.5,675.0V705M1317.5,678.0V705M1357.5,677.0V705M1360.5,677.0V705M1364.5,675.0V705M1367.5,671.0V705M1371.5,662.0V705M1374.5,677.0V705M1377.5,688.8V705M1381.5,680.8V705M1384.5,667.0V705M1387.5,677.0V705M1391.5,674.0V705M1404.5,681.0V705M1421.5,687.0V705M1425.5,686.5V705M1428.5,685.8V705M1431.5,682.0V705M1435.5,680.8V705M1438.5,682.0V705M1441.5,684.0V705M1472.5,690.0V705M1475.5,685.8V705" stroke="#2c9c1c" stroke-width="1.2" fill="none"/>
<rect x="809" y="610" width="20" height="15" fill="#4a8fec"/>
<text x="819" y="622" text-anchor="middle" font-family="Liberation Sans" font-size="12" fill="#fff">?</text>
<text x="831" y="620.5" font-family="Liberation Serif" font-size="12.5" fill="#333" textLength="29" lengthAdjust="spacingAndGlyphs">VOLFS</text>
<text x="875.47 879.94 885.94 891.94 897.94 903.94 911.47 915.94 921.94" y="621" font-family="Liberation Sans,sans-serif" font-size="11" fill="#f5f500" >:12499.00</text>
<path d="M1505.85,617.85 L1507.95,617.99 L1507.95,621.01 L1505.85,621.15 L1505.45,622.11 L1506.83,623.70 L1504.70,625.83 L1503.11,624.45 L1502.15,624.85 L1502.01,626.95 L1498.99,626.95 L1498.85,624.85 L1497.89,624.45 L1496.30,625.83 L1494.17,623.70 L1495.55,622.11 L1495.15,621.15 L1493.05,621.01 L1493.05,617.99 L1495.15,617.85 L1495.55,616.89 L1494.17,615.30 L1496.30,613.17 L1497.89,614.55 L1498.85,614.15 L1498.99,612.05 L1502.01,612.05 L1502.15,614.15 L1503.11,614.55 L1504.70,613.17 L1506.83,615.30 L1505.45,616.89 Z" fill="#f23a3a" shape-rendering="auto"/><circle cx="1500.5" cy="619.5" r="3.1" fill="#fff" shape-rendering="auto"/>
<path d="M1514,614l11,11M1525,614l-11,11" stroke="#f23a3a" stroke-width="1.6" shape-rendering="auto"/>
<text x="1532.94 1538.94 1544.94 1550.94 1556.94" y="631" font-family="Liberation Sans,sans-serif" font-size="11" fill="#222" >72264</text>
<text x="1532.94 1538.94 1544.94 1550.94 1556.94" y="658" font-family="Liberation Sans,sans-serif" font-size="11" fill="#222" >48176</text>
<text x="1532.94 1538.94 1544.94 1550.94 1556.94" y="685" font-family="Liberation Sans,sans-serif" font-size="11" fill="#222" >24088</text>
<path d="M1531,696V706H1520Z" fill="#3d8af0"/>
<text x="809.94 815.94 821.94 827.94 835.47 839.94 845.94 853.47 857.94 863.94 871.17 889.17" y="719" font-family="Liberation Sans,sans-serif" font-size="11" fill="#333" >2025/01/21()</text><text x="876.00" y="719" font-family="Liberation Sans,Noto Sans CJK SC,sans-serif" font-size="12" fill="#333" >二</text>
<rect x="904" y="708" width="1" height="8" fill="#bbb"/>
<text x="904.94 910.94" y="719" font-family="Liberation Sans,sans-serif" font-size="11" fill="#333" >10</text>
<rect x="937" y="708" width="1" height="8" fill="#bbb"/>
<text x="937.94 943.94" y="719" font-family="Liberation Sans,sans-serif" font-size="11" fill="#333" >24</text>
<rect x="968" y="708" width="1" height="8" fill="#bbb"/>
<text x="968.94 974.94" y="719" font-family="Liberation Sans,sans-serif" font-size="11" fill="#333" >07</text>
<rect x="1002" y="708" width="1" height="8" fill="#bbb"/>
<text x="1002.94 1008.94" y="719" font-family="Liberation Sans,sans-serif" font-size="11" fill="#333" >21</text>
<rect x="1029" y="708" width="1" height="8" fill="#bbb"/>
<text x="1029.94 1035.94" y="719" font-family="Liberation Sans,sans-serif" font-size="11" fill="#333" >06</text>
<rect x="1059" y="708" width="1" height="8" fill="#bbb"/>
<text x="1059.94 1065.94" y="719" font-family="Liberation Sans,sans-serif" font-size="11" fill="#333" >19</text>
<rect x="1093" y="708" width="1" height="8" fill="#bbb"/>
<text x="1093.94 1099.94" y="719" font-family="Liberation Sans,sans-serif" font-size="11" fill="#333" >03</text>
<rect x="1123" y="708" width="1" height="8" fill="#bbb"/>
<text x="1123.94 1129.94" y="719" font-family="Liberation Sans,sans-serif" font-size="11" fill="#333" >16</text>
<rect x="1157" y="708" width="1" height="8" fill="#bbb"/>
<text x="1157.94 1163.94" y="719" font-family="Liberation Sans,sans-serif" font-size="11" fill="#333" >30</text>
<rect x="1191" y="708" width="1" height="8" fill="#bbb"/>
<text x="1191.94 1197.94" y="719" font-family="Liberation Sans,sans-serif" font-size="11" fill="#333" >14</text>
<rect x="1225" y="708" width="1" height="8" fill="#bbb"/>
<text x="1225.94 1231.94" y="719" font-family="Liberation Sans,sans-serif" font-size="11" fill="#333" >28</text>
<rect x="1259" y="708" width="1" height="8" fill="#bbb"/>
<text x="1259.94 1265.94" y="719" font-family="Liberation Sans,sans-serif" font-size="11" fill="#333" >11</text>
<rect x="1292" y="708" width="1" height="8" fill="#bbb"/>
<text x="1292.94 1298.94" y="719" font-family="Liberation Sans,sans-serif" font-size="11" fill="#333" >25</text>
<rect x="1326" y="708" width="1" height="8" fill="#bbb"/>
<text x="1326.94 1332.94" y="719" font-family="Liberation Sans,sans-serif" font-size="11" fill="#333" >08</text>
<rect x="1359" y="708" width="1" height="8" fill="#bbb"/>
<text x="1359.94 1365.94" y="719" font-family="Liberation Sans,sans-serif" font-size="11" fill="#333" >22</text>
<rect x="1384" y="708" width="1" height="8" fill="#bbb"/>
<text x="1384.94 1390.94" y="719" font-family="Liberation Sans,sans-serif" font-size="11" fill="#333" >09</text>
<rect x="1406" y="708" width="1" height="8" fill="#bbb"/>
<text x="1406.94 1412.94" y="719" font-family="Liberation Sans,sans-serif" font-size="11" fill="#333" >20</text>
<rect x="1440" y="708" width="1" height="8" fill="#bbb"/>
<text x="1440.94 1446.94" y="719" font-family="Liberation Sans,sans-serif" font-size="11" fill="#333" >03</text>
<rect x="1474" y="708" width="1" height="8" fill="#bbb"/>
<text x="1474.94 1480.94" y="719" font-family="Liberation Sans,sans-serif" font-size="11" fill="#333" >17</text>
<rect x="807" y="726" width="394" height="39" fill="#dde9fa"/>
<rect x="1201" y="726" width="394" height="39" fill="#d2d7df"/>
<clipPath id="cl4"><rect x="807" y="726" width="394" height="39"/></clipPath>
<clipPath id="cr4"><rect x="1201" y="726" width="394" height="39"/></clipPath>
<path d="M808.0,757.7 L810.0,753.1 L812.0,748.5 L814.0,743.6 L816.0,747.5 L818.0,748.8 L820.0,751.8 L822.0,751.1 L824.0,751.1 L826.0,751.4 L828.0,753.2 L830.0,751.7 L832.0,753.7 L834.0,752.4 L836.0,753.1 L838.0,752.6 L840.0,753.0 L842.0,751.2 L844.0,751.7 L846.0,752.7 L848.0,750.4 L850.0,751.3 L852.0,750.1 L854.0,749.7 L856.0,748.6 L858.0,748.3 L860.0,750.1 L862.0,749.2 L864.0,748.6 L866.0,748.0 L868.0,747.8 L870.0,745.2 L872.0,745.7 L874.0,744.9 L876.0,744.8 L878.0,746.0 L880.0,745.9 L882.0,746.7 L884.0,744.8 L886.0,746.5 L888.0,746.9 L890.0,747.4 L892.0,747.4 L894.0,748.2 L896.0,747.2 L898.0,749.1 L900.0,748.2 L902.0,749.1 L904.0,750.2 L906.0,750.1 L908.0,749.5 L910.0,749.7 L912.0,750.3 L914.0,751.5 L916.0,752.9 L918.0,753.0 L920.0,752.1 L922.0,752.5 L924.0,754.0 L926.0,753.0 L928.0,753.8 L930.0,753.1 L932.0,754.0 L934.0,755.3 L936.0,756.1 L938.0,756.3 L940.0,755.8 L942.0,757.6 L944.0,756.9 L946.0,755.9 L948.0,755.9 L950.0,758.4 L952.0,758.7 L954.0,758.7 L956.0,758.1 L958.0,757.5 L960.0,757.1 L962.0,757.7 L964.0,757.7 L966.0,759.7 L968.0,759.8 L970.0,759.6 L972.0,758.1 L974.0,758.5 L976.0,758.8 L978.0,760.7 L980.0,758.5 L982.0,760.0 L984.0,759.5 L986.0,759.0 L988.0,759.9 L990.0,758.0 L992.0,758.5 L994.0,757.4 L996.0,757.1 L998.0,756.8 L1000.0,757.7 L1002.0,757.3 L1004.0,757.3 L1006.0,759.9 L1008.0,758.2 L1010.0,759.9 L1012.0,759.6 L1014.0,759.8 L1016.0,759.8 L1018.0,760.7 L1020.0,759.6 L1022.0,758.3 L1024.0,757.1 L1026.0,756.5 L1028.0,755.7 L1030.0,754.4 L1032.0,753.4 L1034.0,751.4 L1036.0,751.7 L1038.0,749.3 L1040.0,746.7 L1042.0,745.5 L1044.0,745.9 L1046.0,742.8 L1048.0,741.7 L1050.0,740.8 L1052.0,739.6 L1054.0,736.6 L1056.0,742.2 L1058.0,747.8 L1060.0,747.1 L1062.0,749.6 L1064.0,747.6 L1066.0,750.4 L1068.0,748.6 L1070.0,748.9 L1072.0,751.0 L1074.0,751.2 L1076.0,750.0 L1078.0,751.1 L1080.0,751.3 L1082.0,752.3 L1084.0,751.2 L1086.0,753.2 L1088.0,754.0 L1090.0,753.6 L1092.0,754.5 L1094.0,754.9 L1096.0,753.8 L1098.0,755.4 L1100.0,755.5 L1102.0,755.0 L1104.0,753.9 L1106.0,755.4 L1108.0,756.3 L1110.0,754.9 L1112.0,755.9 L1114.0,756.7 L1116.0,756.1 L1118.0,754.8 L1120.0,756.0 L1122.0,754.8 L1124.0,756.0 L1126.0,755.2 L1128.0,754.0 L1130.0,755.2 L1132.0,754.2 L1134.0,753.2 L1136.0,754.2 L1138.0,754.0 L1140.0,753.2 L1142.0,752.4 L1144.0,751.0 L1146.0,750.3 L1148.0,749.3 L1150.0,748.3 L1152.0,748.7 L1154.0,746.7 L1156.0,746.1 L1158.0,747.8 L1160.0,747.3 L1162.0,747.6 L1164.0,747.8 L1166.0,747.0 L1168.0,747.0 L1170.0,746.7 L1172.0,748.7 L1174.0,749.2 L1176.0,749.0 L1178.0,747.8 L1180.0,750.3 L1182.0,750.2 L1184.0,749.7 L1186.0,748.7 L1188.0,751.1 L1190.0,750.9 L1192.0,751.2 L1194.0,749.5 L1196.0,750.8 L1198.0,748.5 L1200.0,749.1 L1202.0,747.7 L1204.0,747.7 L1206.0,748.5 L1208.0,747.6 L1210.0,748.2 L1212.0,747.1 L1214.0,747.7 L1216.0,748.6 L1218.0,747.5 L1220.0,748.8 L1222.0,750.6 L1224.0,750.2 L1226.0,750.6 L1228.0,749.3 L1230.0,750.4 L1232.0,750.8 L1234.0,750.7 L1236.0,750.1 L1238.0,749.6 L1240.0,749.3 L1242.0,751.6 L1244.0,751.9 L1246.0,750.3 L1248.0,751.7 L1250.0,750.9 L1252.0,751.7 L1254.0,752.4 L1256.0,751.2 L1258.0,752.1 L1260.0,751.3 L1262.0,752.1 L1264.0,751.1 L1266.0,751.8 L1268.0,752.0 L1270.0,753.8 L1272.0,752.0 L1274.0,753.7 L1276.0,752.2 L1278.0,754.6 L1280.0,752.7 L1282.0,752.6 L1284.0,753.1 L1286.0,755.1 L1288.0,754.6 L1290.0,755.3 L1292.0,754.4 L1294.0,754.2 L1296.0,756.2 L1298.0,757.9 L1300.0,759.1 L1302.0,756.8 L1304.0,756.9 L1306.0,758.3 L1308.0,756.2 L1310.0,758.3 L1312.0,756.4 L1314.0,756.9 L1316.0,757.0 L1318.0,757.5 L1320.0,755.1 L1322.0,757.0 L1324.0,755.2 L1326.0,756.7 L1328.0,755.0 L1330.0,757.0 L1332.0,755.5 L1334.0,755.7 L1336.0,755.3 L1338.0,756.1 L1340.0,756.2 L1342.0,758.0 L1344.0,757.1 L1346.0,756.6 L1348.0,758.3 L1350.0,756.1 L1352.0,756.1 L1354.0,757.9 L1356.0,757.9 L1358.0,757.1 L1360.0,757.8 L1362.0,755.3 L1364.0,757.4 L1366.0,756.8 L1368.0,756.6 L1370.0,757.0 L1372.0,755.0 L1374.0,755.2 L1376.0,755.1 L1378.0,755.9 L1380.0,756.1 L1382.0,756.1 L1384.0,755.6 L1386.0,756.6 L1388.0,756.9 L1390.0,756.7 L1392.0,754.8 L1394.0,755.1 L1396.0,755.3 L1398.0,755.3 L1400.0,761.0 L1402.0,761.2 L1404.0,762.2 L1406.0,761.4 L1408.0,761.4 L1410.0,762.2 L1412.0,762.7 L1414.0,760.7 L1416.0,761.0 L1418.0,762.6 L1420.0,760.5 L1422.0,760.0 L1424.0,760.3 L1426.0,761.9 L1428.0,761.6 L1430.0,762.1 L1432.0,761.0 L1434.0,759.8 L1436.0,760.5 L1438.0,761.6 L1440.0,760.7 L1442.0,760.1 L1444.0,760.7 L1446.0,760.9 L1448.0,760.6 L1450.0,760.9 L1452.0,760.1 L1454.0,759.8 L1456.0,761.7 L1458.0,761.6 L1460.0,760.8 L1462.0,760.0 L1464.0,760.5 L1466.0,761.2 L1468.0,762.0 L1470.0,761.0 L1472.0,762.2 L1474.0,761.0 L1476.0,759.9 L1478.0,760.9 L1480.0,760.7 L1482.0,760.5 L1484.0,760.7 L1486.0,758.7 L1488.0,759.6 L1490.0,760.4 L1492.0,758.5 L1494.0,758.1 L1496.0,758.3 L1498.0,758.4 L1500.0,758.6 L1502.0,758.1 L1504.0,758.7 L1506.0,757.2 L1508.0,757.5 L1510.0,758.1 L1512.0,757.5 L1514.0,758.4 L1516.0,758.2 L1518.0,756.8 L1520.0,757.3 L1522.0,758.2 L1524.0,758.6 L1526.0,758.5 L1528.0,760.1 L1530.0,758.7 L1532.0,759.8 L1534.0,759.1 L1536.0,761.1 L1538.0,760.4 L1540.0,761.5 L1542.0,759.4 L1544.0,761.0 L1546.0,760.8 L1548.0,759.4 L1550.0,761.5 L1552.0,761.7 L1554.0,759.7 L1556.0,762.1 L1558.0,761.7 L1560.0,761.3 L1562.0,761.1 L1564.0,760.4 L1566.0,759.8 L1568.0,760.9 L1570.0,762.0 L1572.0,760.2 L1574.0,760.9 L1576.0,760.4 L1578.0,761.5 L1580.0,762.1 L1582.0,761.8 L1584.0,760.1 L1586.0,760.3 L1588.0,759.1 L1590.0,760.3 L1592.0,761.0 L1594.0,760.9 L1594.0,765 L808.0,765 Z" fill="#c7d2e8" clip-path="url(#cl4)"/>
<path d="M808.0,757.7 L810.0,753.1 L812.0,748.5 L814.0,743.6 L816.0,747.5 L818.0,748.8 L820.0,751.8 L822.0,751.1 L824.0,751.1 L826.0,751.4 L828.0,753.2 L830.0,751.7 L832.0,753.7 L834.0,752.4 L836.0,753.1 L838.0,752.6 L840.0,753.0 L842.0,751.2 L844.0,751.7 L846.0,752.7 L848.0,750.4 L850.0,751.3 L852.0,750.1 L854.0,749.7 L856.0,748.6 L858.0,748.3 L860.0,750.1 L862.0,749.2 L864.0,748.6 L866.0,748.0 L868.0,747.8 L870.0,745.2 L872.0,745.7 L874.0,744.9 L876.0,744.8 L878.0,746.0 L880.0,745.9 L882.0,746.7 L884.0,744.8 L886.0,746.5 L888.0,746.9 L890.0,747.4 L892.0,747.4 L894.0,748.2 L896.0,747.2 L898.0,749.1 L900.0,748.2 L902.0,749.1 L904.0,750.2 L906.0,750.1 L908.0,749.5 L910.0,749.7 L912.0,750.3 L914.0,751.5 L916.0,752.9 L918.0,753.0 L920.0,752.1 L922.0,752.5 L924.0,754.0 L926.0,753.0 L928.0,753.8 L930.0,753.1 L932.0,754.0 L934.0,755.3 L936.0,756.1 L938.0,756.3 L940.0,755.8 L942.0,757.6 L944.0,756.9 L946.0,755.9 L948.0,755.9 L950.0,758.4 L952.0,758.7 L954.0,758.7 L956.0,758.1 L958.0,757.5 L960.0,757.1 L962.0,757.7 L964.0,757.7 L966.0,759.7 L968.0,759.8 L970.0,759.6 L972.0,758.1 L974.0,758.5 L976.0,758.8 L978.0,760.7 L980.0,758.5 L982.0,760.0 L984.0,759.5 L986.0,759.0 L988.0,759.9 L990.0,758.0 L992.0,758.5 L994.0,757.4 L996.0,757.1 L998.0,756.8 L1000.0,757.7 L1002.0,757.3 L1004.0,757.3 L1006.0,759.9 L1008.0,758.2 L1010.0,759.9 L1012.0,759.6 L1014.0,759.8 L1016.0,759.8 L1018.0,760.7 L1020.0,759.6 L1022.0,758.3 L1024.0,757.1 L1026.0,756.5 L1028.0,755.7 L1030.0,754.4 L1032.0,753.4 L1034.0,751.4 L1036.0,751.7 L1038.0,749.3 L1040.0,746.7 L1042.0,745.5 L1044.0,745.9 L1046.0,742.8 L1048.0,741.7 L1050.0,740.8 L1052.0,739.6 L1054.0,736.6 L1056.0,742.2 L1058.0,747.8 L1060.0,747.1 L1062.0,749.6 L1064.0,747.6 L1066.0,750.4 L1068.0,748.6 L1070.0,748.9 L1072.0,751.0 L1074.0,751.2 L1076.0,750.0 L1078.0,751.1 L1080.0,751.3 L1082.0,752.3 L1084.0,751.2 L1086.0,753.2 L1088.0,754.0 L1090.0,753.6 L1092.0,754.5 L1094.0,754.9 L1096.0,753.8 L1098.0,755.4 L1100.0,755.5 L1102.0,755.0 L1104.0,753.9 L1106.0,755.4 L1108.0,756.3 L1110.0,754.9 L1112.0,755.9 L1114.0,756.7 L1116.0,756.1 L1118.0,754.8 L1120.0,756.0 L1122.0,754.8 L1124.0,756.0 L1126.0,755.2 L1128.0,754.0 L1130.0,755.2 L1132.0,754.2 L1134.0,753.2 L1136.0,754.2 L1138.0,754.0 L1140.0,753.2 L1142.0,752.4 L1144.0,751.0 L1146.0,750.3 L1148.0,749.3 L1150.0,748.3 L1152.0,748.7 L1154.0,746.7 L1156.0,746.1 L1158.0,747.8 L1160.0,747.3 L1162.0,747.6 L1164.0,747.8 L1166.0,747.0 L1168.0,747.0 L1170.0,746.7 L1172.0,748.7 L1174.0,749.2 L1176.0,749.0 L1178.0,747.8 L1180.0,750.3 L1182.0,750.2 L1184.0,749.7 L1186.0,748.7 L1188.0,751.1 L1190.0,750.9 L1192.0,751.2 L1194.0,749.5 L1196.0,750.8 L1198.0,748.5 L1200.0,749.1 L1202.0,747.7 L1204.0,747.7 L1206.0,748.5 L1208.0,747.6 L1210.0,748.2 L1212.0,747.1 L1214.0,747.7 L1216.0,748.6 L1218.0,747.5 L1220.0,748.8 L1222.0,750.6 L1224.0,750.2 L1226.0,750.6 L1228.0,749.3 L1230.0,750.4 L1232.0,750.8 L1234.0,750.7 L1236.0,750.1 L1238.0,749.6 L1240.0,749.3 L1242.0,751.6 L1244.0,751.9 L1246.0,750.3 L1248.0,751.7 L1250.0,750.9 L1252.0,751.7 L1254.0,752.4 L1256.0,751.2 L1258.0,752.1 L1260.0,751.3 L1262.0,752.1 L1264.0,751.1 L1266.0,751.8 L1268.0,752.0 L1270.0,753.8 L1272.0,752.0 L1274.0,753.7 L1276.0,752.2 L1278.0,754.6 L1280.0,752.7 L1282.0,752.6 L1284.0,753.1 L1286.0,755.1 L1288.0,754.6 L1290.0,755.3 L1292.0,754.4 L1294.0,754.2 L1296.0,756.2 L1298.0,757.9 L1300.0,759.1 L1302.0,756.8 L1304.0,756.9 L1306.0,758.3 L1308.0,756.2 L1310.0,758.3 L1312.0,756.4 L1314.0,756.9 L1316.0,757.0 L1318.0,757.5 L1320.0,755.1 L1322.0,757.0 L1324.0,755.2 L1326.0,756.7 L1328.0,755.0 L1330.0,757.0 L1332.0,755.5 L1334.0,755.7 L1336.0,755.3 L1338.0,756.1 L1340.0,756.2 L1342.0,758.0 L1344.0,757.1 L1346.0,756.6 L1348.0,758.3 L1350.0,756.1 L1352.0,756.1 L1354.0,757.9 L1356.0,757.9 L1358.0,757.1 L1360.0,757.8 L1362.0,755.3 L1364.0,757.4 L1366.0,756.8 L1368.0,756.6 L1370.0,757.0 L1372.0,755.0 L1374.0,755.2 L1376.0,755.1 L1378.0,755.9 L1380.0,756.1 L1382.0,756.1 L1384.0,755.6 L1386.0,756.6 L1388.0,756.9 L1390.0,756.7 L1392.0,754.8 L1394.0,755.1 L1396.0,755.3 L1398.0,755.3 L1400.0,761.0 L1402.0,761.2 L1404.0,762.2 L1406.0,761.4 L1408.0,761.4 L1410.0,762.2 L1412.0,762.7 L1414.0,760.7 L1416.0,761.0 L1418.0,762.6 L1420.0,760.5 L1422.0,760.0 L1424.0,760.3 L1426.0,761.9 L1428.0,761.6 L1430.0,762.1 L1432.0,761.0 L1434.0,759.8 L1436.0,760.5 L1438.0,761.6 L1440.0,760.7 L1442.0,760.1 L1444.0,760.7 L1446.0,760.9 L1448.0,760.6 L1450.0,760.9 L1452.0,760.1 L1454.0,759.8 L1456.0,761.7 L1458.0,761.6 L1460.0,760.8 L1462.0,760.0 L1464.0,760.5 L1466.0,761.2 L1468.0,762.0 L1470.0,761.0 L1472.0,762.2 L1474.0,761.0 L1476.0,759.9 L1478.0,760.9 L1480.0,760.7 L1482.0,760.5 L1484.0,760.7 L1486.0,758.7 L1488.0,759.6 L1490.0,760.4 L1492.0,758.5 L1494.0,758.1 L1496.0,758.3 L1498.0,758.4 L1500.0,758.6 L1502.0,758.1 L1504.0,758.7 L1506.0,757.2 L1508.0,757.5 L1510.0,758.1 L1512.0,757.5 L1514.0,758.4 L1516.0,758.2 L1518.0,756.8 L1520.0,757.3 L1522.0,758.2 L1524.0,758.6 L1526.0,758.5 L1528.0,760.1 L1530.0,758.7 L1532.0,759.8 L1534.0,759.1 L1536.0,761.1 L1538.0,760.4 L1540.0,761.5 L1542.0,759.4 L1544.0,761.0 L1546.0,760.8 L1548.0,759.4 L1550.0,761.5 L1552.0,761.7 L1554.0,759.7 L1556.0,762.1 L1558.0,761.7 L1560.0,761.3 L1562.0,761.1 L1564.0,760.4 L1566.0,759.8 L1568.0,760.9 L1570.0,762.0 L1572.0,760.2 L1574.0,760.9 L1576.0,760.4 L1578.0,761.5 L1580.0,762.1 L1582.0,761.8 L1584.0,760.1 L1586.0,760.3 L1588.0,759.1 L1590.0,760.3 L1592.0,761.0 L1594.0,760.9 L1594.0,765 L808.0,765 Z" fill="#c4c9d4" clip-path="url(#cr4)"/>
<path d="M808.0,757.7 L810.0,753.1 L812.0,748.5 L814.0,743.6 L816.0,747.5 L818.0,748.8 L820.0,751.8 L822.0,751.1 L824.0,751.1 L826.0,751.4 L828.0,753.2 L830.0,751.7 L832.0,753.7 L834.0,752.4 L836.0,753.1 L838.0,752.6 L840.0,753.0 L842.0,751.2 L844.0,751.7 L846.0,752.7 L848.0,750.4 L850.0,751.3 L852.0,750.1 L854.0,749.7 L856.0,748.6 L858.0,748.3 L860.0,750.1 L862.0,749.2 L864.0,748.6 L866.0,748.0 L868.0,747.8 L870.0,745.2 L872.0,745.7 L874.0,744.9 L876.0,744.8 L878.0,746.0 L880.0,745.9 L882.0,746.7 L884.0,744.8 L886.0,746.5 L888.0,746.9 L890.0,747.4 L892.0,747.4 L894.0,748.2 L896.0,747.2 L898.0,749.1 L900.0,748.2 L902.0,749.1 L904.0,750.2 L906.0,750.1 L908.0,749.5 L910.0,749.7 L912.0,750.3 L914.0,751.5 L916.0,752.9 L918.0,753.0 L920.0,752.1 L922.0,752.5 L924.0,754.0 L926.0,753.0 L928.0,753.8 L930.0,753.1 L932.0,754.0 L934.0,755.3 L936.0,756.1 L938.0,756.3 L940.0,755.8 L942.0,757.6 L944.0,756.9 L946.0,755.9 L948.0,755.9 L950.0,758.4 L952.0,758.7 L954.0,758.7 L956.0,758.1 L958.0,757.5 L960.0,757.1 L962.0,757.7 L964.0,757.7 L966.0,759.7 L968.0,759.8 L970.0,759.6 L972.0,758.1 L974.0,758.5 L976.0,758.8 L978.0,760.7 L980.0,758.5 L982.0,760.0 L984.0,759.5 L986.0,759.0 L988.0,759.9 L990.0,758.0 L992.0,758.5 L994.0,757.4 L996.0,757.1 L998.0,756.8 L1000.0,757.7 L1002.0,757.3 L1004.0,757.3 L1006.0,759.9 L1008.0,758.2 L1010.0,759.9 L1012.0,759.6 L1014.0,759.8 L1016.0,759.8 L1018.0,760.7 L1020.0,759.6 L1022.0,758.3 L1024.0,757.1 L1026.0,756.5 L1028.0,755.7 L1030.0,754.4 L1032.0,753.4 L1034.0,751.4 L1036.0,751.7 L1038.0,749.3 L1040.0,746.7 L1042.0,745.5 L1044.0,745.9 L1046.0,742.8 L1048.0,741.7 L1050.0,740.8 L1052.0,739.6 L1054.0,736.6 L1056.0,742.2 L1058.0,747.8 L1060.0,747.1 L1062.0,749.6 L1064.0,747.6 L1066.0,750.4 L1068.0,748.6 L1070.0,748.9 L1072.0,751.0 L1074.0,751.2 L1076.0,750.0 L1078.0,751.1 L1080.0,751.3 L1082.0,752.3 L1084.0,751.2 L1086.0,753.2 L1088.0,754.0 L1090.0,753.6 L1092.0,754.5 L1094.0,754.9 L1096.0,753.8 L1098.0,755.4 L1100.0,755.5 L1102.0,755.0 L1104.0,753.9 L1106.0,755.4 L1108.0,756.3 L1110.0,754.9 L1112.0,755.9 L1114.0,756.7 L1116.0,756.1 L1118.0,754.8 L1120.0,756.0 L1122.0,754.8 L1124.0,756.0 L1126.0,755.2 L1128.0,754.0 L1130.0,755.2 L1132.0,754.2 L1134.0,753.2 L1136.0,754.2 L1138.0,754.0 L1140.0,753.2 L1142.0,752.4 L1144.0,751.0 L1146.0,750.3 L1148.0,749.3 L1150.0,748.3 L1152.0,748.7 L1154.0,746.7 L1156.0,746.1 L1158.0,747.8 L1160.0,747.3 L1162.0,747.6 L1164.0,747.8 L1166.0,747.0 L1168.0,747.0 L1170.0,746.7 L1172.0,748.7 L1174.0,749.2 L1176.0,749.0 L1178.0,747.8 L1180.0,750.3 L1182.0,750.2 L1184.0,749.7 L1186.0,748.7 L1188.0,751.1 L1190.0,750.9 L1192.0,751.2 L1194.0,749.5 L1196.0,750.8 L1198.0,748.5 L1200.0,749.1 L1202.0,747.7 L1204.0,747.7 L1206.0,748.5 L1208.0,747.6 L1210.0,748.2 L1212.0,747.1 L1214.0,747.7 L1216.0,748.6 L1218.0,747.5 L1220.0,748.8 L1222.0,750.6 L1224.0,750.2 L1226.0,750.6 L1228.0,749.3 L1230.0,750.4 L1232.0,750.8 L1234.0,750.7 L1236.0,750.1 L1238.0,749.6 L1240.0,749.3 L1242.0,751.6 L1244.0,751.9 L1246.0,750.3 L1248.0,751.7 L1250.0,750.9 L1252.0,751.7 L1254.0,752.4 L1256.0,751.2 L1258.0,752.1 L1260.0,751.3 L1262.0,752.1 L1264.0,751.1 L1266.0,751.8 L1268.0,752.0 L1270.0,753.8 L1272.0,752.0 L1274.0,753.7 L1276.0,752.2 L1278.0,754.6 L1280.0,752.7 L1282.0,752.6 L1284.0,753.1 L1286.0,755.1 L1288.0,754.6 L1290.0,755.3 L1292.0,754.4 L1294.0,754.2 L1296.0,756.2 L1298.0,757.9 L1300.0,759.1 L1302.0,756.8 L1304.0,756.9 L1306.0,758.3 L1308.0,756.2 L1310.0,758.3 L1312.0,756.4 L1314.0,756.9 L1316.0,757.0 L1318.0,757.5 L1320.0,755.1 L1322.0,757.0 L1324.0,755.2 L1326.0,756.7 L1328.0,755.0 L1330.0,757.0 L1332.0,755.5 L1334.0,755.7 L1336.0,755.3 L1338.0,756.1 L1340.0,756.2 L1342.0,758.0 L1344.0,757.1 L1346.0,756.6 L1348.0,758.3 L1350.0,756.1 L1352.0,756.1 L1354.0,757.9 L1356.0,757.9 L1358.0,757.1 L1360.0,757.8 L1362.0,755.3 L1364.0,757.4 L1366.0,756.8 L1368.0,756.6 L1370.0,757.0 L1372.0,755.0 L1374.0,755.2 L1376.0,755.1 L1378.0,755.9 L1380.0,756.1 L1382.0,756.1 L1384.0,755.6 L1386.0,756.6 L1388.0,756.9 L1390.0,756.7 L1392.0,754.8 L1394.0,755.1 L1396.0,755.3 L1398.0,755.3 L1400.0,761.0 L1402.0,761.2 L1404.0,762.2 L1406.0,761.4 L1408.0,761.4 L1410.0,762.2 L1412.0,762.7 L1414.0,760.7 L1416.0,761.0 L1418.0,762.6 L1420.0,760.5 L1422.0,760.0 L1424.0,760.3 L1426.0,761.9 L1428.0,761.6 L1430.0,762.1 L1432.0,761.0 L1434.0,759.8 L1436.0,760.5 L1438.0,761.6 L1440.0,760.7 L1442.0,760.1 L1444.0,760.7 L1446.0,760.9 L1448.0,760.6 L1450.0,760.9 L1452.0,760.1 L1454.0,759.8 L1456.0,761.7 L1458.0,761.6 L1460.0,760.8 L1462.0,760.0 L1464.0,760.5 L1466.0,761.2 L1468.0,762.0 L1470.0,761.0 L1472.0,762.2 L1474.0,761.0 L1476.0,759.9 L1478.0,760.9 L1480.0,760.7 L1482.0,760.5 L1484.0,760.7 L1486.0,758.7 L1488.0,759.6 L1490.0,760.4 L1492.0,758.5 L1494.0,758.1 L1496.0,758.3 L1498.0,758.4 L1500.0,758.6 L1502.0,758.1 L1504.0,758.7 L1506.0,757.2 L1508.0,757.5 L1510.0,758.1 L1512.0,757.5 L1514.0,758.4 L1516.0,758.2 L1518.0,756.8 L1520.0,757.3 L1522.0,758.2 L1524.0,758.6 L1526.0,758.5 L1528.0,760.1 L1530.0,758.7 L1532.0,759.8 L1534.0,759.1 L1536.0,761.1 L1538.0,760.4 L1540.0,761.5 L1542.0,759.4 L1544.0,761.0 L1546.0,760.8 L1548.0,759.4 L1550.0,761.5 L1552.0,761.7 L1554.0,759.7 L1556.0,762.1 L1558.0,761.7 L1560.0,761.3 L1562.0,761.1 L1564.0,760.4 L1566.0,759.8 L1568.0,760.9 L1570.0,762.0 L1572.0,760.2 L1574.0,760.9 L1576.0,760.4 L1578.0,761.5 L1580.0,762.1 L1582.0,761.8 L1584.0,760.1 L1586.0,760.3 L1588.0,759.1 L1590.0,760.3 L1592.0,761.0 L1594.0,760.9" fill="none" stroke="#6d7b9a" stroke-width="1" clip-path="url(#cl4)"/>
<path d="M808.0,757.7 L810.0,753.1 L812.0,748.5 L814.0,743.6 L816.0,747.5 L818.0,748.8 L820.0,751.8 L822.0,751.1 L824.0,751.1 L826.0,751.4 L828.0,753.2 L830.0,751.7 L832.0,753.7 L834.0,752.4 L836.0,753.1 L838.0,752.6 L840.0,753.0 L842.0,751.2 L844.0,751.7 L846.0,752.7 L848.0,750.4 L850.0,751.3 L852.0,750.1 L854.0,749.7 L856.0,748.6 L858.0,748.3 L860.0,750.1 L862.0,749.2 L864.0,748.6 L866.0,748.0 L868.0,747.8 L870.0,745.2 L872.0,745.7 L874.0,744.9 L876.0,744.8 L878.0,746.0 L880.0,745.9 L882.0,746.7 L884.0,744.8 L886.0,746.5 L888.0,746.9 L890.0,747.4 L892.0,747.4 L894.0,748.2 L896.0,747.2 L898.0,749.1 L900.0,748.2 L902.0,749.1 L904.0,750.2 L906.0,750.1 L908.0,749.5 L910.0,749.7 L912.0,750.3 L914.0,751.5 L916.0,752.9 L918.0,753.0 L920.0,752.1 L922.0,752.5 L924.0,754.0 L926.0,753.0 L928.0,753.8 L930.0,753.1 L932.0,754.0 L934.0,755.3 L936.0,756.1 L938.0,756.3 L940.0,755.8 L942.0,757.6 L944.0,756.9 L946.0,755.9 L948.0,755.9 L950.0,758.4 L952.0,758.7 L954.0,758.7 L956.0,758.1 L958.0,757.5 L960.0,757.1 L962.0,757.7 L964.0,757.7 L966.0,759.7 L968.0,759.8 L970.0,759.6 L972.0,758.1 L974.0,758.5 L976.0,758.8 L978.0,760.7 L980.0,758.5 L982.0,760.0 L984.0,759.5 L986.0,759.0 L988.0,759.9 L990.0,758.0 L992.0,758.5 L994.0,757.4 L996.0,757.1 L998.0,756.8 L1000.0,757.7 L1002.0,757.3 L1004.0,757.3 L1006.0,759.9 L1008.0,758.2 L1010.0,759.9 L1012.0,759.6 L1014.0,759.8 L1016.0,759.8 L1018.0,760.7 L1020.0,759.6 L1022.0,758.3 L1024.0,757.1 L1026.0,756.5 L1028.0,755.7 L1030.0,754.4 L1032.0,753.4 L1034.0,751.4 L1036.0,751.7 L1038.0,749.3 L1040.0,746.7 L1042.0,745.5 L1044.0,745.9 L1046.0,742.8 L1048.0,741.7 L1050.0,740.8 L1052.0,739.6 L1054.0,736.6 L1056.0,742.2 L1058.0,747.8 L1060.0,747.1 L1062.0,749.6 L1064.0,747.6 L1066.0,750.4 L1068.0,748.6 L1070.0,748.9 L1072.0,751.0 L1074.0,751.2 L1076.0,750.0 L1078.0,751.1 L1080.0,751.3 L1082.0,752.3 L1084.0,751.2 L1086.0,753.2 L1088.0,754.0 L1090.0,753.6 L1092.0,754.5 L1094.0,754.9 L1096.0,753.8 L1098.0,755.4 L1100.0,755.5 L1102.0,755.0 L1104.0,753.9 L1106.0,755.4 L1108.0,756.3 L1110.0,754.9 L1112.0,755.9 L1114.0,756.7 L1116.0,756.1 L1118.0,754.8 L1120.0,756.0 L1122.0,754.8 L1124.0,756.0 L1126.0,755.2 L1128.0,754.0 L1130.0,755.2 L1132.0,754.2 L1134.0,753.2 L1136.0,754.2 L1138.0,754.0 L1140.0,753.2 L1142.0,752.4 L1144.0,751.0 L1146.0,750.3 L1148.0,749.3 L1150.0,748.3 L1152.0,748.7 L1154.0,746.7 L1156.0,746.1 L1158.0,747.8 L1160.0,747.3 L1162.0,747.6 L1164.0,747.8 L1166.0,747.0 L1168.0,747.0 L1170.0,746.7 L1172.0,748.7 L1174.0,749.2 L1176.0,749.0 L1178.0,747.8 L1180.0,750.3 L1182.0,750.2 L1184.0,749.7 L1186.0,748.7 L1188.0,751.1 L1190.0,750.9 L1192.0,751.2 L1194.0,749.5 L1196.0,750.8 L1198.0,748.5 L1200.0,749.1 L1202.0,747.7 L1204.0,747.7 L1206.0,748.5 L1208.0,747.6 L1210.0,748.2 L1212.0,747.1 L1214.0,747.7 L1216.0,748.6 L1218.0,747.5 L1220.0,748.8 L1222.0,750.6 L1224.0,750.2 L1226.0,750.6 L1228.0,749.3 L1230.0,750.4 L1232.0,750.8 L1234.0,750.7 L1236.0,750.1 L1238.0,749.6 L1240.0,749.3 L1242.0,751.6 L1244.0,751.9 L1246.0,750.3 L1248.0,751.7 L1250.0,750.9 L1252.0,751.7 L1254.0,752.4 L1256.0,751.2 L1258.0,752.1 L1260.0,751.3 L1262.0,752.1 L1264.0,751.1 L1266.0,751.8 L1268.0,752.0 L1270.0,753.8 L1272.0,752.0 L1274.0,753.7 L1276.0,752.2 L1278.0,754.6 L1280.0,752.7 L1282.0,752.6 L1284.0,753.1 L1286.0,755.1 L1288.0,754.6 L1290.0,755.3 L1292.0,754.4 L1294.0,754.2 L1296.0,756.2 L1298.0,757.9 L1300.0,759.1 L1302.0,756.8 L1304.0,756.9 L1306.0,758.3 L1308.0,756.2 L1310.0,758.3 L1312.0,756.4 L1314.0,756.9 L1316.0,757.0 L1318.0,757.5 L1320.0,755.1 L1322.0,757.0 L1324.0,755.2 L1326.0,756.7 L1328.0,755.0 L1330.0,757.0 L1332.0,755.5 L1334.0,755.7 L1336.0,755.3 L1338.0,756.1 L1340.0,756.2 L1342.0,758.0 L1344.0,757.1 L1346.0,756.6 L1348.0,758.3 L1350.0,756.1 L1352.0,756.1 L1354.0,757.9 L1356.0,757.9 L1358.0,757.1 L1360.0,757.8 L1362.0,755.3 L1364.0,757.4 L1366.0,756.8 L1368.0,756.6 L1370.0,757.0 L1372.0,755.0 L1374.0,755.2 L1376.0,755.1 L1378.0,755.9 L1380.0,756.1 L1382.0,756.1 L1384.0,755.6 L1386.0,756.6 L1388.0,756.9 L1390.0,756.7 L1392.0,754.8 L1394.0,755.1 L1396.0,755.3 L1398.0,755.3 L1400.0,761.0 L1402.0,761.2 L1404.0,762.2 L1406.0,761.4 L1408.0,761.4 L1410.0,762.2 L1412.0,762.7 L1414.0,760.7 L1416.0,761.0 L1418.0,762.6 L1420.0,760.5 L1422.0,760.0 L1424.0,760.3 L1426.0,761.9 L1428.0,761.6 L1430.0,762.1 L1432.0,761.0 L1434.0,759.8 L1436.0,760.5 L1438.0,761.6 L1440.0,760.7 L1442.0,760.1 L1444.0,760.7 L1446.0,760.9 L1448.0,760.6 L1450.0,760.9 L1452.0,760.1 L1454.0,759.8 L1456.0,761.7 L1458.0,761.6 L1460.0,760.8 L1462.0,760.0 L1464.0,760.5 L1466.0,761.2 L1468.0,762.0 L1470.0,761.0 L1472.0,762.2 L1474.0,761.0 L1476.0,759.9 L1478.0,760.9 L1480.0,760.7 L1482.0,760.5 L1484.0,760.7 L1486.0,758.7 L1488.0,759.6 L1490.0,760.4 L1492.0,758.5 L1494.0,758.1 L1496.0,758.3 L1498.0,758.4 L1500.0,758.6 L1502.0,758.1 L1504.0,758.7 L1506.0,757.2 L1508.0,757.5 L1510.0,758.1 L1512.0,757.5 L1514.0,758.4 L1516.0,758.2 L1518.0,756.8 L1520.0,757.3 L1522.0,758.2 L1524.0,758.6 L1526.0,758.5 L1528.0,760.1 L1530.0,758.7 L1532.0,759.8 L1534.0,759.1 L1536.0,761.1 L1538.0,760.4 L1540.0,761.5 L1542.0,759.4 L1544.0,761.0 L1546.0,760.8 L1548.0,759.4 L1550.0,761.5 L1552.0,761.7 L1554.0,759.7 L1556.0,762.1 L1558.0,761.7 L1560.0,761.3 L1562.0,761.1 L1564.0,760.4 L1566.0,759.8 L1568.0,760.9 L1570.0,762.0 L1572.0,760.2 L1574.0,760.9 L1576.0,760.4 L1578.0,761.5 L1580.0,762.1 L1582.0,761.8 L1584.0,760.1 L1586.0,760.3 L1588.0,759.1 L1590.0,760.3 L1592.0,761.0 L1594.0,760.9" fill="none" stroke="#8890a0" stroke-width="1" clip-path="url(#cr4)"/>
<rect x="808" y="739" width="27" height="17" fill="#eef3fb" opacity="0.85"/>
<rect x="821" y="745" width="4" height="2" fill="#222"/>
<text x="1175.94 1181.94 1187.94 1193.94" y="761" font-family="Liberation Sans,sans-serif" font-size="11" fill="#3a3a3a" stroke="#3a3a3a" stroke-width="0.25">2025</text>
<path d="M1214,739 l-4.5,5 l4.5,5" stroke="#3a3f4a" stroke-width="1.8" fill="none" shape-rendering="auto"/>
<path d="M1582,739 l4.5,5 l-4.5,5" stroke="#3a3f4a" stroke-width="1.8" fill="none" shape-rendering="auto"/></svg>
</body></html>
